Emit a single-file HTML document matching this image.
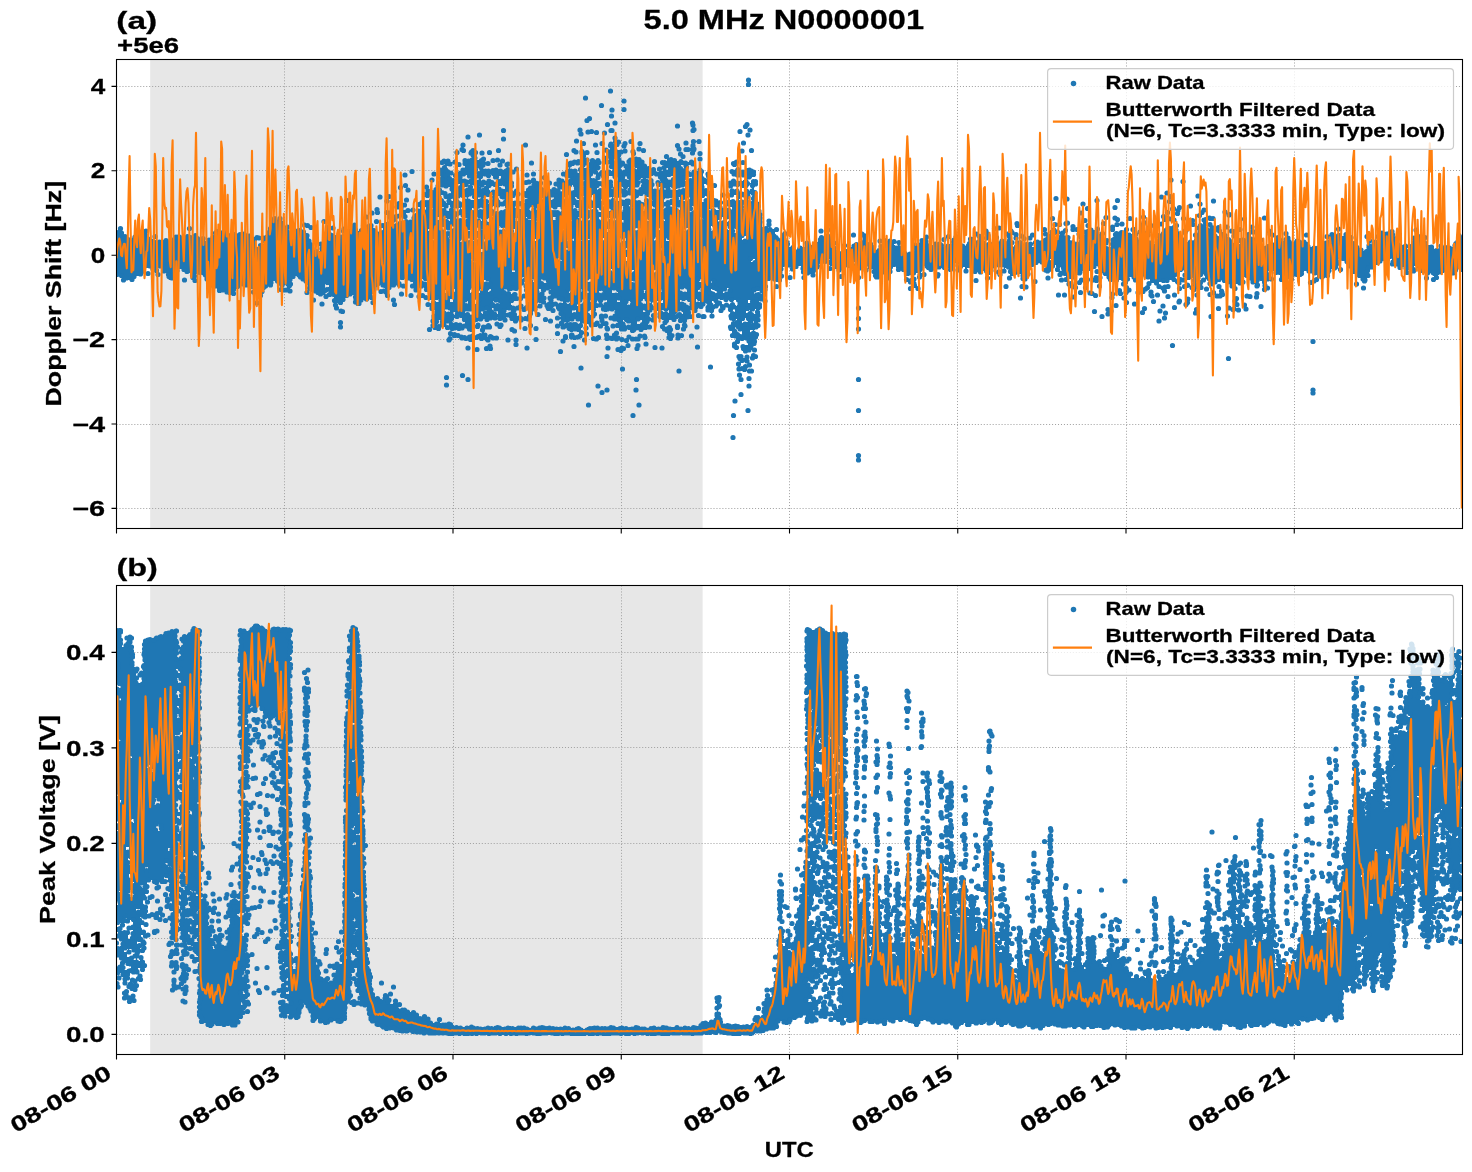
<!DOCTYPE html>
<html><head><meta charset="utf-8"><title>5.0 MHz N0000001</title>
<style>html,body{margin:0;padding:0;background:#fff}svg{display:block;will-change:transform}</style>
</head><body>
<svg width="1472" height="1172" viewBox="0 0 1472 1172" font-family='"Liberation Sans", sans-serif' font-weight="bold" fill="#000">
<defs><clipPath id="ca"><rect x="116.5" y="59.5" width="1346.0" height="469.0"/></clipPath><clipPath id="cb"><rect x="116.5" y="585.5" width="1346.0" height="469.0"/></clipPath></defs>
<rect width="1472" height="1172" fill="#fff"/>
<rect x="150.2" y="59.5" width="552.4" height="469.0" fill="#e7e7e7"/>
<path d="M284.5 59.5V528.5M453.5 59.5V528.5M621.5 59.5V528.5M789.5 59.5V528.5M957.5 59.5V528.5M1126.5 59.5V528.5M1294.5 59.5V528.5M116.5 86.5H1462.5M116.5 170.5H1462.5M116.5 255.5H1462.5M116.5 339.5H1462.5M116.5 424.5H1462.5M116.5 508.5H1462.5" stroke="#a2a2a2" stroke-width="1" stroke-dasharray="1.05 1.92" fill="none"/>
<g clip-path="url(#ca)" fill="none"><path d="M615 137h1M614 138h3M614 139h3M614 140h3M693 140h1M698 140h1M614 141h5M692 141h8M614 142h6M692 142h2M698 142h1M610 143h1M614 143h5M692 143h2M609 144h9M692 144h2M609 145h8M691 145h3M610 146h5M691 146h3M610 147h5M691 147h4M610 148h5M685 148h11M472 149h1M605 149h1M610 149h6M684 149h11M471 150h4M581 150h1M604 150h17M625 150h1M685 150h9M470 151h6M580 151h3M605 151h22M691 151h3M470 152h7M580 152h3M607 152h14M625 152h1M691 152h3M470 153h6M580 153h3M609 153h11M692 153h1M471 154h5M581 154h4M609 154h11M473 155h3M581 155h4M609 155h11M666 155h1M474 156h2M581 156h4M604 156h1M608 156h11M665 156h3M474 157h2M483 157h1M581 157h4M603 157h3M609 157h10M635 157h1M666 157h2M474 158h3M482 158h3M581 158h6M604 158h2M609 158h10M633 158h7M667 158h4M443 159h1M447 159h1M465 159h12M481 159h4M580 159h8M592 159h1M597 159h1M605 159h1M609 159h5M617 159h3M630 159h11M667 159h8M442 160h7M454 160h1M464 160h21M574 160h1M578 160h9M591 160h8M605 160h9M617 160h3M628 160h13M667 160h9M680 160h1M691 160h1M441 161h8M453 161h3M464 161h21M570 161h17M591 161h8M605 161h9M617 161h6M627 161h16M662 161h25M690 161h3M440 162h15M464 162h24M508 162h1M568 162h19M591 162h9M606 162h8M617 162h7M628 162h16M661 162h32M441 163h1M445 163h7M464 163h25M507 163h3M567 163h20M590 163h9M609 163h15M629 163h15M662 163h32M445 164h2M450 164h1M464 164h20M487 164h1M506 164h3M568 164h5M576 164h10M590 164h9M610 164h14M629 164h15M664 164h31M445 165h1M465 165h19M507 165h1M568 165h3M581 165h3M590 165h9M610 165h16M629 165h16M664 165h17M684 165h4M693 165h1M444 166h2M465 166h18M507 166h1M569 166h1M581 166h3M590 166h9M610 166h11M624 166h7M636 166h10M664 166h17M685 166h3M443 167h3M465 167h18M507 167h1M569 167h1M581 167h3M590 167h10M611 167h3M619 167h1M625 167h6M637 167h12M659 167h1M663 167h18M686 167h1M443 168h3M465 168h12M480 168h3M495 168h1M507 168h1M569 168h1M580 168h7M590 168h9M619 168h1M625 168h6M637 168h13M653 168h1M658 168h3M664 168h1M668 168h14M686 168h1M699 168h1M737 168h2M749 168h1M440 169h7M462 169h15M480 169h6M493 169h8M505 169h4M568 169h3M574 169h1M579 169h18M619 169h1M625 169h9M637 169h18M659 169h2M664 169h1M668 169h15M686 169h1M698 169h3M736 169h4M747 169h5M439 170h9M461 170h16M480 170h9M492 170h17M567 170h9M579 170h18M614 170h6M624 170h31M659 170h2M664 170h1M668 170h20M694 170h1M698 170h4M731 170h1M736 170h18M440 171h9M461 171h16M480 171h30M513 171h2M566 171h10M579 171h18M601 171h54M659 171h30M693 171h10M730 171h25M440 172h11M460 172h55M566 172h10M579 172h18M600 172h89M693 172h9M731 172h24M440 173h12M459 173h55M563 173h29M595 173h107M708 173h1M732 173h23M440 174h11M455 174h20M478 174h12M493 174h18M562 174h30M596 174h56M656 174h46M707 174h3M733 174h22M441 175h9M454 175h10M468 175h7M478 175h12M494 175h16M563 175h28M596 175h28M627 175h23M659 175h27M689 175h13M707 175h3M737 175h17M441 176h9M455 176h6M469 176h6M478 176h4M488 176h1M494 176h4M501 176h9M566 176h1M571 176h20M596 176h3M603 176h5M613 176h11M628 176h22M659 176h9M673 176h13M692 176h6M701 176h1M707 176h3M738 176h1M743 176h1M748 176h3M441 177h9M455 177h6M471 177h5M479 177h2M494 177h4M501 177h9M571 177h9M583 177h8M596 177h3M605 177h3M614 177h1M618 177h6M629 177h21M660 177h7M673 177h13M692 177h6M701 177h2M707 177h2M748 177h3M441 178h10M455 178h6M471 178h4M479 178h2M495 178h3M501 178h9M559 178h1M571 178h9M584 178h8M596 178h2M605 178h3M618 178h6M629 178h10M643 178h3M661 178h6M673 178h12M692 178h6M701 178h3M707 178h2M749 178h1M440 179h25M471 179h4M479 179h2M497 179h1M501 179h9M533 179h1M558 179h5M570 179h10M585 179h12M605 179h3M618 179h6M629 179h9M643 179h3M650 179h2M661 179h6M672 179h13M690 179h19M440 180h26M470 180h5M478 180h3M489 180h1M497 180h14M528 180h1M532 180h3M558 180h6M568 180h12M585 180h12M605 180h4M618 180h20M643 180h3M650 180h3M661 180h24M689 180h20M733 180h1M743 180h3M753 180h3M440 181h52M497 181h15M526 181h9M558 181h22M585 181h12M604 181h7M616 181h22M642 181h11M657 181h1M661 181h48M730 181h8M741 181h6M752 181h5M438 182h55M496 182h17M525 182h12M540 182h1M556 182h56M615 182h24M642 182h11M656 182h53M729 182h19M751 182h6M437 183h76M526 183h3M533 183h9M555 183h57M616 183h22M642 183h11M657 183h53M729 183h28M437 184h19M460 184h7M470 184h31M504 184h9M533 184h8M556 184h26M585 184h27M616 184h22M642 184h12M657 184h47M708 184h1M729 184h19M751 184h6M426 185h1M437 185h19M460 185h6M470 185h2M475 185h4M482 185h1M486 185h13M505 185h8M533 185h8M558 185h12M574 185h7M585 185h14M603 185h9M616 185h3M622 185h15M642 185h11M658 185h1M662 185h42M729 185h18M751 185h5M425 186h3M437 186h2M442 186h1M446 186h10M460 186h4M470 186h2M477 186h2M486 186h4M497 186h2M505 186h7M530 186h11M559 186h11M575 186h6M585 186h13M606 186h6M616 186h3M624 186h10M642 186h11M662 186h17M685 186h19M730 186h1M742 186h4M752 186h3M426 187h2M437 187h2M450 187h14M469 187h3M477 187h2M486 187h3M497 187h2M505 187h6M529 187h12M561 187h9M575 187h6M584 187h13M607 187h4M615 187h4M624 187h2M629 187h3M642 187h11M662 187h1M667 187h3M675 187h1M685 187h19M752 187h2M426 188h2M436 188h3M450 188h14M467 188h5M477 188h3M485 188h4M497 188h3M505 188h6M529 188h13M553 188h1M562 188h7M575 188h6M584 188h13M607 188h4M614 188h6M624 188h2M629 188h3M641 188h12M661 188h2M667 188h3M675 188h1M685 188h19M752 188h2M426 189h2M435 189h5M450 189h24M477 189h3M484 189h5M497 189h14M516 189h1M528 189h17M552 189h6M562 189h7M575 189h22M600 189h1M607 189h4M614 189h12M629 189h3M640 189h15M660 189h3M667 189h3M675 189h1M683 189h24M732 189h1M736 189h1M752 189h2M426 190h3M435 190h6M451 190h38M496 190h15M515 190h3M527 190h20M550 190h9M562 190h7M575 190h27M605 190h21M629 190h34M666 190h42M731 190h7M746 190h1M751 190h4M426 191h3M432 191h11M451 191h39M493 191h19M515 191h3M527 191h32M562 191h8M573 191h53M629 191h80M730 191h8M745 191h11M426 192h19M451 192h67M524 192h95M622 192h88M731 192h26M424 193h22M451 193h68M523 193h96M623 193h87M731 193h25M423 194h23M450 194h68M524 194h95M623 194h3M632 194h10M645 194h65M731 194h19M753 194h3M424 195h5M432 195h9M444 195h26M473 195h11M488 195h1M493 195h21M525 195h41M570 195h21M595 195h23M623 195h3M632 195h6M646 195h1M650 195h60M730 195h3M737 195h3M744 195h5M753 195h3M427 196h1M432 196h9M444 196h20M467 196h1M473 196h5M481 196h3M493 196h4M500 196h13M526 196h16M545 196h4M552 196h10M571 196h10M584 196h6M595 196h10M609 196h8M624 196h1M632 196h5M652 196h19M674 196h29M707 196h3M731 196h1M737 196h3M746 196h3M753 196h3M432 197h9M445 197h13M467 197h1M474 197h4M481 197h2M494 197h3M501 197h8M528 197h12M545 197h4M554 197h8M571 197h4M579 197h1M584 197h4M595 197h10M612 197h1M632 197h3M652 197h13M674 197h4M681 197h5M690 197h9M707 197h3M737 197h3M747 197h1M753 197h2M432 198h9M448 198h1M453 198h4M467 198h1M474 198h4M481 198h2M494 198h3M503 198h6M528 198h12M545 198h4M554 198h8M571 198h4M579 198h1M584 198h4M595 198h6M604 198h1M612 198h1M632 198h3M653 198h11M674 198h4M682 198h1M690 198h9M710 198h2M738 198h1M747 198h1M752 198h3M431 199h11M448 199h1M453 199h4M466 199h3M474 199h9M494 199h4M505 199h4M528 199h12M544 199h6M554 199h8M566 199h1M571 199h4M579 199h1M583 199h5M594 199h7M604 199h2M612 199h1M625 199h4M632 199h3M646 199h1M653 199h11M674 199h4M682 199h1M690 199h9M705 199h2M710 199h6M738 199h1M747 199h1M752 199h3M430 200h13M448 200h1M453 200h4M465 200h18M486 200h1M492 200h7M505 200h5M526 200h36M565 200h26M594 200h7M604 200h10M622 200h13M645 200h5M653 200h11M672 200h6M682 200h1M689 200h11M704 200h3M710 200h7M732 200h1M738 200h1M747 200h1M752 200h3M421 201h22M447 201h11M465 201h23M491 201h9M505 201h10M525 201h92M620 201h16M639 201h2M645 201h19M667 201h1M671 201h13M688 201h12M704 201h13M720 201h1M728 201h6M737 201h5M746 201h3M752 201h3M420 202h24M447 202h13M465 202h23M491 202h9M504 202h12M520 202h1M525 202h117M645 202h40M688 202h34M727 202h16M746 202h3M752 202h4M419 203h42M465 203h23M491 203h231M727 203h16M746 203h12M418 204h185M606 204h115M728 204h15M746 204h13M419 205h29M451 205h43M497 205h1M502 205h12M517 205h1M521 205h52M576 205h27M606 205h23M632 205h38M674 205h47M730 205h13M746 205h14M420 206h21M445 206h2M451 206h28M482 206h11M506 206h8M521 206h16M540 206h33M577 206h26M606 206h15M624 206h5M635 206h8M646 206h3M655 206h7M666 206h4M676 206h16M697 206h24M733 206h26M420 207h4M427 207h14M451 207h2M456 207h5M464 207h13M483 207h9M507 207h7M521 207h8M534 207h2M540 207h10M555 207h1M561 207h3M570 207h3M579 207h29M611 207h2M616 207h4M624 207h5M636 207h7M647 207h2M655 207h7M666 207h4M676 207h1M680 207h12M697 207h13M713 207h1M719 207h3M733 207h9M746 207h13M420 208h4M427 208h3M433 208h8M451 208h2M460 208h1M464 208h8M475 208h2M484 208h8M507 208h10M521 208h8M534 208h2M540 208h10M562 208h1M570 208h3M580 208h7M593 208h4M600 208h7M611 208h2M616 208h3M624 208h6M636 208h7M647 208h2M655 208h6M666 208h7M676 208h1M680 208h12M697 208h11M713 208h1M719 208h5M728 208h1M733 208h9M746 208h13M407 209h1M419 209h5M427 209h3M433 209h11M450 209h3M460 209h1M464 209h8M475 209h2M484 209h8M507 209h22M534 209h2M540 209h10M570 209h5M580 209h7M593 209h4M601 209h6M611 209h2M616 209h2M624 209h9M636 209h7M647 209h14M665 209h12M680 209h11M696 209h12M713 209h1M719 209h11M733 209h9M746 209h13M402 210h7M418 210h12M433 210h12M450 210h3M460 210h12M475 210h6M484 210h9M505 210h24M533 210h17M569 210h7M580 210h7M593 210h4M601 210h6M611 210h7M624 210h19M646 210h15M664 210h25M695 210h13M712 210h18M733 210h27M387 211h1M402 211h6M417 211h37M459 211h34M500 211h30M533 211h17M553 211h5M563 211h1M568 211h30M601 211h17M623 211h38M664 211h25M694 211h66M386 212h4M402 212h5M417 212h202M622 212h67M693 212h67M387 213h4M401 213h5M416 213h345M389 214h1M400 214h6M414 214h347M389 215h1M395 215h11M413 215h43M461 215h13M478 215h88M571 215h190M389 216h1M394 216h6M404 216h3M413 216h30M446 216h9M462 216h12M478 216h12M493 216h72M571 216h33M608 216h153M1209 216h1M274 217h1M280 217h1M388 217h3M394 217h5M405 217h1M412 217h25M440 217h3M448 217h7M462 217h3M468 217h6M479 217h7M493 217h33M529 217h24M556 217h9M571 217h7M582 217h17M603 217h1M610 217h2M615 217h65M683 217h17M704 217h17M724 217h38M1208 217h6M273 218h3M279 218h3M389 218h7M412 218h25M440 218h3M450 218h5M462 218h3M468 218h6M482 218h4M493 218h22M518 218h8M531 218h5M539 218h14M556 218h9M568 218h10M583 218h5M592 218h7M603 218h1M610 218h2M616 218h2M621 218h25M649 218h13M665 218h15M683 218h17M704 218h16M725 218h2M730 218h32M1205 218h10M273 219h3M279 219h3M389 219h6M412 219h25M440 219h3M450 219h6M460 219h5M468 219h8M482 219h4M493 219h22M518 219h8M531 219h5M540 219h13M556 219h22M583 219h5M593 219h6M603 219h1M610 219h2M616 219h2M625 219h21M649 219h13M665 219h15M684 219h16M704 219h14M725 219h2M730 219h32M768 219h1M1204 219h3M1210 219h4M272 220h10M389 220h5M406 220h1M410 220h37M450 220h6M459 220h20M482 220h4M492 220h23M518 220h9M531 220h5M540 220h29M572 220h8M583 220h5M593 220h6M602 220h3M610 220h3M616 220h2M625 220h21M649 220h13M665 220h15M684 220h34M725 220h2M730 220h32M767 220h3M1203 220h3M271 221h11M389 221h5M400 221h1M405 221h82M490 221h46M540 221h29M572 221h18M593 221h13M609 221h4M616 221h4M625 221h55M684 221h34M723 221h4M730 221h32M768 221h2M1204 221h2M271 222h12M388 222h6M399 222h170M572 222h49M625 222h137M768 222h2M1204 222h2M271 223h11M385 223h9M399 223h363M768 223h2M1204 223h6M271 224h11M354 224h1M363 224h1M371 224h1M382 224h380M768 224h3M1088 224h1M1176 224h1M1200 224h1M1204 224h7M270 225h12M287 225h1M327 225h1M353 225h3M362 225h3M368 225h5M381 225h381M769 225h1M1073 225h1M1087 225h3M1174 225h4M1199 225h7M1209 225h2M270 226h13M286 226h3M326 226h3M332 226h1M352 226h4M362 226h2M367 226h5M382 226h69M455 226h44M502 226h209M714 226h12M729 226h33M769 226h1M1072 226h3M1088 226h2M1168 226h1M1173 226h4M1198 226h8M1211 226h2M1218 226h1M1252 226h1M120 227h1M270 227h18M326 227h8M351 227h5M362 227h2M367 227h5M383 227h59M445 227h5M455 227h19M479 227h7M490 227h8M506 227h56M565 227h3M571 227h64M641 227h70M717 227h9M730 227h36M769 227h1M1072 227h3M1088 227h2M1097 227h1M1167 227h10M1197 227h9M1211 227h3M1217 227h3M1251 227h3M119 228h3M269 228h19M326 228h3M332 228h1M351 228h5M362 228h2M367 228h5M383 228h45M431 228h11M446 228h3M455 228h11M469 228h5M480 228h1M484 228h1M494 228h4M507 228h54M566 228h1M572 228h62M642 228h1M647 228h11M662 228h22M688 228h23M717 228h9M730 228h4M738 228h34M776 228h1M1044 228h1M1053 228h1M1072 228h5M1081 228h1M1088 228h4M1096 228h3M1126 228h1M1132 228h3M1167 228h10M1198 228h9M1211 228h3M1217 228h3M1252 228h2M118 229h4M146 229h1M269 229h19M298 229h3M327 229h1M350 229h7M361 229h14M383 229h45M431 229h11M453 229h13M470 229h4M480 229h1M494 229h4M507 229h6M516 229h44M566 229h1M573 229h34M610 229h24M642 229h1M647 229h11M662 229h21M688 229h23M717 229h9M730 229h4M739 229h39M1010 229h1M1043 229h3M1052 229h3M1065 229h1M1071 229h12M1088 229h5M1096 229h2M1125 229h3M1131 229h5M1165 229h12M1199 229h21M1252 229h2M118 230h4M142 230h6M216 230h2M223 230h1M269 230h19M293 230h11M327 230h1M350 230h7M360 230h16M383 230h45M431 230h11M452 230h14M470 230h5M480 230h1M488 230h1M494 230h6M503 230h1M507 230h6M516 230h44M566 230h1M573 230h34M610 230h24M642 230h1M647 230h11M662 230h21M688 230h23M714 230h20M739 230h38M1009 230h3M1044 230h2M1052 230h6M1064 230h3M1072 230h1M1076 230h22M1125 230h2M1132 230h4M1164 230h13M1199 230h22M1252 230h3M1392 230h1M117 231h5M141 231h6M215 231h4M222 231h4M269 231h20M292 231h13M327 231h1M350 231h26M382 231h61M451 231h16M470 231h13M487 231h26M516 231h44M564 231h6M573 231h34M610 231h25M638 231h45M686 231h48M739 231h36M1009 231h3M1044 231h2M1051 231h8M1062 231h4M1077 231h3M1084 231h14M1121 231h1M1125 231h1M1132 231h4M1164 231h13M1199 231h17M1219 231h2M1251 231h5M1389 231h5M116 232h7M140 232h7M214 232h13M244 232h1M268 232h21M292 232h14M327 232h3M350 232h28M381 232h132M516 232h218M738 232h37M785 232h1M861 232h1M976 232h1M1009 232h4M1044 232h2M1051 232h7M1061 232h3M1077 232h3M1085 232h13M1102 232h1M1116 232h1M1120 232h6M1132 232h4M1163 232h15M1198 232h18M1250 232h5M1285 232h1M1382 232h12M116 233h7M136 233h11M214 233h13M233 233h1M239 233h7M267 233h40M326 233h5M349 233h426M784 233h3M860 233h3M975 233h3M1007 233h5M1044 233h3M1051 233h4M1061 233h3M1077 233h3M1086 233h12M1101 233h3M1115 233h11M1132 233h4M1161 233h18M1198 233h18M1221 233h2M1248 233h4M1284 233h3M1332 233h1M1346 233h1M1381 233h13M115 234h9M135 234h12M195 234h1M214 234h33M267 234h41M326 234h6M345 234h430M783 234h3M861 234h4M976 234h4M1006 234h5M1045 234h8M1061 234h3M1078 234h2M1086 234h17M1114 234h12M1129 234h8M1157 234h22M1195 234h21M1221 234h4M1247 234h4M1285 234h2M1331 234h3M1337 234h3M1345 234h3M1381 234h13M1458 234h1M115 235h10M134 235h14M176 235h4M187 235h1M194 235h3M214 235h37M267 235h42M325 235h8M344 235h431M782 235h3M827 235h2M863 235h3M926 235h1M955 235h1M978 235h3M1007 235h4M1047 235h6M1061 235h3M1086 235h15M1114 235h22M1156 235h24M1194 235h22M1222 235h4M1247 235h4M1286 235h1M1327 235h1M1331 235h10M1345 235h3M1377 235h17M1420 235h1M1457 235h3M115 236h12M133 236h15M175 236h6M186 236h5M194 236h3M213 236h39M257 236h1M264 236h45M325 236h123M451 236h292M746 236h31M782 236h3M821 236h1M826 236h4M863 236h3M925 236h3M954 236h3M979 236h2M1008 236h3M1047 236h6M1060 236h4M1067 236h2M1080 236h2M1085 236h16M1114 236h22M1157 236h23M1195 236h21M1222 236h4M1247 236h4M1259 236h1M1278 236h1M1286 236h2M1326 236h25M1376 236h18M1414 236h1M1419 236h6M1458 236h4M115 237h13M133 237h16M174 237h24M203 237h1M212 237h40M256 237h4M263 237h46M324 237h124M451 237h14M470 237h109M582 237h72M657 237h85M746 237h32M782 237h3M820 237h3M826 237h4M863 237h3M925 237h2M954 237h4M970 237h1M979 237h2M1009 237h1M1047 237h6M1060 237h10M1080 237h21M1114 237h22M1142 237h1M1158 237h22M1195 237h24M1222 237h6M1247 237h5M1258 237h3M1277 237h3M1286 237h3M1327 237h25M1377 237h18M1413 237h13M1460 237h3M115 238h14M133 238h17M173 238h26M202 238h3M209 238h52M264 238h45M324 238h107M434 238h14M451 238h9M463 238h2M471 238h5M479 238h8M490 238h44M539 238h28M574 238h3M583 238h4M590 238h10M607 238h2M614 238h5M622 238h1M626 238h28M658 238h8M669 238h73M746 238h32M782 238h3M819 238h11M863 238h3M925 238h2M954 238h4M969 238h4M979 238h3M1009 238h1M1046 238h10M1059 238h11M1080 238h21M1113 238h23M1141 238h3M1158 238h26M1195 238h35M1235 238h2M1242 238h1M1247 238h5M1255 238h7M1276 238h5M1285 238h4M1329 238h23M1377 238h19M1414 238h11M1460 238h3M115 239h14M132 239h21M165 239h1M172 239h33M208 239h48M259 239h1M264 239h46M323 239h108M434 239h26M463 239h2M471 239h2M479 239h4M486 239h1M490 239h44M539 239h28M574 239h3M583 239h4M590 239h10M607 239h2M614 239h4M626 239h28M658 239h8M669 239h73M746 239h40M819 239h13M863 239h3M879 239h1M884 239h1M890 239h1M922 239h5M953 239h6M969 239h5M979 239h3M1002 239h1M1009 239h1M1045 239h25M1080 239h22M1106 239h1M1112 239h25M1141 239h6M1158 239h27M1194 239h37M1235 239h9M1247 239h10M1260 239h3M1275 239h6M1284 239h5M1329 239h23M1377 239h19M1414 239h11M1460 239h4M115 240h38M159 240h46M208 240h47M264 240h47M323 240h108M434 240h26M463 240h2M471 240h2M479 240h4M486 240h1M490 240h44M539 240h28M574 240h3M583 240h4M590 240h10M607 240h2M614 240h4M626 240h28M658 240h8M669 240h118M819 240h14M863 240h3M878 240h8M889 240h5M921 240h6M953 240h6M969 240h4M978 240h4M1001 240h3M1008 240h3M1037 240h1M1044 240h26M1080 240h28M1113 240h24M1140 240h8M1157 240h28M1194 240h37M1236 240h20M1261 240h1M1275 240h6M1284 240h6M1297 240h1M1304 240h1M1329 240h23M1375 240h21M1414 240h11M1457 240h7M116 241h38M158 241h96M264 241h47M323 241h137M463 241h10M478 241h5M486 241h93M583 241h27M613 241h5M624 241h164M818 241h15M861 241h5M879 241h1M884 241h11M898 241h1M921 241h7M952 241h8M969 241h4M977 241h6M1000 241h4M1008 241h5M1019 241h1M1035 241h35M1073 241h1M1080 241h27M1113 241h35M1152 241h1M1157 241h29M1189 241h2M1194 241h38M1240 241h16M1275 241h16M1296 241h4M1303 241h3M1327 241h26M1374 241h22M1413 241h12M1456 241h8M116 242h138M264 242h47M320 242h299M623 242h165M806 242h1M816 242h18M860 242h7M870 242h1M884 242h10M897 242h3M921 242h7M939 242h1M952 242h8M969 242h4M976 242h8M995 242h1M999 242h15M1017 242h4M1034 242h41M1079 242h28M1113 242h41M1157 242h75M1240 242h16M1275 242h16M1294 242h13M1325 242h29M1372 242h27M1413 242h13M1456 242h8M116 243h138M264 243h48M319 243h469M805 243h3M815 243h20M856 243h1M860 243h12M884 243h10M898 243h1M914 243h1M920 243h8M935 243h6M952 243h9M968 243h17M988 243h25M1016 243h6M1026 243h1M1030 243h1M1035 243h71M1112 243h42M1157 243h79M1240 243h16M1273 243h35M1324 243h31M1372 243h28M1413 243h13M1455 243h9M115 244h140M260 244h52M320 244h469M805 244h3M814 244h21M854 244h18M884 244h10M898 244h1M913 244h3M920 244h8M934 244h8M948 244h15M968 244h44M1016 244h16M1035 244h70M1111 244h148M1270 244h38M1324 244h31M1368 244h1M1372 244h29M1405 244h1M1412 244h15M1441 244h1M1454 244h10M115 245h140M259 245h53M321 245h468M805 245h30M853 245h20M881 245h14M898 245h1M914 245h2M919 245h24M947 245h17M967 245h45M1016 245h16M1035 245h70M1111 245h149M1267 245h42M1324 245h32M1367 245h40M1410 245h22M1440 245h3M1453 245h11M115 246h141M259 246h53M321 246h468M792 246h1M800 246h2M805 246h30M852 246h22M880 246h20M915 246h28M946 246h66M1015 246h17M1035 246h70M1111 246h149M1266 246h44M1313 246h1M1317 246h1M1323 246h35M1367 246h39M1409 246h24M1441 246h5M1449 246h1M1453 246h11M115 247h198M321 247h473M799 247h37M851 247h24M879 247h22M915 247h345M1264 247h55M1323 247h36M1367 247h39M1409 247h24M1441 247h23M115 248h199M321 248h245M569 248h55M629 248h31M663 248h131M798 248h38M851 248h24M879 248h22M915 248h404M1323 248h38M1367 248h39M1409 248h25M1441 248h23M115 249h199M321 249h160M484 249h82M569 249h7M580 249h41M629 249h31M663 249h131M798 249h38M850 249h25M878 249h26M915 249h404M1322 249h40M1366 249h40M1409 249h55M115 250h202M320 250h161M484 250h82M569 250h7M580 250h41M629 250h31M663 250h131M797 250h40M846 250h59M915 250h448M1366 250h98M115 251h366M484 251h92M580 251h41M624 251h214M844 251h61M914 251h550M115 252h723M841 252h65M910 252h554M115 253h1349M115 254h1349M115 255h1349M115 256h1349M115 257h509M628 257h836M115 258h443M561 258h63M628 258h49M680 258h709M1392 258h72M115 259h356M474 259h84M562 259h62M628 259h49M680 259h71M755 259h72M830 259h218M1051 259h287M1341 259h48M1392 259h72M115 260h356M478 260h80M562 260h63M628 260h49M680 260h71M755 260h71M830 260h217M1051 260h287M1345 260h43M1392 260h72M115 261h356M478 261h81M562 261h189M755 261h71M830 261h23M856 261h5M864 261h183M1051 261h287M1345 261h37M1385 261h3M1392 261h72M115 262h357M478 262h342M824 262h1M830 262h23M857 262h4M865 262h182M1050 262h288M1346 262h35M1386 262h1M1391 262h73M115 263h704M830 263h23M858 263h3M866 263h89M958 263h80M1042 263h296M1347 263h27M1377 263h2M1391 263h73M115 264h704M831 264h23M858 264h3M867 264h88M959 264h76M1046 264h292M1348 264h25M1391 264h72M116 265h668M788 265h31M834 265h21M859 265h1M868 265h87M959 265h75M1046 265h8M1057 265h280M1349 265h24M1392 265h1M1396 265h67M116 266h668M789 266h9M801 266h18M835 266h14M853 266h1M859 266h1M868 266h24M896 266h27M926 266h28M959 266h35M999 266h1M1004 266h27M1046 266h8M1057 266h39M1099 266h238M1350 266h23M1399 266h15M1417 266h46M116 267h42M162 267h621M791 267h6M801 267h17M836 267h9M859 267h1M868 267h24M896 267h27M926 267h28M959 267h2M965 267h3M971 267h22M1004 267h25M1046 267h7M1057 267h2M1062 267h33M1099 267h238M1351 267h23M1399 267h3M1405 267h9M1418 267h45M115 268h30M152 268h6M163 268h446M613 268h170M791 268h3M801 268h15M837 268h7M858 268h3M868 268h24M897 268h25M927 268h13M943 268h2M949 268h4M965 268h2M971 268h22M1004 268h1M1008 268h20M1045 268h6M1057 268h2M1062 268h29M1099 268h237M1352 268h17M1372 268h1M1400 268h1M1405 268h9M1418 268h45M115 269h29M152 269h6M163 269h16M182 269h330M515 269h94M614 269h168M791 269h3M801 269h14M838 269h4M859 269h1M873 269h19M897 269h25M929 269h7M949 269h3M965 269h2M971 269h22M1003 269h2M1009 269h19M1044 269h7M1056 269h3M1062 269h28M1102 269h229M1334 269h1M1352 269h17M1405 269h10M1418 269h39M1460 269h3M116 270h28M153 270h5M163 270h16M183 270h329M515 270h94M614 270h16M634 270h19M656 270h125M792 270h1M802 270h13M838 270h3M873 270h19M898 270h1M903 270h18M931 270h2M950 270h1M964 270h3M972 270h21M1002 270h3M1009 270h18M1045 270h5M1057 270h2M1062 270h25M1102 270h79M1185 270h83M1273 270h58M1352 270h17M1405 270h3M1411 270h4M1419 270h38M1461 270h1M117 271h26M156 271h2M162 271h16M186 271h326M515 271h96M614 271h16M634 271h19M656 271h125M802 271h12M839 271h1M873 271h19M904 271h17M965 271h1M972 271h10M985 271h7M1003 271h1M1009 271h18M1046 271h3M1059 271h23M1103 271h74M1185 271h83M1274 271h30M1307 271h23M1352 271h16M1405 271h3M1412 271h3M1421 271h1M1426 271h17M1446 271h10M117 272h26M157 272h1M163 272h14M187 272h1M191 272h439M634 272h19M656 272h125M803 272h11M874 272h17M906 272h15M973 272h2M979 272h3M987 272h3M1010 272h17M1047 272h1M1059 272h22M1103 272h74M1185 272h83M1274 272h29M1308 272h22M1353 272h15M1405 272h3M1413 272h1M1426 272h16M1447 272h9M117 273h25M157 273h2M167 273h10M191 273h9M203 273h578M806 273h8M874 273h6M886 273h3M906 273h9M919 273h5M980 273h1M988 273h1M1010 273h6M1021 273h7M1059 273h21M1103 273h37M1143 273h34M1185 273h83M1275 273h1M1280 273h23M1313 273h16M1357 273h11M1406 273h1M1426 273h3M1432 273h9M1448 273h7M116 274h26M157 274h3M167 274h9M191 274h5M204 274h578M807 274h1M811 274h3M874 274h6M887 274h1M907 274h2M913 274h1M919 274h6M1010 274h5M1021 274h8M1058 274h3M1065 274h13M1104 274h36M1143 274h34M1184 274h18M1205 274h64M1280 274h23M1314 274h15M1358 274h10M1426 274h3M1434 274h5M1448 274h6M117 275h24M158 275h1M167 275h9M191 275h5M204 275h579M812 275h1M874 275h6M887 275h1M919 275h5M1010 275h1M1021 275h7M1059 275h1M1066 275h11M1107 275h33M1144 275h32M1185 275h16M1205 275h63M1280 275h22M1318 275h11M1358 275h11M1426 275h2M1434 275h4M1449 275h1M121 276h15M167 276h8M191 276h5M205 276h89M298 276h484M875 276h5M887 276h1M918 276h3M1009 276h2M1022 276h5M1066 276h10M1107 276h34M1145 276h30M1187 276h13M1205 276h63M1280 276h13M1318 276h6M1327 276h1M1359 276h9M1425 276h3M1434 276h4M122 277h13M168 277h6M192 277h4M205 277h88M299 277h105M407 277h114M524 277h257M875 277h4M886 277h3M919 277h1M1008 277h3M1022 277h5M1066 277h10M1107 277h22M1132 277h8M1146 277h29M1187 277h13M1205 277h39M1249 277h19M1280 277h13M1318 277h5M1361 277h6M1425 277h3M1434 277h4M122 278h12M170 278h3M193 278h3M205 278h87M300 278h99M402 278h1M407 278h114M524 278h257M876 278h2M887 278h1M906 278h1M914 278h1M1009 278h1M1022 278h5M1061 278h1M1065 278h3M1071 278h4M1108 278h21M1133 278h7M1147 278h28M1180 278h4M1188 278h1M1193 278h6M1203 278h41M1250 278h22M1280 278h13M1321 278h1M1361 278h6M1426 278h1M1433 278h4M122 279h11M193 279h3M206 279h86M301 279h97M408 279h14M425 279h96M524 279h8M535 279h5M547 279h41M591 279h45M639 279h19M661 279h38M702 279h67M772 279h9M905 279h11M1023 279h3M1060 279h8M1109 279h9M1122 279h6M1134 279h6M1150 279h26M1179 279h6M1193 279h6M1202 279h3M1208 279h36M1250 279h23M1280 279h6M1291 279h1M1361 279h6M1432 279h3M123 280h2M131 280h1M193 280h3M207 280h84M302 280h96M411 280h11M428 280h55M489 280h43M535 280h5M547 280h39M591 280h39M639 280h19M661 280h38M702 280h66M774 280h6M906 280h9M1061 280h1M1065 280h3M1110 280h2M1115 280h3M1123 280h5M1135 280h6M1150 280h19M1174 280h10M1193 280h6M1202 280h2M1209 280h11M1223 280h21M1251 280h7M1263 280h3M1271 280h1M1281 280h5M1362 280h5M1433 280h1M194 281h1M208 281h65M276 281h15M305 281h93M412 281h10M428 281h55M489 281h34M526 281h6M535 281h5M547 281h39M591 281h39M639 281h19M661 281h38M702 281h9M714 281h53M909 281h6M1067 281h1M1116 281h1M1123 281h5M1137 281h3M1150 281h18M1176 281h5M1193 281h3M1209 281h8M1224 281h21M1252 281h5M1263 281h3M1284 281h2M1362 281h4M209 282h64M277 282h14M306 282h94M413 282h10M428 282h55M489 282h34M526 282h16M547 282h39M590 282h40M637 282h74M714 282h52M910 282h5M1067 282h4M1123 282h4M1137 282h3M1149 282h10M1177 282h4M1193 282h3M1209 282h8M1229 282h15M1252 282h5M1263 282h3M1284 282h3M1363 282h2M209 283h63M279 283h13M307 283h94M413 283h110M526 283h107M636 283h75M714 283h52M913 283h3M1067 283h5M1123 283h3M1137 283h3M1148 283h3M1155 283h4M1179 283h1M1193 283h3M1208 283h9M1230 283h11M1253 283h4M1263 283h3M1285 283h2M210 284h62M280 284h12M308 284h17M329 284h49M381 284h14M398 284h3M413 284h109M526 284h240M913 284h3M1068 284h4M1122 284h4M1137 284h3M1148 284h2M1156 284h3M1186 284h2M1193 284h3M1209 284h3M1231 284h4M1239 284h1M1255 284h3M1263 284h3M1285 284h2M210 285h30M243 285h24M270 285h1M282 285h1M287 285h4M308 285h17M329 285h48M382 285h13M398 285h6M412 285h108M525 285h241M913 285h3M1071 285h2M1123 285h3M1138 285h2M1148 285h1M1157 285h2M1184 285h5M1193 285h3M1231 285h4M1255 285h4M1263 285h3M1285 285h2M211 286h28M246 286h1M251 286h16M282 286h1M287 286h3M308 286h17M329 286h47M383 286h11M399 286h6M411 286h7M421 286h99M525 286h242M913 286h3M1071 286h5M1124 286h3M1139 286h2M1147 286h2M1157 286h3M1183 286h14M1232 286h3M1255 286h3M1264 286h4M1285 286h3M214 287h24M252 287h14M282 287h1M287 287h3M308 287h17M328 287h48M386 287h5M403 287h1M412 287h6M424 287h95M525 287h157M686 287h81M1072 287h5M1125 287h3M1139 287h3M1145 287h4M1158 287h1M1184 287h1M1190 287h6M1233 287h3M1256 287h1M1264 287h5M1286 287h1M217 288h18M253 288h11M280 288h10M309 288h67M386 288h4M414 288h3M425 288h45M473 288h32M508 288h10M525 288h155M687 288h12M702 288h24M729 288h38M1075 288h1M1126 288h3M1140 288h8M1191 288h5M1234 288h3M1264 288h4M217 289h18M253 289h11M279 289h12M309 289h67M386 289h2M414 289h3M425 289h27M455 289h15M474 289h4M481 289h7M491 289h13M509 289h4M516 289h1M525 289h14M542 289h3M551 289h18M572 289h9M584 289h1M589 289h11M603 289h56M662 289h18M687 289h11M702 289h9M716 289h9M729 289h29M761 289h6M1126 289h4M1141 289h5M1193 289h3M1235 289h1M1263 289h3M218 290h16M253 290h11M280 290h12M309 290h66M380 290h8M414 290h3M426 290h19M448 290h3M455 290h15M474 290h3M481 290h7M491 290h13M526 290h13M542 290h2M551 290h18M572 290h9M584 290h1M590 290h9M604 290h8M618 290h25M646 290h13M662 290h18M687 290h11M702 290h9M717 290h6M729 290h25M761 290h5M1126 290h3M1141 290h3M1194 290h1M1264 290h1M219 291h15M253 291h5M261 291h3M290 291h1M314 291h12M329 291h46M379 291h9M415 291h1M428 291h17M448 291h3M455 291h15M474 291h3M481 291h7M491 291h13M528 291h11M542 291h2M551 291h18M572 291h9M584 291h1M590 291h9M604 291h8M618 291h25M646 291h13M662 291h20M687 291h11M702 291h9M719 291h4M729 291h25M762 291h4M1125 291h3M1141 291h3M226 292h8M252 292h4M261 292h2M316 292h9M329 292h45M380 292h8M429 292h16M448 292h3M455 292h15M473 292h4M481 292h24M508 292h1M528 292h11M542 292h2M550 292h19M572 292h14M590 292h9M604 292h8M618 292h25M646 292h68M719 292h4M726 292h28M762 292h4M1124 292h3M1142 292h1M227 293h8M253 293h1M261 293h1M317 293h8M329 293h44M386 293h2M429 293h81M514 293h2M528 293h16M551 293h49M603 293h112M719 293h35M758 293h1M762 293h3M1125 293h1M233 294h1M260 294h2M319 294h6M328 294h23M355 294h17M386 294h2M422 294h1M429 294h88M524 294h1M528 294h15M551 294h214M259 295h3M320 295h2M325 295h5M333 295h17M355 295h17M386 295h3M419 295h5M428 295h89M523 295h20M551 295h214M260 296h1M325 296h3M334 296h14M355 296h17M387 296h1M418 296h99M523 296h20M550 296h214M326 297h1M334 297h12M354 297h19M419 297h1M424 297h93M520 297h2M527 297h17M550 297h214M334 298h11M354 298h18M425 298h1M430 298h45M478 298h44M529 298h16M549 298h4M557 298h207M333 299h12M354 299h15M433 299h2M439 299h11M453 299h20M479 299h38M520 299h1M530 299h14M550 299h3M558 299h1M562 299h20M586 299h4M593 299h24M620 299h22M645 299h9M657 299h23M683 299h13M699 299h18M724 299h42M333 300h11M354 300h8M365 300h2M433 300h2M439 300h11M453 300h19M479 300h34M530 300h14M550 300h3M563 300h18M586 300h4M593 300h3M599 300h3M607 300h10M620 300h21M646 300h2M651 300h3M659 300h1M663 300h17M689 300h7M700 300h17M725 300h1M731 300h1M738 300h10M751 300h8M764 300h3M334 301h8M354 301h7M433 301h2M439 301h11M453 301h12M468 301h4M479 301h14M500 301h12M530 301h7M540 301h4M550 301h3M563 301h3M570 301h8M586 301h4M593 301h3M600 301h1M607 301h10M620 301h8M632 301h9M646 301h2M651 301h2M659 301h1M663 301h17M690 301h6M700 301h12M715 301h2M738 301h10M751 301h8M765 301h1M335 302h7M355 302h6M432 302h33M468 302h4M478 302h15M500 302h11M530 302h6M542 302h3M550 302h6M563 302h3M570 302h8M584 302h12M600 302h1M607 302h20M632 302h9M646 302h2M651 302h1M659 302h1M663 302h20M690 302h6M700 302h5M708 302h4M716 302h4M738 302h10M751 302h8M335 303h2M340 303h1M356 303h5M428 303h37M468 303h5M477 303h16M500 303h11M528 303h8M543 303h2M548 303h9M560 303h6M570 303h7M583 303h13M600 303h1M605 303h22M632 303h9M646 303h6M658 303h27M690 303h15M708 303h4M716 303h5M726 303h1M732 303h1M738 303h22M335 304h2M357 304h3M427 304h84M527 304h9M546 304h31M581 304h16M600 304h1M604 304h23M631 304h21M657 304h29M691 304h13M708 304h5M716 304h5M725 304h3M731 304h3M738 304h23M334 305h3M428 305h84M520 305h2M527 305h9M539 305h1M546 305h7M557 305h20M580 305h47M631 305h21M657 305h30M691 305h11M707 305h11M721 305h13M737 305h24M335 306h2M430 306h84M519 306h4M526 306h15M547 306h5M557 306h40M600 306h52M657 306h31M691 306h11M707 306h10M721 306h4M729 306h32M335 307h3M431 307h13M447 307h93M547 307h5M557 307h38M602 307h95M700 307h1M706 307h9M721 307h4M729 307h32M336 308h1M431 308h13M449 308h35M487 308h5M495 308h24M522 308h5M530 308h7M547 308h5M558 308h37M602 308h94M707 308h7M721 308h4M729 308h31M432 309h12M450 309h34M487 309h5M495 309h23M522 309h3M530 309h6M548 309h1M558 309h37M602 309h7M612 309h31M646 309h11M660 309h1M666 309h30M707 309h6M720 309h4M729 309h3M735 309h18M756 309h4M435 310h9M450 310h15M470 310h14M487 310h5M496 310h9M511 310h3M523 310h1M530 310h5M559 310h13M576 310h12M593 310h2M603 310h5M616 310h27M646 310h5M660 310h1M669 310h10M683 310h7M693 310h3M707 310h6M719 310h3M730 310h2M735 310h11M750 310h1M756 310h3M436 311h8M450 311h15M473 311h8M484 311h9M498 311h6M511 311h3M529 311h3M560 311h12M576 311h12M593 311h2M616 311h27M646 311h3M660 311h1M669 311h7M683 311h7M694 311h1M708 311h4M720 311h1M731 311h1M735 311h11M750 311h1M756 311h3M436 312h9M448 312h5M456 312h9M473 312h8M484 312h9M498 312h6M511 312h3M529 312h3M560 312h12M576 312h12M593 312h2M616 312h33M659 312h3M669 312h6M683 312h7M711 312h1M731 312h15M750 312h1M756 312h3M436 313h17M456 313h12M473 313h8M484 313h11M498 313h6M510 313h5M529 313h3M560 313h28M593 313h3M616 313h33M659 313h16M679 313h1M683 313h7M711 313h1M731 313h21M756 313h4M434 314h19M456 314h13M473 314h43M529 314h2M561 314h28M593 314h3M601 314h1M605 314h1M615 314h34M658 314h17M678 314h12M711 314h1M731 314h29M433 315h83M528 315h3M561 315h34M600 315h7M614 315h35M658 315h33M710 315h3M731 315h29M433 316h25M461 316h55M519 316h2M528 316h2M561 316h33M600 316h6M610 316h1M614 316h35M658 316h34M711 316h1M730 316h29M432 317h25M463 317h33M499 317h7M509 317h13M525 317h5M557 317h36M600 317h3M609 317h40M659 317h32M730 317h29M432 318h21M463 318h33M499 318h7M510 318h6M519 318h11M556 318h28M587 318h5M600 318h3M610 318h39M663 318h12M679 318h9M731 318h13M747 318h12M432 319h20M463 319h19M485 319h6M494 319h1M500 319h6M511 319h5M519 319h3M525 319h5M557 319h1M562 319h10M576 319h8M587 319h5M600 319h3M611 319h39M664 319h11M679 319h7M733 319h1M737 319h6M748 319h11M432 320h6M441 320h11M464 320h12M480 320h1M486 320h1M503 320h3M514 320h2M520 320h1M528 320h1M562 320h2M567 320h1M577 320h7M587 320h5M600 320h3M618 320h5M626 320h12M642 320h7M664 320h4M673 320h1M679 320h7M733 320h1M737 320h5M748 320h10M432 321h6M441 321h11M465 321h9M504 321h1M514 321h3M562 321h1M567 321h1M580 321h12M596 321h1M601 321h2M618 321h5M627 321h10M642 321h7M664 321h3M680 321h1M684 321h1M733 321h1M737 321h5M748 321h3M754 321h4M432 322h5M441 322h5M450 322h2M465 322h8M515 322h1M561 322h2M567 322h1M580 322h4M587 322h5M595 322h3M601 322h5M618 322h5M628 322h9M642 322h6M663 322h3M684 322h1M733 322h9M748 322h3M754 322h4M432 323h5M441 323h5M450 323h2M456 323h1M465 323h8M477 323h1M560 323h3M566 323h10M580 323h2M590 323h8M601 323h6M618 323h6M632 323h5M642 323h6M663 323h2M684 323h1M732 323h19M754 323h4M432 324h5M440 324h6M450 324h11M464 324h9M476 324h3M488 324h1M560 324h22M590 324h17M617 324h7M632 324h16M663 324h1M683 324h3M732 324h26M431 325h15M450 325h29M483 325h7M557 325h25M590 325h6M599 325h8M616 325h9M632 325h18M662 325h2M684 325h3M730 325h29M431 326h9M446 326h27M476 326h3M482 326h9M556 326h3M562 326h19M591 326h1M600 326h1M605 326h2M617 326h8M628 326h23M661 326h3M669 326h1M684 326h2M729 326h29M431 327h9M446 327h17M467 327h6M477 327h1M482 327h8M557 327h1M562 327h19M605 327h3M620 327h30M662 327h9M684 327h1M729 327h6M738 327h20M434 328h6M447 328h15M468 328h5M482 328h5M563 328h1M568 328h13M606 328h2M620 328h27M663 328h8M683 328h2M729 328h6M738 328h19M438 329h1M452 329h3M459 329h1M468 329h5M482 329h2M569 329h12M606 329h3M620 329h5M631 329h13M663 329h9M682 329h3M730 329h5M739 329h16M469 330h3M481 330h3M571 330h1M578 330h3M607 330h1M621 330h2M631 330h3M639 330h2M664 330h7M683 330h1M732 330h3M742 330h8M753 330h1M482 331h2M580 331h2M616 331h1M632 331h1M666 331h5M732 331h4M742 331h8M753 331h1M450 332h1M482 332h2M580 332h3M615 332h3M668 332h3M732 332h4M742 332h8M753 332h1M449 333h6M482 333h3M580 333h2M614 333h3M668 333h3M732 333h6M742 333h15M450 334h8M472 334h1M480 334h6M571 334h2M580 334h1M606 334h1M613 334h4M669 334h3M732 334h7M742 334h16M453 335h9M471 335h3M478 335h7M490 335h1M570 335h4M577 335h4M605 335h3M613 335h4M639 335h1M644 335h1M669 335h4M731 335h26M454 336h11M469 336h16M489 336h4M570 336h11M606 336h13M628 336h1M638 336h8M669 336h3M732 336h25M461 337h11M475 337h10M489 337h8M571 337h9M606 337h14M627 337h13M643 337h3M668 337h4M735 337h21M461 338h11M476 338h1M480 338h18M574 338h1M606 338h16M627 338h12M644 338h1M669 338h3M736 338h19M462 339h1M466 339h6M481 339h1M485 339h5M496 339h1M607 339h1M612 339h1M616 339h1M620 339h3M626 339h2M632 339h6M670 339h1M736 339h7M746 339h9M470 340h1M486 340h3M621 340h1M625 340h3M736 340h4M748 340h7M487 341h1M626 341h1M736 341h3M748 341h8M736 342h2M748 342h8M748 343h8M748 344h7M743 345h10M742 346h11M742 347h11M742 348h13M743 349h13M744 350h5M753 350h2M745 351h1M739 355h3M747 355h1M738 356h5M746 356h3M738 357h5M746 357h2M738 358h10M739 359h9M741 360h7M742 361h1M746 361h2M738 363h1M748 363h2M737 364h3M748 364h3M738 365h2M745 365h5M738 366h2M744 366h3M738 367h8M738 368h8M737 369h9M738 370h1M744 370h1" stroke="#1f77b4" stroke-width="1" transform="translate(0 .5)" shape-rendering="crispEdges"/><path d="m116.5 234h0m0 3.5h0m0 3.5h0m0 4h0m0 2.5h0m0 17h0m0 4.5h0m.5-36.5h0m0 18.5h0m0 5.5h0m0 3.5h0m0 14.5h0m3.5-46h0m1 4.5h0m0 42.5h0m2 4.5h0m1.5-43.5h0m1.5 41.5h0m1-39h0m1 1h0m3.5 39.5h0m2-40h0m0 37h0m1-39.5h0m2-2h0m3.5 39h0m1-2h0m1-40.5h0m1 36.5h0m2.5-37h0m.5 5h0m1.5 37.5h0m.5-34.5h0m1.5 27h0m1-25h0m2 28h0m1-27h0m1-5.5h0m1.5 34h0m1.5 4h0m1.5-32.5h0m.5 24h0m3.5 1h0m.5 4h0m2-30.5h0m2.5 34h0m.5-32.5h0m0 34.5h0m1.5 1h0m1.5 .5h0m1-38h0m1 35h0m2-38h0m1 33.5h0m1-33.5h0m1.5 0h0m4.5 32.5h0m.5 10.5h0m2.5-8.5h0m.5-35h0m2-8h0m1 9h0m1 33.5h0m1 4.5h0m.5 2h0m1.5-1.5h0m.5 4.5h0m.5-45h0m2 3h0m2.5 34h0m3-34h0m1 34.5h0m1.5 2h0m1.5 4h0m2-39h0m1.5 42.5h0m1.5 2.5h0m1-47.5h0m2.5-4.5h0m0 53h0m1.5-54.5h0m0 0h0m2.5 59h0m3-.5h0m1-58h0m1.5 .5h0m2 59.5h0m1.5-56.5h0m1 57h0m3.5-58.5h0m.5 55.5h0m0 4h0m4-57.5h0m0 50.5h0m2-2.5h0m.5-49.5h0m3.5 49.5h0m.5-50h0m2 1.5h0m.5 49.5h0m2.5-49h0m1 0h0m2 50.5h0m.5-44h0m1 2.5h0m0 47h0m1-52.5h0m1.5 52h0m1-54h0m0 65.5h0m2-65h0m0 51h0m1.5-43.5h0m0 50h0m1.5-4h0m1.5-4h0m.5-49.5h0m1.5 3.5h0m0 44.5h0m1.5-49h0m2.5-5h0m1-3.5h0m0 56.5h0m.5-2.5h0m1-57h0m.5-4h0m2-3h0m3 3.5h0m0 59h0m2.5-62.5h0m1 8h0m0 57h0m0 6h0m.5-66.5h0m.5 62h0m1.5 5h0m1-61.5h0m1.5 1h0m.5 60.5h0m1-63h0m0 5h0m.5 52h0m1.5 1.5h0m.5-6h0m0 11.5h0m.5-7h0m2-50h0m.5 42.5h0m1-45h0m1-.5h0m3.5-.5h0m.5 44.5h0m1-44.5h0m.5 46.5h0m2.5 2h0m.5-47h0m1-7h0m1.5 56h0m1-45.5h0m0 57h0m.5-67h0m1.5 15.5h0m0 42h0m.5 5h0m1-43.5h0m.5-17h0m1 21h0m0 41h0m1.5 10.5h0m2-9h0m1-39.5h0m1.5 41h0m2.5 1.5h0m.5-50h0m1 4.5h0m0 55.5h0m2-82.5h0m.5 69.5h0m.5-50h0m.5-3h0m.5 58.5h0m.5-61.5h0m.5 54.5h0m.5-62.5h0m0 1.5h0m0 5h0m0 49h0m1.5-49h0m.5 61h0m2.5-59h0m1-7.5h0m1 66.5h0m.5 6h0m1-63h0m0 63.5h0m0 4h0m1 3h0m2-70.5h0m2 65h0m0 20h0m0 4.5h0m.5-90h0m0 74h0m1.5 .5h0m.5-12h0m.5-68.5h0m.5-2h0m1.5 6.5h0m1 60h0m.5-95h0m3 93.5h0m.5-61h0m1-3h0m1-2.5h0m1.5 65h0m.5-67.5h0m1 5h0m0 67h0m0 5h0m.5-2.5h0m2 4h0m1 0h0m2-3.5h0m.5-69.5h0m2-5h0m2.5 5.5h0m.5-14h0m0 82h0m2-72.5h0m2.5-1h0m.5 4h0m0 68h0m.5-84.5h0m1 78h0m0 11.5h0m1-72h0m0 58.5h0m1.5-4h0m1-63.5h0m.5-12h0m.5 3h0m.5 21.5h0m0 49.5h0m2-86.5h0m1 94.5h0m1.5-66h0m.5 7h0m0 52.5h0m1 6h0m1-5.5h0m1-61h0m0 67.5h0m1-91h0m0 11.5h0m.5 75.5h0m0 7.5h0m1-71.5h0m.5-27.5h0m0 90.5h0m0 .5h0m.5-74.5h0m0 4h0m4 3h0m0 65h0m0 15h0m.5-108.5h0m.5 113h0m1.5-88h0m.5 9h0m.5-18.5h0m0 76h0m2-79.5h0m0 12.5h0m0 61.5h0m0 6h0m.5 1.5h0m1-97.5h0m0 35.5h0m.5-15h0m0 7h0m.5 79h0m1-16.5h0m.5-65.5h0m.5 74h0m1-81h0m.5-30h0m0 41.5h0m.5-31h0m.5 36h0m.5-21.5h0m1.5-10h0m0 20.5h0m.5 67.5h0m2-56h0m.5 73.5h0m1-124h0m0 108h0m.5 6.5h0m.5-76h0m1 8h0m1-2h0m1 74h0m1-75h0m0 72.5h0m1.5-76.5h0m.5-6.5h0m0 92h0m2.5-13.5h0m0 3h0m.5-83.5h0m.5 93h0m.5-85h0m1.5-16h0m.5 89.5h0m.5-5.5h0m.5-76h0m0 95h0m.5-110.5h0m0 102.5h0m1-94h0m.5-4.5h0m0 1h0m0 10.5h0m0 102h0m.5-97h0m0 2h0m1 17h0m0 55h0m0 48h0m1-36.5h0m0 4.5h0m1-97h0m0 31h0m.5-51.5h0m0 128.5h0m.5-116h0m0 2h0m0 42h0m0 6h0m.5 78.5h0m0 4.5h0m.5-114h0m0 91h0m.5-128.5h0m0 142h0m0 2h0m1 9.5h0m1-138h0m.5 108h0m0 24h0m.5-9.5h0m1-126h0m.5 140.5h0m0 2h0m.5-145h0m0 13.5h0m.5-7h0m.5 19h0m0 19.5h0m1-58.5h0m0 4h0m0 126.5h0m.5-100h0m0 15.5h0m0 3.5h0m.5-57h0m0 16.5h0m0 13.5h0m0 132.5h0m.5-140h0m0 136.5h0m.5-89.5h0m0 76.5h0m.5-105.5h0m0 1.5h0m.5-43.5h0m0 49.5h0m0 102.5h0m0 11.5h0m.5-157h0m.5 26h0m.5-24h0m.5 16.5h0m0 10.5h0m0 9.5h0m0 28h0m.5-21h0m0 2.5h0m0 6h0m0 156h0m0 7.5h0m.5-221.5h0m0 63.5h0m0 12.5h0m.5-68h0m0 135.5h0m0 20.5h0m.5-166.5h0m0 72.5h0m0 87.5h0m.5-124.5h0m0 20h0m0 11.5h0m0 86h0m.5-113h0m0 139h0m.5-161.5h0m0 113.5h0m.5-128h0m0 31.5h0m0 112.5h0m0 13h0m0 17.5h0m.5-5h0m.5-160.5h0m0 23.5h0m0 39.5h0m0 53.5h0m.5-79.5h0m0 23h0m0 85.5h0m0 6h0m.5-135.5h0m0 126.5h0m0 13h0m.5-123h0m.5-25h0m.5 32h0m0 11.5h0m.5 6.5h0m.5-45h0m0 30h0m0 4.5h0m0 108h0m0 6.5h0m0 1h0m.5-173.5h0m.5 13.5h0m0 118.5h0m.5 30.5h0m1-172h0m0 49h0m0 4.5h0m0 110.5h0m.5-103h0m0 100h0m.5-117.5h0m0 139.5h0m.5-96h0m.5-75h0m0 164h0m.5-125h0m.5-26h0m0 147.5h0m.5-152h0m0 14.5h0m0 33h0m.5-9h0m.5-6.5h0m0 110.5h0m0 21.5h0m.5-187.5h0m0 178.5h0m0 10h0m.5 37.5h0m.5-230.5h0m0 25h0m0 15h0m0 10.5h0m0 19.5h0m0 22.5h0m.5-87h0m0 23.5h0m1 7h0m0 60h0m0 77h0m0 1.5h0m0 6.5h0m0 11.5h0m.5-177h0m0 3h0m0 6.5h0m0 130h0m0 9h0m.5-105h0m.5-19.5h0m0 16.5h0m0 30.5h0m0 74h0m0 33h0m.5-123h0m.5-33.5h0m0 13h0m.5-5h0m0 46h0m0 78.5h0m.5-177.5h0m0 83.5h0m0 127.5h0m0 31.5h0m.5-218.5h0m0 40h0m0 108h0m0 18h0m.5-99.5h0m0 60h0m.5-111.5h0m0 18h0m0 48.5h0m0 86.5h0m0 8h0m.5-161h0m.5 11h0m0 46h0m0 76h0m0 30.5h0m.5-186.5h0m0 28h0m0 82h0m0 37h0m0 17h0m.5-165h0m0 177h0m0 .5h0m.5-169.5h0m0 77.5h0m.5 67.5h0m0 20.5h0m0 10.5h0m.5-185.5h0m0 4.5h0m0 57.5h0m0 81.5h0m.5-103h0m0 28.5h0m0 101h0m.5-169h0m0 63h0m0 28.5h0m0 54.5h0m.5-143h0m0 42h0m0 34.5h0m0 6.5h0m0 21.5h0m0 5.5h0m0 48h0m.5-154.5h0m0 19h0m.5-24.5h0m0 17h0m0 55.5h0m.5-40.5h0m0 23.5h0m0 83h0m0 28.5h0m.5 18h0m.5 12h0m.5-23h0m.5-38h0m0 36.5h0m0 11.5h0m.5-154.5h0m0 24h0m0 15h0m0 82.5h0m.5-130h0m0 2.5h0m0 13h0m0 6h0m.5-60h0m0 80.5h0m0 10.5h0m0 15h0m0 58h0m.5-83h0m0 46h0m0 53h0m.5-138.5h0m0 7.5h0m0 27.5h0m0 15.5h0m0 92h0m0 16.5h0m.5-168h0m0 151h0m.5-158h0m0 40h0m0 81.5h0m0 56.5h0m.5-185.5h0m0 32h0m0 47h0m0 11h0m.5 49h0m0 17h0m0 21h0m.5-169.5h0m0 4.5h0m0 31h0m0 21h0m0 120.5h0m.5-178.5h0m0 23h0m0 24h0m0 121h0m.5-137h0m.5 21h0m0 15.5h0m0 1h0m.5-53.5h0m0 48h0m0 31h0m0 82h0m.5-164h0m0 142h0m.5-96h0m0 20h0m0 47h0m.5-96h0m0 13.5h0m0 125.5h0m0 0h0m0 21.5h0m.5-106h0m0 45.5h0m0 20h0m0 11.5h0m0 19.5h0m1-175.5h0m0 28.5h0m0 2.5h0m0 84.5h0m0 61h0m.5-169h0m0 4.5h0m0 150h0m.5-144.5h0m0 4.5h0m0 45.5h0m.5-78.5h0m0 63h0m0 111.5h0m.5-43h0m0 62h0m.5-119.5h0m0 91.5h0m0 18.5h0m0 12h0m.5-143.5h0m0 34.5h0m.5-28.5h0m0 11h0m0 71h0m0 19h0m.5-129.5h0m0 50h0m.5-20h0m0 92h0m.5-144h0m0 10h0m0 31h0m0 136.5h0m.5-164.5h0m0 18.5h0m1 5h0m0 21.5h0m0 95.5h0m.5-129.5h0m0 133.5h0m.5-141h0m.5-7h0m0 34h0m0 96h0m0 9h0m.5-132h0m0 7h0m0 16h0m0 13.5h0m0 124.5h0m.5-111.5h0m0 97.5h0m.5-164h0m0 30.5h0m0 115h0m.5-103.5h0m0 1.5h0m0 1.5h0m.5-54.5h0m.5 31h0m0 7.5h0m1-24h0m0 67h0m0 86.5h0m0 8h0m.5-155.5h0m0 12.5h0m0 117.5h0m.5 24h0m.5-112.5h0m.5-40.5h0m0 8.5h0m0 2.5h0m0 8h0m0 5.5h0m0 36.5h0m.5-72h0m0 43h0m0 21.5h0m1-95h0m0 8.5h0m0 58h0m0 34.5h0m.5 61h0m0 18h0m.5-23.5h0m.5-103h0m0 131h0m0 5h0m.5-118h0m0 9.5h0m.5-40.5h0m.5 55h0m.5-61.5h0m.5 42h0m.5-42.5h0m0 5.5h0m0 170.5h0m.5-162h0m0 115.5h0m0 21.5h0m.5-140h0m0 113.5h0m.5 19.5h0m1-19.5h0m.5-85.5h0m0 111h0m.5-131h0m0 3h0m0 6.5h0m0 38.5h0m0 69.5h0m.5 18h0m0 11h0m.5-123h0m.5-34.5h0m0 23.5h0m0 24h0m0 68.5h0m0 20h0m1-9.5h0m0 11.5h0m.5-15.5h0m0 20h0m0 16.5h0m.5-128h0m0 65h0m0 26.5h0m.5 23.5h0m0 3h0m.5-32.5h0m0 51.5h0m0 4.5h0m.5-175.5h0m0 22h0m0 107.5h0m.5-88.5h0m.5-5.5h0m0 27.5h0m0 55h0m0 21h0m.5-114h0m1 124h0m1-114.5h0m0 73.5h0m.5 21.5h0m0 8h0m0 11.5h0m.5-37h0m0 25h0m0 14h0m.5-37h0m1.5-78h0m0 1h0m1 90h0m0 13.5h0m1-116h0m0 135h0m.5-183.5h0m0 134.5h0m0 39h0m.5-136h0m0 38h0m0 65.5h0m.5-90.5h0m0 94.5h0m0 17.5h0m.5-132.5h0m0 26h0m0 83h0m0 64h0m1-141.5h0m0 5h0m0 84.5h0m0 23h0m.5-137h0m0 8h0m0 10.5h0m0 89.5h0m.5-108h0m0 115.5h0m0 6.5h0m.5-87.5h0m0 5.5h0m0 94h0m1-128h0m0 93h0m0 30h0m0 2.5h0m0 12h0m1-162.5h0m0 50.5h0m1 26.5h0m1-66h0m0 6h0m.5 5h0m0 25h0m0 95h0m.5-85.5h0m.5 89.5h0m1-126h0m0 23h0m0 73h0m0 22h0m0 27.5h0m0 11h0m.5-103h0m.5 55.5h0m.5-68h0m.5-12h0m0 102.5h0m1-35.5h0m.5-61h0m0 23.5h0m.5 64.5h0m.5-123h0m0 117.5h0m1-111h0m0 6h0m0 12.5h0m0 75.5h0m.5 10.5h0m1.5-4h0m0 12h0m.5-4h0m.5-120.5h0m0 13h0m0 10.5h0m0 77h0m1 41.5h0m1.5-14h0m.5-122.5h0m0 2h0m0 103h0m.5-79.5h0m0 99h0m.5-108.5h0m0 82h0m0 23.5h0m0 4h0m1-125.5h0m0 29.5h0m.5-21h0m0 106.5h0m.5 23h0m.5-126h0m0 97h0m0 8.5h0m.5-3h0m0 8h0m1-110.5h0m0 96h0m.5-85.5h0m0 7h0m0 98h0m1-121h0m.5 11.5h0m0 95h0m.5-89h0m0 5.5h0m.5 91.5h0m.5-120h0m.5 7h0m1 21.5h0m0 49.5h0m0 56h0m0 8h0m0 7.5h0m.5-143h0m0 28h0m.5 12h0m0 77h0m.5-127.5h0m0 118h0m.5-112h0m0 123h0m1-115.5h0m0 5.5h0m0 29h0m0 77h0m0 46.5h0m.5-88.5h0m0 50.5h0m.5 9.5h0m.5-142h0m0 6h0m0 47h0m0 23.5h0m0 41.5h0m1-104h0m0 12.5h0m0 5h0m0 5h0m0 98h0m0 3h0m0 8.5h0m0 14h0m.5-167h0m0 146h0m0 7h0m.5-94.5h0m1 72.5h0m.5-111h0m0 142.5h0m0 1h0m1-183h0m0 28.5h0m0 17.5h0m0 13.5h0m0 12.5h0m0 5h0m0 5.5h0m0 88h0m.5-149h0m0 29.5h0m.5-33.5h0m0 80h0m0 48h0m0 20h0m1-156h0m0 23h0m0 32.5h0m0 69.5h0m.5-118h0m0 20.5h0m0 34h0m0 17.5h0m0 85h0m.5-163h0m0 20h0m0 16.5h0m0 9.5h0m0 117.5h0m.5-81h0m.5-66.5h0m0 143.5h0m.5-161.5h0m0 8h0m0 5h0m0 18h0m0 12h0m0 99h0m.5-68h0m0 5.5h0m0 87h0m0 5.5h0m0 2h0m.5-121h0m0 7.5h0m0 9.5h0m0 86h0m0 16h0m.5-171.5h0m0 129.5h0m1-64.5h0m0 79.5h0m.5-157.5h0m0 42h0m0 8h0m0 124h0m0 22h0m.5-184.5h0m0 152.5h0m0 23h0m.5-166.5h0m0 39.5h0m.5-36.5h0m0 11h0m0 139.5h0m0 4.5h0m.5-177h0m0 96.5h0m.5-107.5h0m0 47.5h0m0 53h0m0 60.5h0m1-139h0m0 42.5h0m.5-27h0m0 41.5h0m0 33.5h0m0 65.5h0m0 18h0m.5-175.5h0m0 75.5h0m0 5h0m0 87.5h0m.5-133h0m0 24.5h0m0 69h0m1-160h0m0 170h0m0 36h0m.5-166.5h0m0 156h0m.5-191.5h0m0 75.5h0m0 39.5h0m0 119h0m.5-35.5h0m.5-181h0m0 1.5h0m0 30.5h0m0 122.5h0m1-148.5h0m0 7.5h0m0 51h0m0 22h0m.5-94.5h0m0 12.5h0m0 86h0m0 79h0m.5-121.5h0m0 93h0m0 4.5h0m.5-119h0m0 111h0m0 51h0m.5-36.5h0m.5-205.5h0m0 65h0m0 20h0m0 4.5h0m.5 140.5h0m.5 6h0m.5-213.5h0m0 32h0m0 7.5h0m0 10h0m0 47h0m0 61h0m0 6h0m0 37.5h0m.5-12.5h0m0 6h0m.5-183h0m0 80h0m.5-16.5h0m0 41h0m0 168.5h0m1-286.5h0m0 77h0m0 10.5h0m0 16.5h0m0 66.5h0m.5-47h0m.5-68h0m0 28h0m0 82h0m.5-117.5h0m0 126.5h0m0 5h0m0 6h0m0 19.5h0m.5-192h0m0 32h0m0 59.5h0m0 102h0m1-164.5h0m.5 51h0m0 96.5h0m0 8h0m.5-135.5h0m0 38h0m0 91h0m0 29h0m1-37.5h0m0 13h0m1-169h0m0 27h0m0 27.5h0m0 125h0m.5-130h0m0 17h0m0 127.5h0m.5-206.5h0m0 50h0m0 123h0m0 33.5h0m.5-186.5h0m0 33h0m0 137.5h0m1-162.5h0m0 7h0m0 10h0m0 14.5h0m0 194h0m.5-164.5h0m0 116h0m.5-175h0m0 75h0m0 57.5h0m.5 4h0m.5-115.5h0m0 105h0m.5-114.5h0m0 16.5h0m0 110h0m0 4.5h0m0 21h0m1-220.5h0m0 102.5h0m0 108h0m0 1.5h0m.5-174h0m0 29h0m0 24h0m0 124h0m0 72h0m1-208h0m0 31h0m.5-43h0m0 3.5h0m0 44h0m0 74.5h0m0 14.5h0m.5-126.5h0m0 20h0m.5-69.5h0m0 25h0m0 37.5h0m0 47h0m0 47h0m0 8.5h0m.5-97h0m.5 22h0m0 86.5h0m0 6.5h0m.5-166h0m0 29.5h0m0 12.5h0m0 17h0m0 95.5h0m0 19h0m.5-161.5h0m0 15h0m0 158h0m.5-162.5h0m0 35h0m0 30h0m0 90.5h0m0 10.5h0m0 18h0m0 33.5h0m.5-265.5h0m0 62.5h0m0 122h0m0 20h0m.5-177.5h0m0 196.5h0m.5-146.5h0m0 39.5h0m.5-69h0m0 23h0m0 20.5h0m.5-59.5h0m0 182h0m.5-176h0m0 110.5h0m.5-181.5h0m0 54.5h0m0 36.5h0m0 3h0m0 1h0m0 5h0m0 30.5h0m0 11h0m0 34h0m.5-136h0m0 13.5h0m0 14h0m0 63h0m0 15.5h0m0 71h0m0 10.5h0m0 0h0m.5-202h0m0 50.5h0m0 40h0m.5-96.5h0m0 20.5h0m0 178.5h0m0 29.5h0m.5-64.5h0m0 64h0m.5-137.5h0m0 10h0m0 115.5h0m.5-163h0m0 4h0m0 49h0m.5 27h0m0 45h0m.5-116.5h0m0 97h0m0 50.5h0m0 16h0m.5-212h0m0 15h0m0 12.5h0m0 15.5h0m0 10.5h0m0 12.5h0m0 49h0m0 78h0m.5-174.5h0m.5 46.5h0m0 34.5h0m0 72.5h0m.5-124h0m0 12h0m0 150h0m0 6h0m.5-194.5h0m0 51h0m0 7.5h0m0 5.5h0m0 3.5h0m0 100h0m.5-119h0m0 1.5h0m0 43.5h0m0 4h0m0 83.5h0m.5-139.5h0m0 31.5h0m0 107.5h0m0 13h0m0 11.5h0m.5-207.5h0m0 13.5h0m0 134h0m0 30h0m.5-159.5h0m0 6.5h0m0 131.5h0m.5-127h0m0 18.5h0m0 17h0m.5 16.5h0m.5-58h0m0 38h0m0 146.5h0m.5-197.5h0m0 198.5h0m.5-21.5h0m.5-84.5h0m0 95h0m0 8.5h0m.5-185h0m0 14.5h0m0 13.5h0m0 11h0m0 12h0m0 3.5h0m0 151.5h0m.5-184.5h0m0 52.5h0m0 87h0m.5-99h0m0 22.5h0m0 12.5h0m0 66h0m0 22.5h0m.5-247.5h0m0 8.5h0m0 36.5h0m0 49h0m0 48h0m.5-71h0m0 19h0m0 61.5h0m0 76.5h0m.5-185.5h0m0 7.5h0m0 60h0m.5-37h0m0 7.5h0m0 5h0m0 7.5h0m0 13.5h0m.5-41.5h0m0 55h0m0 80.5h0m.5 18h0m0 21h0m.5-139.5h0m0 51h0m1 93.5h0m.5-144.5h0m0 7.5h0m0 98.5h0m0 14h0m0 6h0m.5-165.5h0m0 85.5h0m0 22h0m0 14.5h0m0 53.5h0m.5-160h0m0 15h0m0 135.5h0m.5-137.5h0m0 3h0m0 65.5h0m.5-98.5h0m0 5h0m.5-23.5h0m0 137h0m1-68.5h0m.5-5h0m0 79.5h0m0 16h0m0 4h0m0 26h0m0 8.5h0m.5-187.5h0m0 173h0m0 91h0m.5-262h0m0 32h0m0 144.5h0m.5-159.5h0m0 27h0m.5-6.5h0m0 20.5h0m0 14.5h0m0 6.5h0m0 41h0m0 5.5h0m1-76.5h0m.5-43.5h0m0 12.5h0m0 35.5h0m0 121h0m0 11h0m0 51h0m.5-224.5h0m0 30h0m0 184h0m.5-194.5h0m0 98h0m0 65.5h0m.5-156.5h0m.5-9.5h0m0 136.5h0m0 20h0m0 6.5h0m.5-168h0m0 48.5h0m0 6h0m.5-83h0m0 10.5h0m0 43h0m0 202.5h0m.5-244h0m.5-17.5h0m0 192.5h0m.5-55.5h0m0 18.5h0m0 5.5h0m.5-115h0m0 4h0m0 14.5h0m0 121.5h0m.5-38h0m.5-129.5h0m.5 42.5h0m0 120h0m.5-143.5h0m0 47h0m0 4h0m.5-81.5h0m0 35.5h0m1-20h0m0 140h0m0 30h0m.5-28h0m0 29.5h0m.5-111.5h0m0 101.5h0m.5-146.5h0m0 51.5h0m0 111.5h0m.5-143.5h0m.5-6h0m0 16h0m0 88.5h0m0 18h0m0 4.5h0m.5-115h0m0 85.5h0m0 18h0m0 3.5h0m1-145h0m0 7.5h0m0 143h0m.5-20h0m.5-81.5h0m0 87.5h0m0 22h0m.5-132.5h0m0 115.5h0m.5-99h0m0 95h0m.5-125.5h0m.5-7h0m0 29h0m.5-18h0m0 84.5h0m.5 31h0m.5-63.5h0m0 83.5h0m.5-150.5h0m0 28h0m0 13.5h0m0 104.5h0m.5-143h0m.5-11h0m.5 29.5h0m0 14h0m0 103h0m0 39.5h0m1-105h0m.5-68.5h0m0 100h0m.5 34.5h0m.5-10h0m.5-116h0m0 9.5h0m.5-7.5h0m0 53h0m.5 40h0m0 5.5h0m0 5.5h0m0 16h0m.5-135.5h0m0 63.5h0m0 19.5h0m0 47h0m.5-91.5h0m0 106.5h0m0 2.5h0m.5-139.5h0m0 36h0m0 99.5h0m.5-86.5h0m.5-4h0m.5-32.5h0m0 16h0m0 142.5h0m.5-185.5h0m0 17h0m0 128h0m0 19h0m.5-141h0m0 11.5h0m.5 117.5h0m0 3h0m.5-150h0m0 81.5h0m0 41.5h0m.5-128h0m0 166.5h0m.5-157.5h0m0 21h0m0 24.5h0m0 105.5h0m.5-137h0m0 25h0m.5-30h0m0 128.5h0m0 5h0m.5-157.5h0m0 164h0m0 8.5h0m.5 1.5h0m.5-134.5h0m.5-7h0m0 13.5h0m0 4h0m.5-34.5h0m.5 2.5h0m0 63h0m0 100h0m.5-10h0m0 6h0m.5-151.5h0m.5 147.5h0m0 9h0m.5-179h0m0 36h0m.5-3.5h0m.5 9h0m0 8h0m0 126.5h0m1.5-156h0m0 6.5h0m.5 133.5h0m.5-159h0m0 43.5h0m.5 107.5h0m.5-125h0m1 12h0m0 12h0m0 106h0m1-190.5h0m0 19.5h0m0 180.5h0m0 1.5h0m.5 7.5h0m0 3h0m.5-152h0m0 19h0m0 104h0m.5-160h0m0 222h0m.5-179.5h0m0 24.5h0m0 98.5h0m1-160.5h0m0 14.5h0m0 33.5h0m0 91h0m0 27.5h0m.5-159h0m0 136h0m.5-67.5h0m0 29.5h0m0 76h0m.5-48.5h0m0 17h0m.5-133.5h0m0 14.5h0m0 13h0m.5-41.5h0m.5 34h0m0 36.5h0m0 71.5h0m0 11h0m0 19.5h0m.5-111h0m0 87h0m.5-127.5h0m0 26h0m0 117h0m0 4.5h0m.5-39.5h0m0 8.5h0m0 32h0m.5-163h0m.5-20h0m0 6.5h0m0 16h0m0 5h0m0 62.5h0m.5-66h0m0 140h0m.5 10h0m.5-121.5h0m0 91.5h0m.5-137.5h0m.5 24h0m0 40h0m0 99h0m.5-81h0m.5-50h0m0 20.5h0m0 97.5h0m.5-125h0m0 27h0m0 106.5h0m.5-127.5h0m0 28h0m0 108h0m1-154.5h0m0 174h0m.5-32h0m.5-181h0m0 30h0m.5-28h0m0 5.5h0m0 15h0m0 1h0m0 17.5h0m.5-22.5h0m0 8.5h0m0 63h0m.5-83.5h0m0 19.5h0m0 23h0m1 32h0m0 106.5h0m1-99h0m0 95.5h0m1-130h0m0 150h0m.5 20h0m.5-68h0m0 8.5h0m0 16.5h0m.5-107.5h0m0 4h0m0 115h0m.5-174h0m.5 152.5h0m0 4.5h0m.5-145h0m0 5.5h0m0 11h0m.5 5h0m.5 131.5h0m.5-135h0m.5 7h0m0 8.5h0m0 34.5h0m.5-26h0m.5 94.5h0m0 12.5h0m0 1.5h0m0 12.5h0m1-136.5h0m0 136.5h0m.5-99.5h0m1.5-26.5h0m0 10h0m2-26.5h0m0 6.5h0m0 121h0m0 6h0m0 2.5h0m.5-134h0m0 7h0m.5 10h0m0 3h0m0 33.5h0m0 76.5h0m.5-99h0m0 5.5h0m1 80.5h0m0 74h0m.5-167.5h0m0 105.5h0m0 5h0m.5 .5h0m.5-25.5h0m0 31h0m1-22h0m0 13h0m.5-96.5h0m.5-10h0m0 80.5h0m0 6.5h0m.5-102h0m0 39.5h0m0 7h0m1-27h0m.5-4h0m0 99.5h0m0 5.5h0m.5-17.5h0m1-57.5h0m0 64h0m0 9h0m1.5-13.5h0m.5-73h0m0 85.5h0m.5-96h0m.5-4.5h0m0 20.5h0m.5 87.5h0m.5-13h0m1 9h0m.5-111.5h0m0 113h0m.5-98h0m1 12h0m0 67h0m1-71.5h0m0 13h0m.5 69h0m.5-5.5h0m0 11h0m1.5-88.5h0m.5-12.5h0m0 6h0m.5-8h0m1-19h0m0 40h0m0 3.5h0m0 64h0m0 16h0m.5-120.5h0m0 123.5h0m0 17.5h0m.5-122.5h0m0 111.5h0m0 12.5h0m.5-133.5h0m0 104.5h0m0 18.5h0m.5-146.5h0m0 19.5h0m.5 0h0m0 40h0m0 73.5h0m0 9h0m0 22h0m.5-134h0m0 236h0m.5-274h0m0 17.5h0m0 30h0m0 107.5h0m0 5h0m0 92h0m.5-241.5h0m0 133h0m.5-142.5h0m0 19.5h0m0 23.5h0m0 123.5h0m0 13h0m0 2h0m.5 55h0m.5-65h0m.5-109.5h0m0 107h0m.5-171.5h0m0 9.5h0m0 176h0m.5-156.5h0m0 131.5h0m.5-147.5h0m0 8h0m0 1.5h0m0 8h0m0 142h0m0 7h0m.5-172h0m0 32.5h0m0 124.5h0m.5-151.5h0m0 125h0m0 64h0m.5-193h0m0 25.5h0m0 160h0m0 12.5h0m.5-140.5h0m0 3.5h0m0 143h0m.5-243.5h0m0 172.5h0m0 25h0m0 29.5h0m.5-184.5h0m0 162.5h0m.5-153.5h0m0 173.5h0m0 23h0m0 15h0m.5-191h0m0 3.5h0m.5-56h0m0 43h0m0 8h0m0 33.5h0m0 103h0m0 22h0m0 8h0m.5-50h0m.5-156h0m0 9.5h0m0 174.5h0m.5-203.5h0m0 32h0m0 10.5h0m0 26h0m0 137h0m.5-153.5h0m.5 174.5h0m.5-128.5h0m0 83h0m.5-197.5h0m0 224.5h0m0 15.5h0m.5-185h0m0 4h0m.5 5.5h0m0 147h0m.5-213.5h0m0 77.5h0m0 4.5h0m0 150.5h0m0 4h0m.5-190.5h0m0 13h0m0 125h0m.5-173.5h0m0 61.5h0m0 214h0m.5-330.5h0m0 4.5h0m0 234h0m0 5.5h0m.5-147h0m0 164h0m0 9h0m0 28.5h0m0 7.5h0m.5-216h0m0 6.5h0m0 188.5h0m0 6h0m.5-241h0m0 183.5h0m.5-55h0m.5 62h0m0 14h0m0 11.5h0m.5-195.5h0m0 20.5h0m0 143.5h0m0 56.5h0m.5-180h0m0 12.5h0m.5-18h0m0 116h0m0 7.5h0m0 49h0m.5-165h0m0 132h0m.5-153h0m0 2.5h0m0 7h0m0 17h0m0 134.5h0m0 22.5h0m.5-65.5h0m0 53.5h0m.5-146.5h0m0 144.5h0m0 8.5h0m.5-157.5h0m0 70h0m.5-81h0m0 2.5h0m0 153h0m0 19.5h0m.5-153h0m0 123.5h0m.5-32h0m0 39.5h0m1-130.5h0m0 84.5h0m0 23.5h0m.5 3.5h0m0 4.5h0m0 5.5h0m.5-119.5h0m0 88.5h0m.5-83.5h0m.5 93.5h0m0 2.5h0m.5-92.5h0m0 3.5h0m0 4h0m1 77h0m1-8.5h0m1.5 4.5h0m.5-12h0m.5 9h0m.5-2.5h0m0 11.5h0m.5-14.5h0m.5-58h0m2.5 50h0m.5-57.5h0m0 3.5h0m1 5h0m3 48.5h0m1-42h0m.5 43h0m1.5-41.5h0m.5-8h0m0 57h0m1-47h0m0 40h0m2 .5h0m.5-8h0m1-3h0m.5 7h0m1-36h0m.5 24.5h0m1-29.5h0m0 4.5h0m1-6h0m2 9h0m.5 1.5h0m1 20.5h0m1 .5h0m.5 12.5h0m2.5-8.5h0m.5-21.5h0m2 19h0m1 0h0m2-15h0m1.5-2h0m.5-1.5h0m3 20.5h0m.5 3.5h0m.5 5.5h0m3-34.5h0m.5 2.5h0m0 27.5h0m5.5 2h0m.5-4.5h0m1-25.5h0m1.5-1h0m1 23h0m.5-1h0m2-4.5h0m1-22h0m.5-8.5h0m0 8h0m.5-1.5h0m1 1h0m2.5 23h0m1-3.5h0m1.5-22h0m.5-6.5h0m1 7h0m1 32h0m1-28.5h0m.5 21h0m0 1.5h0m0 1h0m2.5-20.5h0m0 5h0m2 4h0m.5 1h0m0 13.5h0m2.5 3.5h0m2 6.5h0m.5-23h0m1 14.5h0m.5-1h0m1.5-21.5h0m.5 7h0m1.5-1h0m2 14h0m2-1.5h0m1-14.5h0m1 11h0m.5 5h0m.5-30.5h0m.5 11h0m2.5-1.5h0m1 17h0m1 16h0m0 30.5h0m0 10.5h0m0 10.5h0m0 50.5h0m0 31h0m0 45h0m0 4.5h0m.5-195.5h0m.5 3.5h0m1-8h0m1.5-26h0m0 9h0m.5 0h0m1.5-7.5h0m1 3.5h0m1 22h0m0 9h0m.5-26h0m1 20h0m3-20h0m0 23h0m2.5-19.5h0m1 24h0m1.5 4h0m1 1.5h0m1 0h0m1.5-26.5h0m0 24.5h0m1-34h0m1 5.5h0m2.5 25.5h0m1-31.5h0m.5 5h0m3 28.5h0m0 4h0m2-37h0m0 30.5h0m.5-4.5h0m3.5-25.5h0m0 23h0m2-16.5h0m2.5 21.5h0m.5-27h0m0 5h0m4 3.5h0m0 1h0m.5 17.5h0m1.5-16h0m1.5 26h0m1-6h0m1.5-.5h0m1-19h0m.5 28h0m0 6.5h0m.5-8h0m2.5-7.5h0m.5 6h0m0 4.5h0m.5-31h0m0 33h0m.5-40.5h0m1 3h0m2 40.5h0m1.5-11.5h0m.5-7.5h0m0 5.5h0m1.5-31h0m0 24h0m.5-27.5h0m2 34h0m2-33h0m.5-4.5h0m.5 29h0m.5-20.5h0m1 22h0m2.5 2h0m4-1.5h0m.5-24h0m2 32h0m.5-1.5h0m1-7.5h0m.5-23h0m1 .5h0m1 1h0m2.5-6h0m.5 28h0m2.5-20h0m1-1.5h0m.5-9.5h0m2 33h0m2-2.5h0m.5-1.5h0m.5-23.5h0m.5-2h0m2-3h0m1 2h0m1 2.5h0m0 20.5h0m0 8h0m2.5-3.5h0m2-20.5h0m.5 .5h0m3 24.5h0m2.5-25.5h0m1-2h0m0 22h0m1-26.5h0m.5 1h0m1.5-.5h0m0 30.5h0m2.5 1.5h0m1 9h0m.5-46.5h0m.5 9.5h0m1.5-1.5h0m.5-6h0m1.5 2.5h0m0 33.5h0m3-29h0m2.5-12h0m.5 7h0m0 33h0m.5-37.5h0m.5 44.5h0m.5-42.5h0m0 36.5h0m.5-27.5h0m.5 28h0m2-28h0m0 26h0m2-4.5h0m1.5-37.5h0m1 15h0m1-6h0m2 34.5h0m.5-44h0m0 37h0m1-21.5h0m0 31h0m2-33.5h0m0 1h0m2 23h0m0 6h0m2-27.5h0m0 43h0m1.5-52.5h0m1 33h0m1-30.5h0m0 4h0m0 37.5h0m1-6.5h0m.5-40.5h0m0 16.5h0m1-15h0m0 10h0m.5 31h0m2.5-1h0m1-38h0m0 3.5h0m.5 8.5h0m.5-23h0m.5 2h0m0 17.5h0m1.5 .5h0m1-1h0m0 29h0m.5 26.5h0m.5-54h0m.5-8h0m.5 50.5h0m1-11h0m0 3h0m1-40h0m1 40.5h0m1 8h0m.5-42.5h0m0 25h0m1.5 4.5h0m1.5-8.5h0m.5-27.5h0m.5 6h0m1.5 20.5h0m.5-29.5h0m2.5 46.5h0m.5-39h0m.5 2.5h0m0 17.5h0m1.5-20.5h0m4.5 .5h0m0 19.5h0m2.5-32.5h0m1 4.5h0m0 6h0m0 30h0m.5-8.5h0m1.5-2.5h0m0 12h0m.5-32.5h0m0 27.5h0m0 12h0m1-8.5h0m1-33.5h0m1 1h0m0 25.5h0m1-30.5h0m.5-13.5h0m0 47.5h0m1.5-36h0m.5 2.5h0m0 7h0m.5-15h0m1-26h0m1.5 33.5h0m0 37.5h0m1-4h0m0 29.5h0m1-70.5h0m.5 15h0m0 35h0m1.5-38h0m0 36.5h0m0 7h0m.5-46.5h0m.5-.5h0m1 35h0m.5-30.5h0m.5 57.5h0m.5-21.5h0m.5-43h0m.5-7h0m0 56h0m1-80.5h0m.5 24h0m.5 14.5h0m1 46.5h0m.5-41.5h0m.5 34h0m1 7h0m1.5 3h0m.5-60h0m0 3h0m0 13h0m0 34.5h0m.5 20h0m1-20h0m1 10.5h0m1.5-58h0m.5 14.5h0m1.5-10h0m.5 39h0m0 9.5h0m.5-10.5h0m.5 20.5h0m.5-79.5h0m0 16.5h0m0 7.5h0m.5 4h0m0 39h0m1.5-76h0m2 16.5h0m0 11.5h0m0 48h0m.5-10.5h0m0 18h0m1-51.5h0m0 45.5h0m1-73h0m0 71h0m.5-54h0m.5 5.5h0m1 37.5h0m.5 24.5h0m1-63h0m1 63.5h0m1.5-27h0m0 13.5h0m.5-13.5h0m.5 45h0m1-16h0m.5-18h0m.5 3h0m.5-80h0m0 32.5h0m0 38.5h0m.5-42.5h0m2 57h0m.5-46.5h0m0 26h0m0 12h0m1-10.5h0m1 49.5h0m.5-83h0m1-10h0m0 47h0m1.5 2.5h0m.5 .5h0m.5-56h0m0 25.5h0m.5 5.5h0m.5-8h0m1 69h0m0 4.5h0m1-37h0m1.5 2.5h0m.5 31.5h0m1-13.5h0m.5-70.5h0m0 2.5h0m0 14.5h0m0 50h0m.5-54h0m1.5-1h0m.5-31.5h0m0 10.5h0m.5 16.5h0m.5 71h0m.5-72h0m0 46.5h0m.5-55.5h0m.5-24h0m0 19h0m2 58h0m0 13h0m1-57h0m0 60h0m1-61h0m.5-8.5h0m1.5 55h0m0 5h0m.5 14h0m.5-65h0m1 49.5h0m.5 10h0m.5-63h0m0 58h0m0 4h0m0 11h0m1-23.5h0m1.5-44h0m0 55h0m1-71.5h0m3 11h0m1 47.5h0m.5-47.5h0m0 74.5h0m1-69.5h0m0 45.5h0m.5-41h0m2 53.5h0m.5-8.5h0m.5-.5h0m.5-6.5h0m0 3h0m.5-48h0m.5 9.5h0m0 46h0m1-59.5h0m0 3.5h0m.5 7h0m.5 74h0m.5-88h0m0 67h0m.5-74.5h0m.5 5.5h0m0 17.5h0m0 34h0m.5 34.5h0m1-19.5h0m.5-48.5h0m0 35.5h0m.5-43h0m1 9h0m0 45.5h0m.5-52.5h0m0 42h0m1-47.5h0m0 1.5h0m0 52.5h0m.5-56h0m1.5 64.5h0m0 3h0m1-52.5h0m0 53.5h0m1.5 5.5h0m.5-76h0m2.5 57.5h0m1-47.5h0m0 59.5h0m1-54h0m.5-5.5h0m0 51h0m0 34.5h0m1-10h0m1.5-114h0m0 27h0m1.5 64h0m0 18h0m.5-89.5h0m0 17h0m0 47h0m1-61h0m0 71.5h0m0 27h0m.5-31h0m.5-56.5h0m0 82.5h0m1-82.5h0m0 49.5h0m.5-87h0m0 87.5h0m.5-68h0m0 5.5h0m.5 10h0m0 58.5h0m0 10h0m1.5-95h0m1-5h0m.5-16.5h0m0 39h0m0 9.5h0m1.5-19.5h0m0 136.5h0m1-137h0m.5 11.5h0m0 59.5h0m.5-52.5h0m0 68h0m0 12.5h0m.5-33h0m.5-1.5h0m.5-43h0m.5-4.5h0m1-12h0m0 20h0m0 48h0m.5-71h0m.5 25h0m.5 47.5h0m0 19h0m.5-94.5h0m0 81h0m0 12.5h0m1-31.5h0m0 10h0m1.5-40h0m1-58h0m.5 37h0m0 21.5h0m0 40h0m.5-38.5h0m.5 45h0m.5-54h0m0 42.5h0m.5-44.5h0m.5 0h0m0 39h0m0 35h0m1-19h0m.5-.5h0m0 17.5h0m.5-3.5h0m.5-21.5h0m.5-.5h0m1.5-71h0m0 36h0m1.5 45.5h0m.5-67h0m.5 4h0m1 65h0m.5-47h0m0 38h0m0 3.5h0m.5 2h0m.5-51h0m0 51.5h0m0 26.5h0m1-3.5h0m.5-71.5h0m0 57h0m1-99h0m0 81.5h0m.5-49.5h0m1-12.5h0m.5-11.5h0m0 28.5h0m0 51h0m.5-58h0m0 49h0m0 8h0m.5 5h0m1-75h0m1.5 67.5h0m.5-70h0m0 10h0m1.5-.5h0m0 4h0m.5 50h0m.5 15.5h0m.5-59.5h0m2 49h0m.5-60.5h0m.5 6.5h0m0 59h0m0 11h0m.5-76h0m.5 98h0m.5-32.5h0m.5-56.5h0m1-9h0m.5-17.5h0m0 91.5h0m1.5-62.5h0m0 6h0m0 46h0m2 14h0m1-57.5h0m.5-11h0m0 81h0m.5-29h0m0 7h0m.5-55.5h0m.5 65h0m1-1h0m.5-4h0m.5 1.5h0m.5-58h0m0 60h0m2-14h0m.5-68.5h0m0 23.5h0m.5 45h0m1.5-53.5h0m.5 89h0m1-76.5h0m0 119h0m.5-143.5h0m0 93h0m.5-93.5h0m.5 67.5h0m.5-40.5h0m1-10.5h0m.5 55h0m1 23.5h0m.5-24h0m.5-54h0m0 4.5h0m0 73h0m1-20.5h0m0 12.5h0m.5-56.5h0m1 54h0m.5-59h0m0 65h0m1.5 5.5h0m1.5-80.5h0m0 53.5h0m.5-42.5h0m2.5-.5h0m0 42h0m.5-41.5h0m1-21.5h0m0 86h0m1.5 4h0m1-33.5h0m0 20.5h0m1-57h0m.5-4.5h0m1.5 62h0m1-57.5h0m0 39h0m.5-46h0m.5-5h0m1 53.5h0m0 1.5h0m1.5-50h0m1.5 7.5h0m.5 57.5h0m.5-16.5h0m0 5.5h0m0 7.5h0m.5-8.5h0m.5-40h0m1.5-7.5h0m1.5 2.5h0m0 66.5h0m.5-28h0m3-60.5h0m0 64h0m0 7.5h0m.5-41h0m0 37h0m2-16.5h0m.5 5.5h0m0 4.5h0m0 9h0m.5-41.5h0m1-15.5h0m1 3h0m.5 11.5h0m1 33.5h0m.5-10.5h0m.5-33.5h0m1 10h0m2.5 27.5h0m1-33h0m1-2h0m1.5 2h0m.5 33h0m1.5 7h0m.5-.5h0m2.5 0h0m1.5-45.5h0m0 6h0m0 42.5h0m.5 5h0m1.5-49h0m1 3.5h0m.5 1h0m2 36.5h0m.5-4h0m3-31h0m1.5-1.5h0m.5-1.5h0m0 33.5h0m2.5-32.5h0m.5 32.5h0m1.5-1h0m2.5-31.5h0m2 2h0m.5-9h0m1.5 11.5h0m1 24.5h0m1.5 0h0m0 11.5h0m2.5 59h0m0 48.5h0m0 3h0m1-145h0m0 33h0m.5-8h0m2 6.5h0m1.5-31.5h0m.5 3h0m1 25h0m2.5 1h0m1-27.5h0m.5 26h0m1.5-29.5h0m1-3h0m.5 .5h0m.5-7h0m.5 39h0m.5-3.5h0m1-1.5h0m1-29h0m.5-4.5h0m1.5-2.5h0m2.5 33.5h0m1-1h0m1-3h0m.5-2.5h0m1.5-32.5h0m0 6.5h0m1 0h0m1 34h0m2.5-11h0m3-24h0m1 27h0m2 2h0m1.5 2.5h0m.5-28.5h0m1.5 30h0m1-22.5h0m0 26.5h0m.5-28h0m2.5 40.5h0m.5-36.5h0m.5 25h0m2 3h0m1-.5h0m.5-25h0m2 29h0m.5 9h0m1-7h0m.5-1h0m1.5-28.5h0m.5-15h0m0 37h0m.5-3h0m.5 5h0m.5-8h0m.5-22h0m0 2h0m.5-7h0m1 6h0m1.5 17h0m0 3.5h0m2-23.5h0m1.5-1.5h0m2 20.5h0m.5-26h0m2 24.5h0m2-28h0m.5 1.5h0m4-.5h0m0 27.5h0m1-2.5h0m2.5-26.5h0m0 24h0m2-25h0m.5 3h0m0 29.5h0m.5-2h0m1-23.5h0m0 1.5h0m2.5 24h0m.5-21h0m2.5 22h0m.5-19h0m0 21.5h0m5.5-21.5h0m0 4.5h0m.5 17.5h0m1 4.5h0m3-26h0m1.5 22.5h0m2 .5h0m0 1.5h0m.5-33h0m0 4.5h0m2-12.5h0m0 8.5h0m3 27.5h0m1 4h0m.5-33.5h0m1 34h0m3-28h0m.5-5h0m1 33.5h0m.5 7h0m1-5h0m4-26h0m1.5 25.5h0m.5 7h0m1-6h0m2-23h0m0 27h0m3-27h0m.5 21.5h0m1-26h0m1.5 24.5h0m3-23h0m1 22.5h0m3-22h0m0 26h0m3.5-1h0m2-27.5h0m.5 24.5h0m.5-26.5h0m2-2h0m1-6h0m2.5 2h0m0 27.5h0m0 4.5h0m.5-24.5h0m0 3.5h0m0 2.5h0m0 12h0m.5-24h0m0 16h0m0 3h0" stroke="#1f77b4" stroke-width="5.2" stroke-linecap="round"/><path d="M116.5 258.2L117.4 247.5L118.4 243.1L119.3 238.6L120.2 242.3L121.2 255.5L122.1 256.1L123.0 247.2L124.0 243.7L124.9 244.0L125.8 257.0L126.8 268.3L127.7 242.2L128.7 189.9L129.6 156.0L130.5 222.5L131.5 272.2L132.4 267.7L133.3 270.3L134.3 241.0L135.2 220.5L136.1 240.1L137.1 247.2L138.0 219.6L138.9 214.6L139.9 240.4L140.8 253.3L141.7 229.9L142.7 220.5L143.6 253.8L144.5 278.1L145.5 267.8L146.4 251.6L147.3 250.7L148.3 231.3L149.2 208.0L150.2 219.3L151.1 247.4L152.0 279.5L153.0 316.2L153.9 235.6L154.8 153.9L155.8 166.6L156.7 234.7L157.6 292.4L158.6 300.9L159.5 306.4L160.4 306.2L161.4 290.9L162.3 224.0L163.2 158.1L164.2 201.3L165.1 209.0L166.0 207.8L167.0 226.3L167.9 227.3L168.8 221.1L169.8 261.0L170.7 267.1L171.6 164.5L172.6 140.3L173.5 237.0L174.5 328.8L175.4 297.1L176.3 261.4L177.3 307.7L178.2 308.3L179.1 222.8L180.1 179.2L181.0 203.6L181.9 219.0L182.9 243.8L183.8 261.1L184.7 232.6L185.7 202.8L186.6 191.2L187.5 188.2L188.5 203.0L189.4 232.9L190.3 260.3L191.3 277.7L192.2 260.3L193.1 205.5L194.1 189.4L195.0 185.6L196.0 132.8L196.9 188.8L197.8 292.6L198.8 345.9L199.7 326.1L200.6 248.1L201.6 188.1L202.5 199.8L203.4 244.9L204.4 205.7L205.3 158.1L206.2 223.1L207.2 297.4L208.1 261.8L209.0 274.8L210.0 315.1L210.9 270.3L211.8 205.4L212.8 293.9L213.7 332.8L214.6 271.8L215.6 211.3L216.5 268.2L217.4 265.0L218.4 224.5L219.3 257.5L220.3 221.8L221.2 141.5L222.1 148.8L223.1 241.4L224.0 232.0L224.9 185.1L225.9 227.3L226.8 236.4L227.7 194.9L228.7 245.1L229.6 300.6L230.5 245.2L231.5 219.9L232.4 278.1L233.3 248.8L234.3 171.9L235.2 192.4L236.1 244.5L237.1 258.0L238.0 348.0L238.9 301.0L239.9 328.5L240.8 290.1L241.8 222.7L242.7 251.3L243.6 296.1L244.6 276.5L245.5 198.6L246.4 175.6L247.4 224.9L248.3 284.8L249.2 312.7L250.2 308.4L251.1 199.9L252.0 150.9L253.0 250.7L253.9 326.9L254.8 269.6L255.8 241.4L256.7 306.1L257.6 286.6L258.6 246.8L259.5 326.6L260.4 371.2L261.4 263.8L262.3 213.6L263.3 291.5L264.2 253.3L265.1 241.7L266.1 283.7L267.0 185.1L267.9 128.4L268.9 145.0L269.8 234.4L270.7 228.9L271.7 189.8L272.6 130.7L273.5 222.3L274.5 197.8L275.4 169.5L276.3 203.9L277.3 268.9L278.2 291.9L279.1 233.4L280.1 192.4L281.0 257.7L281.9 305.1L282.9 247.3L283.8 213.7L284.8 272.5L285.7 283.7L286.6 213.6L287.6 169.7L288.5 166.4L289.4 191.4L290.4 239.5L291.3 245.3L292.2 213.3L293.2 223.9L294.1 256.6L295.0 232.2L296.0 192.0L296.9 189.8L297.8 214.0L298.8 251.7L299.7 271.8L300.6 236.4L301.6 198.9L302.5 207.7L303.4 225.3L304.4 230.7L305.3 263.8L306.2 292.2L307.2 278.3L308.1 254.5L309.1 249.9L310.0 267.0L310.9 314.9L311.9 331.7L312.8 285.0L313.7 197.3L314.7 215.0L315.6 255.9L316.5 230.3L317.5 221.0L318.4 253.8L319.3 257.8L320.3 252.2L321.2 273.7L322.1 261.8L323.1 221.3L324.0 233.9L324.9 267.6L325.9 237.2L326.8 192.5L327.7 200.1L328.7 239.6L329.6 240.0L330.6 202.8L331.5 197.9L332.4 220.2L333.4 216.1L334.3 230.1L335.2 292.0L336.2 293.5L337.1 233.7L338.0 229.7L339.0 254.6L339.9 227.4L340.8 196.7L341.8 199.3L342.7 236.6L343.6 284.7L344.6 251.9L345.5 176.6L346.4 199.5L347.4 296.5L348.3 281.8L349.2 193.1L350.2 192.5L351.1 233.5L352.1 217.0L353.0 195.5L353.9 198.7L354.9 173.7L355.8 170.8L356.7 220.4L357.7 304.7L358.6 247.8L359.5 232.6L360.5 273.3L361.4 234.8L362.3 200.4L363.3 247.1L364.2 249.2L365.1 197.6L366.1 233.9L367.0 300.8L367.9 261.5L368.9 179.1L369.8 168.7L370.7 208.3L371.7 276.1L372.6 283.7L373.5 298.0L374.5 313.3L375.4 288.9L376.4 226.4L377.3 237.3L378.2 289.7L379.2 269.8L380.1 220.6L381.0 235.6L382.0 264.2L382.9 266.8L383.8 281.7L384.8 257.5L385.7 163.3L386.6 138.4L387.6 197.4L388.5 299.8L389.4 261.1L390.4 201.3L391.3 225.8L392.2 149.7L393.2 227.8L394.1 168.4L395.0 169.4L396.0 211.2L396.9 225.0L397.9 260.3L398.8 287.6L399.7 231.1L400.7 172.5L401.6 186.8L402.5 231.6L403.5 227.2L404.4 221.1L405.3 270.7L406.3 296.0L407.2 264.0L408.1 250.5L409.1 263.3L410.0 237.7L410.9 233.0L411.9 273.0L412.8 256.8L413.7 203.4L414.7 199.3L415.6 200.6L416.5 190.9L417.5 234.1L418.4 301.4L419.4 310.0L420.3 291.7L421.2 278.3L422.2 220.8L423.1 137.0L424.0 212.1L425.0 216.0L425.9 228.3L426.8 269.6L427.8 279.5L428.7 300.5L429.6 290.3L430.6 192.0L431.5 180.9L432.4 307.8L433.4 327.1L434.3 231.1L435.2 226.3L436.2 283.8L437.1 180.7L438.0 128.8L439.0 160.6L439.9 229.4L440.8 197.2L441.8 237.3L442.7 328.1L443.7 307.3L444.6 216.6L445.5 247.3L446.5 299.3L447.4 277.7L448.3 276.1L449.3 295.2L450.2 254.6L451.1 225.3L452.1 276.0L453.0 298.8L453.9 251.0L454.9 195.7L455.8 161.7L456.7 149.7L457.7 214.4L458.6 310.6L459.5 282.2L460.5 280.4L461.4 310.9L462.3 262.6L463.3 183.8L464.2 201.5L465.2 240.8L466.1 227.5L467.0 230.7L468.0 252.5L468.9 251.7L469.8 252.0L470.8 234.9L471.7 210.8L472.6 312.4L473.6 388.1L474.5 275.8L475.4 143.9L476.4 222.9L477.3 316.9L478.2 278.1L479.2 221.1L480.1 247.8L481.0 280.6L482.0 290.1L482.9 280.7L483.8 225.5L484.8 196.3L485.7 232.0L486.6 249.7L487.6 226.1L488.5 236.9L489.5 239.2L490.4 194.9L491.3 193.0L492.3 242.7L493.2 248.6L494.1 216.1L495.1 205.0L496.0 189.8L496.9 180.2L497.9 222.0L498.8 266.7L499.7 239.9L500.7 234.8L501.6 287.6L502.5 284.8L503.5 228.5L504.4 235.0L505.3 265.7L506.3 223.6L507.2 192.8L508.1 237.0L509.1 257.1L510.0 183.3L511.0 153.9L511.9 206.3L512.8 269.5L513.8 251.7L514.7 233.6L515.6 241.3L516.6 213.2L517.5 168.2L518.4 178.4L519.4 281.4L520.3 328.6L521.2 242.7L522.2 145.3L523.1 162.1L524.0 236.7L525.0 263.0L525.9 291.7L526.8 310.2L527.8 268.1L528.7 267.6L529.6 333.0L530.6 334.3L531.5 257.7L532.5 206.0L533.4 215.6L534.3 250.7L535.3 310.7L536.2 315.8L537.1 237.1L538.1 204.7L539.0 238.0L539.9 197.8L540.9 152.5L541.8 198.4L542.7 272.5L543.7 219.1L544.6 166.7L545.5 156.0L546.5 195.6L547.4 187.3L548.3 173.2L549.3 194.7L550.2 209.9L551.1 211.3L552.1 228.4L553.0 250.7L554.0 253.5L554.9 258.8L555.8 267.3L556.8 259.2L557.7 269.6L558.6 284.9L559.6 245.6L560.5 216.2L561.4 241.2L562.4 221.2L563.3 183.2L564.2 233.2L565.2 269.6L566.1 181.2L567.0 159.7L568.0 238.0L568.9 250.1L569.8 186.5L570.8 219.2L571.7 304.3L572.6 303.3L573.6 269.2L574.5 276.9L575.4 294.4L576.4 268.8L577.3 220.2L578.3 250.9L579.2 311.1L580.1 229.9L581.1 141.0L582.0 151.8L582.9 210.1L583.9 288.2L584.8 321.2L585.7 344.4L586.7 275.2L587.6 158.5L588.5 179.3L589.5 207.9L590.4 188.8L591.3 268.8L592.3 335.5L593.2 281.3L594.1 194.8L595.1 242.1L596.0 291.9L596.9 274.8L597.9 278.3L598.8 273.0L599.8 229.6L600.7 249.2L601.6 274.6L602.6 174.1L603.5 132.9L604.4 197.0L605.4 284.8L606.3 196.8L607.2 149.7L608.2 206.0L609.1 286.6L610.0 267.7L611.0 212.8L611.9 210.9L612.8 258.0L613.8 282.2L614.7 195.8L615.6 132.8L616.6 164.5L617.5 234.6L618.4 267.3L619.4 217.3L620.3 182.7L621.2 235.2L622.2 289.3L623.1 258.2L624.1 232.7L625.0 257.0L625.9 273.2L626.9 277.8L627.8 266.6L628.7 231.4L629.7 249.1L630.6 288.7L631.5 205.6L632.5 132.8L633.4 148.4L634.3 229.3L635.3 254.6L636.2 275.9L637.1 305.3L638.1 264.7L639.0 221.2L639.9 256.8L640.9 259.3L641.8 204.2L642.7 206.3L643.7 250.7L644.6 236.1L645.6 196.4L646.5 213.8L647.4 281.8L648.4 309.3L649.3 226.7L650.2 158.1L651.2 222.6L652.1 287.9L653.0 265.6L654.0 284.0L654.9 330.8L655.8 324.9L656.8 229.1L657.7 183.3L658.6 259.7L659.6 321.8L660.5 270.1L661.4 183.9L662.4 203.8L663.3 261.9L664.2 256.8L665.2 265.9L666.1 307.4L667.1 298.6L668.0 264.3L668.9 275.1L669.9 261.4L670.8 215.5L671.7 234.5L672.7 252.8L673.6 181.7L674.5 168.4L675.5 274.7L676.4 311.3L677.3 228.6L678.3 209.7L679.2 273.5L680.1 275.4L681.1 219.2L682.0 195.5L682.9 216.8L683.9 262.6L684.8 268.3L685.7 212.3L686.7 168.6L687.6 167.0L688.5 208.9L689.5 274.6L690.4 276.7L691.4 251.3L692.3 298.9L693.2 322.1L694.2 235.3L695.1 158.3L696.0 176.7L697.0 236.7L697.9 262.3L698.8 200.9L699.8 162.4L700.7 172.8L701.6 254.6L702.6 301.2L703.5 278.5L704.4 247.0L705.4 253.4L706.3 282.5L707.2 285.0L708.2 187.9L709.1 134.9L710.0 177.1L711.0 208.3L711.9 175.9L712.9 190.1L713.8 238.0L714.7 234.9L715.7 215.7L716.6 233.2L717.5 250.5L718.5 244.6L719.4 238.1L720.3 222.7L721.3 191.6L722.2 168.1L723.1 167.3L724.1 200.9L725.0 263.3L725.9 233.8L726.9 158.1L727.8 197.3L728.7 193.3L729.7 216.3L730.6 269.1L731.5 272.6L732.5 246.4L733.4 237.9L734.4 245.9L735.3 270.5L736.2 269.8L737.2 199.1L738.1 148.3L739.0 143.4L740.0 156.4L740.9 188.4L741.8 232.2L742.8 235.3L743.7 223.5L744.6 207.3L745.6 156.0L746.5 211.2L747.4 238.8L748.4 220.0L749.3 197.0L750.2 204.0L751.2 234.0L752.1 238.1L753.0 219.7L754.0 212.8L754.9 208.8L755.9 191.9L756.8 193.2L757.7 240.7L758.7 270.8L759.6 220.4L760.5 174.2L761.5 167.2L762.4 170.9L763.3 210.8L764.3 313.8L765.2 337.9L766.1 313.5L767.1 243.3L768.0 233.8L768.9 245.8L769.9 232.8L770.8 235.5L771.7 288.4L772.7 326.0L773.6 325.2L774.5 285.8L775.5 240.6L776.4 244.1L777.3 246.0L778.3 242.1L779.2 280.1L780.2 298.1L781.1 240.4L782.0 195.8L783.0 215.8L783.9 228.9L784.8 230.5L785.8 275.6L786.7 286.3L787.6 224.2L788.6 201.8L789.5 235.7L790.4 236.7L791.4 210.9L792.3 220.4L793.2 250.8L794.2 278.4L795.1 243.8L796.0 181.3L797.0 206.7L797.9 233.3L798.8 247.8L799.8 220.1L800.7 216.6L801.7 240.9L802.6 222.0L803.5 222.1L804.5 311.4L805.4 329.1L806.3 270.9L807.3 187.4L808.2 222.0L809.1 239.8L810.1 245.0L811.0 266.9L811.9 258.4L812.9 242.4L813.8 258.5L814.7 243.9L815.7 210.1L816.6 255.7L817.5 324.3L818.5 325.6L819.4 290.9L820.3 269.3L821.3 258.8L822.2 254.3L823.1 301.3L824.1 317.9L825.0 235.3L826.0 164.9L826.9 209.5L827.8 278.1L828.8 207.0L829.7 168.2L830.6 225.5L831.6 246.9L832.5 206.1L833.4 295.1L834.4 264.4L835.3 175.0L836.2 173.9L837.2 256.0L838.1 315.1L839.0 250.8L840.0 204.7L840.9 220.8L841.8 247.8L842.8 285.0L843.7 257.1L844.6 208.8L845.6 309.4L846.5 342.2L847.5 319.1L848.4 182.1L849.3 204.3L850.3 282.2L851.2 272.7L852.1 249.5L853.1 264.5L854.0 283.1L854.9 280.7L855.9 243.5L856.8 269.3L857.7 333.3L858.7 283.6L859.6 207.1L860.5 200.5L861.5 247.8L862.4 277.9L863.3 256.9L864.3 246.4L865.2 277.0L866.1 295.8L867.1 230.0L868.0 170.8L869.0 224.0L869.9 280.3L870.8 260.2L871.8 226.4L872.7 212.6L873.6 226.3L874.6 252.3L875.5 246.8L876.4 218.3L877.4 211.3L878.3 208.5L879.2 207.0L880.2 277.6L881.1 328.2L882.0 279.7L883.0 159.2L883.9 179.3L884.8 302.3L885.8 298.6L886.7 235.9L887.6 291.3L888.6 329.3L889.5 308.6L890.4 246.5L891.4 230.5L892.3 230.1L893.3 222.0L894.2 187.5L895.1 156.6L896.1 167.7L897.0 222.0L897.9 221.9L898.9 177.9L899.8 158.1L900.7 205.6L901.7 255.3L902.6 240.9L903.5 225.2L904.5 268.9L905.4 282.6L906.3 161.5L907.3 136.2L908.2 156.1L909.1 190.8L910.1 158.6L911.0 200.6L911.9 314.3L912.9 288.3L913.8 200.8L914.8 217.6L915.7 245.0L916.6 211.8L917.6 209.9L918.5 268.0L919.4 298.5L920.4 291.7L921.3 296.4L922.2 307.1L923.2 288.2L924.1 239.8L925.0 220.6L926.0 226.7L926.9 218.1L927.8 194.3L928.8 200.5L929.7 246.7L930.6 261.7L931.6 224.1L932.5 211.9L933.4 239.7L934.4 273.2L935.3 292.4L936.3 273.0L937.2 202.2L938.1 181.6L939.1 227.4L940.0 265.1L940.9 216.2L941.9 158.1L942.8 205.7L943.7 200.8L944.7 236.5L945.6 307.3L946.5 301.5L947.5 252.4L948.4 231.6L949.3 220.8L950.3 221.2L951.2 270.5L952.1 315.1L953.1 316.1L954.0 268.8L954.9 209.5L955.9 231.9L956.8 288.6L957.8 253.5L958.7 196.3L959.6 257.3L960.6 312.0L961.5 230.5L962.4 168.3L963.4 212.1L964.3 242.1L965.2 206.1L966.2 234.9L967.1 205.1L968.0 134.9L969.0 147.8L969.9 212.2L970.8 294.6L971.8 296.9L972.7 262.2L973.6 229.1L974.6 227.2L975.5 246.4L976.4 257.2L977.4 258.4L978.3 242.6L979.2 193.3L980.2 166.6L981.1 196.1L982.1 273.1L983.0 259.7L983.9 188.1L984.9 187.0L985.8 259.0L986.7 298.9L987.7 282.7L988.6 253.9L989.5 232.8L990.5 244.7L991.4 288.5L992.3 267.5L993.3 193.4L994.2 203.7L995.1 279.0L996.1 263.2L997.0 214.9L997.9 244.1L998.9 274.3L999.8 271.3L1000.7 307.7L1001.7 242.8L1002.6 153.9L1003.6 173.2L1004.5 237.3L1005.4 257.4L1006.4 194.6L1007.3 177.7L1008.2 213.3L1009.2 232.1L1010.1 213.4L1011.0 222.4L1012.0 252.0L1012.9 263.7L1013.8 274.4L1014.8 277.8L1015.7 248.2L1016.6 237.7L1017.6 270.8L1018.5 276.1L1019.4 247.4L1020.4 221.1L1021.3 175.0L1022.2 227.9L1023.2 276.9L1024.1 290.1L1025.0 216.5L1026.0 164.2L1026.9 193.0L1027.9 278.1L1028.8 275.1L1029.7 254.8L1030.7 269.2L1031.6 268.2L1032.5 287.6L1033.5 317.9L1034.4 294.5L1035.3 221.7L1036.3 204.8L1037.2 214.3L1038.1 230.4L1039.1 207.1L1040.0 132.8L1040.9 178.8L1041.9 224.7L1042.8 270.6L1043.7 265.5L1044.7 251.7L1045.6 266.8L1046.5 262.5L1047.5 259.2L1048.4 249.4L1049.4 182.8L1050.3 159.8L1051.2 207.3L1052.2 277.8L1053.1 241.7L1054.0 223.6L1055.0 249.9L1055.9 245.1L1056.8 234.8L1057.8 239.1L1058.7 219.5L1059.6 211.3L1060.6 225.6L1061.5 198.6L1062.4 171.3L1063.4 194.8L1064.3 204.4L1065.2 145.5L1066.2 211.5L1067.1 270.9L1068.0 273.3L1069.0 288.4L1069.9 308.8L1070.9 313.3L1071.8 293.1L1072.7 244.8L1073.7 235.7L1074.6 287.1L1075.5 306.5L1076.5 275.2L1077.4 247.4L1078.3 227.1L1079.3 207.3L1080.2 234.0L1081.1 263.3L1082.1 220.2L1083.0 206.2L1083.9 276.4L1084.9 307.1L1085.8 265.9L1086.7 255.1L1087.7 291.7L1088.6 233.9L1089.5 166.6L1090.5 228.0L1091.4 293.7L1092.3 269.6L1093.3 240.7L1094.2 241.9L1095.2 242.6L1096.1 219.5L1097.0 197.0L1098.0 202.4L1098.9 247.2L1099.8 295.9L1100.8 287.2L1101.7 233.5L1102.6 220.2L1103.6 258.4L1104.5 271.4L1105.4 229.9L1106.4 202.0L1107.3 201.3L1108.2 200.2L1109.2 213.6L1110.1 280.6L1111.0 332.2L1112.0 333.8L1112.9 296.1L1113.8 249.6L1114.8 264.1L1115.7 294.3L1116.7 295.2L1117.6 277.1L1118.5 258.6L1119.5 248.2L1120.4 251.8L1121.3 256.6L1122.3 241.8L1123.2 231.4L1124.1 268.7L1125.1 317.1L1126.0 309.6L1126.9 235.4L1127.9 191.9L1128.8 187.4L1129.7 175.8L1130.7 166.2L1131.6 174.4L1132.5 201.2L1133.5 248.1L1134.4 277.3L1135.3 240.6L1136.3 218.4L1137.2 308.6L1138.2 360.7L1139.1 265.1L1140.0 188.2L1141.0 291.8L1141.9 300.7L1142.8 209.9L1143.8 211.4L1144.7 279.1L1145.6 258.3L1146.6 218.0L1147.5 249.2L1148.4 257.8L1149.4 203.8L1150.3 193.2L1151.2 235.0L1152.2 261.5L1153.1 240.3L1154.0 210.8L1155.0 216.3L1155.9 278.4L1156.8 247.2L1157.8 160.2L1158.7 211.4L1159.7 249.2L1160.6 263.7L1161.5 261.5L1162.5 241.1L1163.4 213.1L1164.3 196.6L1165.3 196.0L1166.2 212.3L1167.1 254.4L1168.1 250.9L1169.0 163.7L1169.9 142.5L1170.9 159.1L1171.8 222.8L1172.7 201.9L1173.7 193.8L1174.6 259.9L1175.5 271.8L1176.5 221.9L1177.4 244.1L1178.3 293.3L1179.3 262.7L1180.2 231.6L1181.1 269.9L1182.1 264.9L1183.0 180.9L1184.0 162.4L1184.9 238.7L1185.8 307.6L1186.8 226.2L1187.7 205.9L1188.6 230.3L1189.6 219.1L1190.5 218.4L1191.4 269.6L1192.4 300.6L1193.3 295.2L1194.2 285.9L1195.2 249.5L1196.1 214.8L1197.0 273.4L1198.0 337.8L1198.9 322.8L1199.8 209.6L1200.8 176.3L1201.7 188.7L1202.6 184.0L1203.6 179.5L1204.5 185.5L1205.5 182.6L1206.4 191.4L1207.3 234.1L1208.3 271.4L1209.2 279.4L1210.1 287.0L1211.1 288.7L1212.0 310.0L1212.9 375.5L1213.9 274.6L1214.8 219.2L1215.7 247.4L1216.7 251.0L1217.6 266.4L1218.5 278.4L1219.5 248.7L1220.4 224.8L1221.3 245.3L1222.3 268.0L1223.2 242.7L1224.1 200.9L1225.1 198.6L1226.0 270.7L1227.0 323.9L1227.9 275.9L1228.8 181.4L1229.8 179.1L1230.7 199.4L1231.6 190.5L1232.6 233.6L1233.5 317.6L1234.4 299.4L1235.4 214.0L1236.3 210.1L1237.2 246.0L1238.2 258.1L1239.1 210.0L1240.0 147.6L1241.0 204.7L1241.9 296.1L1242.8 307.6L1243.8 227.1L1244.7 173.9L1245.6 200.2L1246.6 261.2L1247.5 283.3L1248.4 289.1L1249.4 257.5L1250.3 188.0L1251.3 168.6L1252.2 189.1L1253.1 221.6L1254.1 262.6L1255.0 282.3L1255.9 229.3L1256.9 198.2L1257.8 243.2L1258.7 264.9L1259.7 217.8L1260.6 218.4L1261.5 266.0L1262.5 262.8L1263.4 238.6L1264.3 265.2L1265.3 291.4L1266.2 261.6L1267.1 213.0L1268.1 200.2L1269.0 234.0L1269.9 279.4L1270.9 253.6L1271.8 225.8L1272.8 314.3L1273.7 344.3L1274.6 306.9L1275.6 172.0L1276.5 167.8L1277.4 205.7L1278.4 226.4L1279.3 247.9L1280.2 240.9L1281.2 190.2L1282.1 187.2L1283.0 275.2L1284.0 324.7L1284.9 295.6L1285.8 225.5L1286.8 265.3L1287.7 322.9L1288.6 313.6L1289.6 259.3L1290.5 265.1L1291.4 302.3L1292.4 287.0L1293.3 190.0L1294.2 158.1L1295.2 189.0L1296.1 224.7L1297.1 231.3L1298.0 281.1L1298.9 285.2L1299.9 199.0L1300.8 168.7L1301.7 215.1L1302.7 246.5L1303.6 204.0L1304.5 187.8L1305.5 207.1L1306.4 197.6L1307.3 172.9L1308.3 198.6L1309.2 280.8L1310.1 305.0L1311.1 300.1L1312.0 303.7L1312.9 291.6L1313.9 249.9L1314.8 228.4L1315.7 197.4L1316.7 165.6L1317.6 200.2L1318.6 277.6L1319.5 242.5L1320.4 189.7L1321.4 245.6L1322.3 298.2L1323.2 256.5L1324.2 186.6L1325.1 169.1L1326.0 162.4L1327.0 218.0L1327.9 293.5L1328.8 268.8L1329.8 237.2L1330.7 243.7L1331.6 247.7L1332.6 257.1L1333.5 278.1L1334.4 263.5L1335.4 217.7L1336.3 205.2L1337.2 216.4L1338.2 229.8L1339.1 257.0L1340.1 272.2L1341.0 241.9L1341.9 198.7L1342.9 199.4L1343.8 228.2L1344.7 214.8L1345.7 184.4L1346.6 225.5L1347.5 288.6L1348.5 236.0L1349.4 176.8L1350.3 263.4L1351.3 319.3L1352.2 260.8L1353.1 159.0L1354.1 149.7L1355.0 230.8L1355.9 286.5L1356.9 252.5L1357.8 218.6L1358.7 183.5L1359.7 206.1L1360.6 256.3L1361.5 209.6L1362.5 166.2L1363.4 195.6L1364.4 215.7L1365.3 180.6L1366.2 189.7L1367.2 239.3L1368.1 244.6L1369.0 231.8L1370.0 240.0L1370.9 238.0L1371.8 225.6L1372.8 229.3L1373.7 261.6L1374.6 284.9L1375.6 243.6L1376.5 178.2L1377.4 194.6L1378.4 264.9L1379.3 260.9L1380.2 218.0L1381.2 215.4L1382.1 209.0L1383.0 198.1L1384.0 243.8L1384.9 291.1L1385.9 268.3L1386.8 236.4L1387.7 275.0L1388.7 279.6L1389.6 193.7L1390.5 156.6L1391.5 190.0L1392.4 240.3L1393.3 246.9L1394.3 259.5L1395.2 267.2L1396.1 237.6L1397.1 228.6L1398.0 257.3L1398.9 241.2L1399.9 201.8L1400.8 226.5L1401.7 275.4L1402.7 276.8L1403.6 279.9L1404.5 280.9L1405.5 220.1L1406.4 172.0L1407.4 181.3L1408.3 211.0L1409.2 258.1L1410.2 297.9L1411.1 283.0L1412.0 228.1L1413.0 214.6L1413.9 206.9L1414.8 209.3L1415.8 262.4L1416.7 270.8L1417.6 219.7L1418.6 249.6L1419.5 299.2L1420.4 256.8L1421.4 211.0L1422.3 268.6L1423.2 274.1L1424.2 218.2L1425.1 254.1L1426.0 299.9L1427.0 267.6L1427.9 215.3L1428.8 179.6L1429.8 143.4L1430.7 171.5L1431.7 149.7L1432.6 212.9L1433.5 243.4L1434.5 242.2L1435.4 223.2L1436.3 215.2L1437.3 248.0L1438.2 236.9L1439.1 173.9L1440.1 174.1L1441.0 256.4L1441.9 274.2L1442.9 192.8L1443.8 167.9L1444.7 222.4L1445.7 296.2L1446.6 326.9L1447.5 259.0L1448.5 223.4L1449.4 281.1L1450.3 294.7L1451.3 273.8L1452.2 259.7L1453.2 254.6L1454.1 243.8L1455.0 264.3L1456.0 278.8L1456.9 238.1L1457.8 223.5L1458.8 268.6L1459.7 243.8L1458.6 176.7L1459.4 193.4L1461.8 508.4" stroke="#ff7f0e" stroke-width="2.1" stroke-linejoin="round"/></g>
<rect x="116.5" y="59.5" width="1346.0" height="469.0" fill="none" stroke="#000" stroke-width="1.1"/>
<path d="M116.50 528.5v5M284.75 528.5v5M453.00 528.5v5M621.25 528.5v5M789.50 528.5v5M957.75 528.5v5M1126.00 528.5v5M1294.25 528.5v5M116.5 86.40h-5M116.5 170.80h-5M116.5 255.20h-5M116.5 339.60h-5M116.5 424.00h-5M116.5 508.40h-5" stroke="#000" stroke-width="1.1" fill="none"/>
<text x="105.20" y="94.00" font-size="21.20" text-anchor="end" stroke="#000" stroke-width=".28" stroke-linejoin="round" textLength="14.5" lengthAdjust="spacingAndGlyphs">4</text>
<text x="105.20" y="178.40" font-size="21.20" text-anchor="end" stroke="#000" stroke-width=".28" stroke-linejoin="round" textLength="14.5" lengthAdjust="spacingAndGlyphs">2</text>
<text x="105.20" y="262.80" font-size="21.20" text-anchor="end" stroke="#000" stroke-width=".28" stroke-linejoin="round" textLength="14.5" lengthAdjust="spacingAndGlyphs">0</text>
<text x="105.20" y="347.20" font-size="21.20" text-anchor="end" stroke="#000" stroke-width=".28" stroke-linejoin="round" textLength="33.0" lengthAdjust="spacingAndGlyphs">−2</text>
<text x="105.20" y="431.60" font-size="21.20" text-anchor="end" stroke="#000" stroke-width=".28" stroke-linejoin="round" textLength="33.0" lengthAdjust="spacingAndGlyphs">−4</text>
<text x="105.20" y="516.00" font-size="21.20" text-anchor="end" stroke="#000" stroke-width=".28" stroke-linejoin="round" textLength="33.0" lengthAdjust="spacingAndGlyphs">−6</text>
<rect x="150.2" y="585.5" width="552.4" height="469.0" fill="#e7e7e7"/>
<path d="M284.5 585.5V1054.5M453.5 585.5V1054.5M621.5 585.5V1054.5M789.5 585.5V1054.5M957.5 585.5V1054.5M1126.5 585.5V1054.5M1294.5 585.5V1054.5M116.5 652.5H1462.5M116.5 747.5H1462.5M116.5 843.5H1462.5M116.5 938.5H1462.5M116.5 1034.5H1462.5" stroke="#a2a2a2" stroke-width="1" stroke-dasharray="1.05 1.92" fill="none"/>
<g clip-path="url(#cb)" fill="none"><path d="M115 638v1M115 645v1M115 657v1M115 665v1M115 672v1M115 678v5M115 693v1M115 699v1M115 703v1M115 715v1M115 724v1M115 731v1M115 750v1M115 755v1M115 760v1M115 776v1M115 787v1M115 818v1M115 825v1M115 834v1M115 851v1M115 873v1M115 884v1M115 888v1M115 894v3M115 911v1M115 917v2M115 949v1M116 630v3M116 637v3M116 643v7M116 653v31M116 689v6M116 698v19M116 723v10M116 748v17M116 771v7M116 786v4M116 798v4M116 807v13M116 824v4M116 833v3M116 839v1M116 849v4M116 856v1M116 863v6M116 872v3M116 881v18M116 907v6M116 916v7M116 929v1M116 936v1M116 948v6M116 968v1M116 972v1M117 629v5M117 637v47M117 688v48M117 747v34M117 785v6M117 797v24M117 824v5M117 832v68M117 905v19M117 928v3M117 935v3M117 948v8M117 967v7M118 629v55M118 688v10M118 701v36M118 745v178M118 928v10M118 947v10M118 967v6M119 629v56M119 688v10M119 701v36M119 744v56M119 803v86M119 892v31M119 927v11M119 947v11M119 966v7M120 629v56M120 688v10M120 701v37M120 741v59M120 803v86M120 892v31M120 927v13M120 946v13M120 966v7M121 630v4M121 639v1M121 643v157M121 803v86M121 892v35M121 931v10M121 944v15M121 962v1M121 966v9M122 647v280M122 931v45M123 647v275M123 925v1M123 931v32M123 967v9M123 979v4M123 992v1M123 998v1M124 647v270M124 920v1M124 931v18M124 952v11M124 970v14M124 991v3M124 997v3M125 638v1M125 645v272M125 920v1M125 931v18M125 952v11M125 970v13M125 990v9M126 637v3M126 643v203M126 850v67M126 920v1M126 931v18M126 952v12M126 970v9M126 990v9M127 637v209M127 850v42M127 895v27M127 931v18M127 952v2M127 957v8M127 970v9M127 986v1M127 991v8M128 637v209M128 850v8M128 862v30M128 895v26M128 928v5M128 939v15M128 957v8M128 969v9M128 985v3M128 996v6M129 637v118M129 758v92M129 853v5M129 865v9M129 879v12M129 896v24M129 927v3M129 939v10M129 952v1M129 957v8M129 969v3M129 983v5M129 996v7M130 636v119M130 758v61M130 822v28M130 853v5M130 865v9M130 879v2M130 884v6M130 897v23M130 927v2M130 939v10M130 957v9M130 969v3M130 981v7M130 996v6M131 637v5M131 645v110M131 758v61M131 823v27M131 853v5M131 865v9M131 879v2M131 884v6M131 897v23M131 927v2M131 933v1M131 938v11M131 956v16M131 979v10M131 996v6M132 638v1M132 646v1M132 651v168M132 823v27M132 853v8M132 864v10M132 879v2M132 884v6M132 897v23M132 926v3M132 932v19M132 956v16M132 978v4M132 985v5M132 995v7M133 654v4M133 662v157M133 823v27M133 853v28M133 884v8M133 896v56M133 956v1M133 960v13M133 979v3M133 985v5M133 996v6M134 667v285M134 955v2M134 960v13M134 979v3M134 985v5M134 1000v1M135 668v289M135 960v13M135 979v12M136 668v5M136 676v231M136 911v62M136 979v2M136 984v6M137 669v4M137 676v2M137 682v225M137 911v30M137 944v13M137 961v13M137 978v2M137 985v1M138 683v224M138 911v30M138 944v10M138 961v7M138 971v9M139 673v3M139 683v225M139 911v30M139 944v8M139 961v7M139 975v5M140 673v3M140 683v202M140 888v29M140 920v21M140 944v2M140 949v3M140 957v11M140 976v5M141 672v4M141 683v202M141 888v29M141 921v3M141 931v4M141 938v8M141 949v3M141 956v14M141 979v1M142 665v2M142 671v214M142 888v29M142 921v3M142 931v4M142 940v6M142 949v3M142 957v14M143 642v3M143 648v7M143 660v1M143 664v221M143 888v12M143 905v13M143 922v2M143 931v4M143 941v10M143 961v9M144 640v260M144 906v13M144 923v2M144 932v5M144 942v7M144 964v3M145 639v227M145 869v24M145 898v2M145 906v12M145 923v3M145 934v4M145 947v1M145 965v1M146 639v227M146 869v24M146 907v1M146 911v6M146 924v1M146 934v3M147 638v127M147 768v98M147 869v12M147 886v1M147 891v1M147 914v3M147 934v3M148 638v127M148 768v113M148 914v3M148 935v1M149 638v127M149 768v112M149 914v2M150 639v241M150 914v2M151 639v130M151 772v108M151 914v2M152 639v130M152 772v108M152 913v3M153 639v130M153 772v110M153 913v3M154 638v163M154 805v78M154 913v3M155 638v160M155 805v78M155 913v5M156 637v161M156 805v20M156 828v56M156 912v7M157 636v162M157 804v20M157 831v52M157 912v7M158 636v164M158 804v20M158 831v51M158 912v2M158 918v1M159 635v166M159 804v20M159 831v51M159 909v5M159 918v2M160 635v247M160 908v6M160 918v3M161 635v248M161 909v1M161 913v2M161 919v1M162 635v247M162 913v3M163 634v248M163 914v1M164 633v244M164 880v2M165 632v230M165 865v12M165 880v3M165 906v1M166 632v230M166 865v12M166 880v2M166 888v1M166 899v3M166 905v3M167 632v230M167 865v12M167 880v2M167 887v3M167 898v9M168 631v217M168 851v14M168 868v14M168 888v2M168 899v8M168 917v2M169 631v217M169 851v14M169 868v14M169 888v3M169 899v2M169 904v3M169 916v3M169 956v1M170 631v217M170 851v14M170 869v16M170 888v7M170 899v2M170 904v5M170 916v4M170 932v1M170 937v1M170 954v4M170 962v4M171 630v235M171 869v32M171 904v6M171 914v7M171 924v1M171 928v11M171 951v6M171 961v6M171 989v1M172 630v236M172 869v41M172 913v26M172 950v5M172 962v5M172 971v1M172 980v1M172 985v6M173 630v309M173 950v5M173 962v5M173 970v3M173 979v11M174 630v224M174 857v82M174 950v4M174 962v10M174 979v3M174 985v5M175 630v62M175 695v39M175 737v85M175 826v28M175 857v65M175 926v14M175 945v1M175 950v4M175 961v9M175 980v1M175 986v4M176 629v40M176 672v19M176 696v38M176 737v34M176 774v26M176 804v1M176 810v12M176 826v28M176 857v55M176 915v1M176 919v3M176 926v9M176 938v3M176 944v10M176 962v8M176 986v3M177 630v2M177 640v14M177 658v11M177 673v5M177 681v10M177 698v8M177 709v5M177 718v16M177 737v13M177 754v16M177 775v4M177 786v13M177 812v4M177 819v3M177 827v3M177 834v7M177 846v7M177 857v5M177 865v1M177 870v4M177 882v1M177 887v3M177 894v10M177 907v5M177 919v3M177 927v5M177 939v1M177 943v3M177 950v5M177 966v3M177 986v2M178 646v3M178 652v1M178 658v11M178 673v5M178 683v8M178 698v8M178 709v5M178 718v15M178 737v13M178 754v5M178 762v7M178 775v4M178 786v2M178 791v8M178 812v4M178 819v4M178 834v6M178 848v1M178 857v2M178 870v1M178 882v1M178 887v3M178 895v3M178 902v2M178 909v3M178 920v2M178 927v4M178 944v1M178 953v1M178 985v3M179 647v2M179 652v1M179 658v12M179 673v5M179 683v8M179 698v8M179 709v5M179 718v14M179 737v13M179 754v5M179 762v7M179 775v4M179 786v2M179 792v7M179 812v4M179 819v5M179 834v6M179 848v1M179 857v2M179 870v1M179 882v1M179 887v3M179 895v3M179 902v2M179 909v2M179 920v2M179 927v4M179 985v2M180 647v2M180 652v1M180 658v21M180 683v8M180 695v37M180 736v14M180 754v5M180 762v7M180 774v7M180 786v2M180 792v7M180 806v18M180 832v8M180 843v1M180 848v1M180 853v6M180 866v5M180 876v1M180 882v1M180 887v4M180 895v3M180 902v2M180 920v11M180 958v1M180 978v1M180 983v2M181 639v2M181 647v85M181 735v47M181 785v4M181 792v9M181 805v19M181 828v31M181 862v10M181 875v3M181 881v5M181 889v20M181 914v1M181 919v19M181 945v1M181 957v3M181 964v3M181 976v9M182 638v4M182 646v156M182 805v73M182 881v5M182 890v19M182 912v27M182 944v3M182 951v8M182 963v7M182 973v12M183 636v221M183 860v12M183 875v10M183 890v51M183 944v3M183 950v6M183 964v18M184 635v222M184 860v11M184 876v9M184 890v66M184 965v5M184 973v8M185 635v222M185 860v11M185 876v9M185 889v17M185 909v7M185 919v23M185 945v11M185 965v5M185 973v6M186 635v179M186 817v54M186 876v9M186 888v16M186 909v7M186 919v23M186 947v9M186 965v5M186 973v5M187 634v180M187 817v78M187 898v2M187 909v7M187 919v23M187 948v1M187 953v2M187 966v4M187 974v1M188 634v180M188 817v78M188 898v2M188 909v7M188 919v13M188 935v8M188 948v1M188 968v3M189 633v123M189 759v51M189 815v80M189 898v2M189 909v7M189 919v13M189 936v8M189 948v1M189 969v1M190 633v123M190 759v51M190 815v75M190 893v7M190 904v1M190 909v7M190 920v3M190 928v4M190 938v6M190 947v3M191 630v126M191 759v51M191 815v75M191 893v18M191 914v2M191 920v3M191 928v5M191 938v6M191 947v3M191 956v1M192 629v261M192 893v18M192 914v2M192 920v3M192 928v5M192 938v6M192 947v3M192 955v3M193 628v135M193 766v11M193 780v71M193 856v55M193 914v3M193 920v13M193 936v2M193 942v8M193 956v2M193 961v1M194 627v136M194 766v11M194 780v71M194 856v35M194 894v44M194 942v8M194 957v6M194 971v1M195 628v135M195 766v11M195 780v71M195 856v35M195 896v15M195 914v11M195 928v9M195 942v10M195 957v6M195 970v3M196 629v124M196 757v96M196 856v35M196 896v14M196 914v11M196 928v9M196 942v11M196 957v5M196 969v4M197 629v123M197 757v44M197 805v88M197 896v13M197 914v11M197 928v9M197 942v12M197 957v5M197 969v4M197 978v1M198 629v7M198 640v101M198 744v8M198 757v43M198 807v10M198 820v89M198 914v18M198 935v27M198 967v6M198 977v3M198 985v1M198 990v3M198 999v16M199 629v6M199 641v34M199 678v8M199 690v3M199 697v1M199 701v9M199 719v11M199 734v6M199 745v6M199 757v28M199 797v2M199 808v1M199 812v4M199 823v35M199 861v10M199 877v32M199 912v20M199 935v82M200 630v4M200 642v1M200 656v2M200 663v4M200 671v1M200 679v5M200 691v1M200 702v6M200 728v1M200 736v3M200 747v3M200 758v1M200 765v3M200 772v1M200 778v2M200 783v1M200 813v1M200 835v1M200 840v9M200 855v1M200 862v9M200 878v2M200 883v1M200 888v3M200 894v38M200 935v87M201 842v1M201 846v3M201 863v8M201 889v1M201 895v1M201 899v124M202 846v3M202 866v4M202 895v1M202 899v124M203 847v1M203 867v1M203 895v1M203 899v124M204 894v3M204 900v123M205 895v1M205 902v121M206 902v123M207 903v1M207 907v4M207 917v1M207 923v103M208 907v4M208 926v100M209 908v3M209 926v100M210 908v3M210 926v9M210 938v89M211 908v3M211 925v8M211 939v87M212 908v5M212 926v1M212 930v3M212 939v6M212 949v77M213 908v6M213 931v1M213 939v6M213 949v76M214 907v6M214 936v5M214 949v75M215 908v1M215 935v6M215 945v79M216 936v5M216 945v79M217 936v89M218 936v89M219 935v90M220 934v7M220 946v79M221 934v6M221 946v79M222 935v1M222 946v79M223 947v79M224 947v78M225 917v1M225 931v1M225 947v78M226 916v3M226 930v3M226 946v79M227 912v1M227 916v2M227 930v3M227 937v1M227 944v81M228 904v1M228 911v7M228 929v10M228 942v82M229 903v3M229 909v9M229 928v96M230 901v17M230 925v99M231 895v1M231 900v126M232 894v3M232 900v127M233 892v5M233 900v126M234 891v135M235 892v4M235 900v126M236 845v2M236 864v1M236 895v1M236 900v125M237 845v3M237 863v3M237 895v1M237 901v12M237 917v106M238 845v3M238 863v3M238 895v2M238 901v12M238 917v105M239 630v2M239 635v1M239 640v1M239 645v10M239 658v4M239 668v7M239 678v2M239 686v1M239 691v1M239 697v1M239 701v4M239 711v1M239 718v1M239 722v3M239 731v5M239 757v1M239 762v7M239 781v1M239 790v2M239 801v1M239 838v1M239 845v3M239 857v1M239 861v10M239 876v1M239 883v4M239 894v4M239 901v11M239 917v102M240 629v52M240 684v9M240 696v17M240 717v9M240 730v7M240 743v3M240 756v14M240 780v13M240 800v3M240 810v1M240 815v1M240 821v1M240 826v2M240 832v1M240 837v3M240 845v4M240 856v16M240 875v3M240 882v6M240 893v5M240 901v11M240 917v101M241 629v85M241 717v19M241 741v7M241 755v14M241 780v15M241 801v4M241 809v25M241 837v4M241 844v6M241 855v23M241 881v8M241 892v20M241 917v14M241 935v39M241 977v25M241 1005v12M242 629v107M242 740v12M242 755v14M242 778v10M242 791v6M242 801v5M242 809v42M242 854v58M242 917v12M242 936v37M242 977v14M242 994v8M242 1005v9M243 629v107M243 739v24M243 766v2M243 777v11M243 794v4M243 801v5M243 809v6M243 818v93M243 916v8M243 936v34M243 977v14M243 994v8M243 1005v4M243 1012v1M244 630v133M244 766v2M244 773v1M244 777v11M244 796v1M244 801v14M244 818v45M244 866v26M244 895v16M244 916v8M244 936v33M244 977v14M244 994v14M245 631v86M245 720v4M245 727v36M245 766v2M245 772v17M245 801v14M245 818v45M245 868v1M245 872v20M245 895v3M245 901v1M245 906v5M245 914v10M245 934v16M245 953v15M245 976v22M245 1001v5M246 631v85M246 721v3M246 727v41M246 771v18M246 801v47M246 851v12M246 872v15M246 890v1M246 895v3M246 908v16M246 933v8M246 945v1M246 953v15M246 972v25M246 1001v5M247 631v83M247 727v36M247 766v1M247 772v10M247 785v4M247 802v5M247 811v9M247 823v9M247 837v8M247 855v3M247 861v1M247 872v13M247 896v1M247 908v17M247 934v1M247 939v1M247 954v13M247 971v11M247 985v11M247 1001v5M248 631v82M248 724v6M248 733v3M248 739v6M248 748v8M248 759v3M248 775v6M248 787v1M248 804v3M248 813v1M248 818v1M248 824v8M248 843v1M248 873v5M248 882v1M248 909v1M248 913v6M248 923v1M248 955v6M248 965v1M248 972v1M248 979v2M248 986v1M248 994v1M248 1002v4M249 631v75M249 711v1M249 724v3M249 734v1M249 740v5M249 750v3M249 778v1M249 804v3M249 829v3M249 876v1M249 913v3M249 955v2M249 1004v1M250 629v76M250 725v1M250 740v5M250 750v3M250 778v1M250 804v4M250 830v1M250 914v1M250 955v1M251 628v77M251 740v4M251 751v1M251 778v1M251 804v5M251 954v2M252 627v78M252 709v1M252 719v1M252 739v2M252 777v3M252 803v5M252 953v3M253 626v79M253 708v3M253 718v3M253 738v3M253 777v2M253 802v3M253 954v1M254 625v86M254 719v3M254 738v2M254 777v2M254 803v1M255 624v88M255 719v4M255 776v3M256 624v87M256 719v5M256 777v1M257 624v82M257 719v4M258 624v82M258 718v3M259 625v81M259 719v2M260 626v83M260 720v1M261 626v84M261 720v2M262 627v83M262 720v6M263 628v82M263 721v6M264 629v83M264 716v1M264 725v3M265 629v89M265 726v1M266 629v89M267 630v88M267 760v1M268 630v88M268 722v4M268 759v3M269 630v97M269 756v6M270 630v96M270 755v3M270 761v2M271 629v90M271 755v3M271 761v3M271 782v1M272 628v90M272 753v5M272 762v4M272 781v3M273 628v89M273 752v7M273 764v3M273 782v4M273 992v1M274 627v89M274 736v1M274 752v2M274 757v1M274 765v2M274 782v5M274 847v1M274 991v3M275 627v89M275 735v3M275 751v3M275 782v7M275 846v3M275 991v2M276 627v89M276 719v1M276 732v5M276 743v1M276 752v1M276 767v2M276 781v2M276 787v3M276 799v1M276 847v2M276 861v1M276 947v1M276 991v1M277 627v94M277 729v5M277 742v3M277 762v2M277 767v3M277 780v3M277 787v3M277 798v3M277 847v2M277 860v4M277 946v3M277 990v2M278 628v95M278 729v5M278 743v2M278 761v8M278 780v3M278 787v3M278 798v2M278 847v3M278 861v4M278 945v4M278 989v3M279 628v82M279 713v11M279 730v4M279 738v1M279 744v1M279 761v8M279 780v3M279 788v2M279 798v1M279 809v6M279 825v1M279 838v1M279 847v3M279 855v1M279 862v3M279 878v1M279 895v1M279 902v4M279 944v5M279 954v4M279 961v1M279 989v3M279 1002v1M280 628v82M280 713v11M280 732v8M280 744v2M280 752v2M280 761v8M280 773v1M280 780v3M280 796v3M280 808v12M280 824v3M280 837v3M280 847v3M280 854v4M280 862v6M280 872v1M280 877v6M280 891v6M280 901v10M280 942v7M280 952v11M280 967v1M280 989v3M280 1001v3M280 1007v4M280 1015v1M281 628v82M281 713v12M281 732v9M281 744v3M281 751v6M281 760v9M281 772v3M281 780v3M281 790v2M281 795v4M281 803v1M281 808v19M281 836v7M281 847v12M281 863v21M281 888v8M281 900v12M281 915v1M281 920v4M281 931v4M281 938v10M281 951v11M281 966v12M281 989v7M281 1001v16M282 628v81M282 712v15M282 732v16M282 751v24M282 778v5M282 790v15M282 808v19M282 834v25M282 865v11M282 881v13M282 899v27M282 929v19M282 952v10M282 966v14M282 985v12M282 1001v16M283 628v80M283 712v16M283 731v52M283 787v17M283 809v18M283 833v27M283 865v11M283 881v13M283 900v1M283 904v44M283 952v10M283 965v16M283 984v13M283 1001v16M284 628v80M284 712v71M284 786v18M284 809v20M284 832v28M284 865v11M284 881v12M284 905v16M284 924v6M284 933v16M284 952v45M284 1002v15M285 628v80M285 711v20M285 736v68M285 809v21M285 833v6M285 843v18M285 864v14M285 881v2M285 888v5M285 905v16M285 924v6M285 934v14M285 951v16M285 970v8M285 982v3M285 988v9M285 1004v12M286 629v101M286 736v25M286 764v41M286 809v21M286 833v3M286 843v12M286 858v23M286 888v5M286 905v16M286 924v6M286 934v14M286 951v16M286 970v8M286 982v3M286 988v3M286 994v4M286 1004v10M287 629v101M287 736v8M287 747v14M287 764v14M287 781v48M287 833v3M287 843v12M287 858v23M287 888v5M287 899v1M287 904v27M287 934v3M287 940v8M287 951v16M287 970v8M287 982v3M287 988v3M287 994v4M287 1004v10M288 629v101M288 733v10M288 747v4M288 757v4M288 765v13M288 783v10M288 796v30M288 832v4M288 843v11M288 858v23M288 888v5M288 898v3M288 904v27M288 935v2M288 940v51M288 994v6M288 1004v10M289 628v53M289 684v59M289 747v4M289 759v3M289 768v9M289 788v5M289 797v11M289 812v3M289 819v7M289 832v5M289 842v7M289 859v17M289 879v1M289 887v5M289 897v15M289 916v16M289 935v2M289 940v8M289 951v66M290 629v7M290 639v14M290 658v1M290 662v16M290 688v3M290 694v10M290 709v2M290 714v3M290 720v23M290 747v4M290 760v1M290 769v7M290 789v3M290 798v8M290 813v1M290 820v6M290 832v4M290 843v4M290 860v6M290 869v1M290 873v3M290 888v1M290 898v3M290 904v6M290 917v1M290 924v7M290 935v2M290 940v3M290 953v65M291 630v1M291 642v1M291 647v4M291 664v5M291 675v2M291 689v1M291 697v1M291 702v1M291 721v4M291 732v1M291 738v4M291 748v2M291 772v1M291 822v3M291 833v1M291 845v1M291 861v4M291 874v1M291 899v1M291 908v1M291 925v1M291 935v3M291 941v1M291 954v1M291 958v59M292 936v1M292 960v3M292 969v48M293 960v3M293 969v48M294 960v3M294 969v49M295 958v5M295 969v49M296 957v7M296 967v52M297 943v1M297 957v61M298 924v1M298 934v1M298 942v4M298 957v61M299 913v4M299 923v3M299 929v1M299 933v3M299 942v75M300 904v1M300 912v8M300 923v15M300 941v73M301 886v4M301 902v7M301 912v96M302 868v2M302 875v1M302 882v10M302 895v107M302 1005v1M303 688v3M303 714v1M303 758v1M303 805v1M303 814v1M303 839v3M303 852v1M303 857v1M303 861v3M303 867v4M303 874v128M304 687v7M304 697v2M304 702v1M304 707v1M304 712v4M304 754v6M304 797v1M304 802v5M304 813v5M304 821v6M304 834v1M304 838v5M304 848v154M305 688v28M305 753v7M305 782v1M305 791v15M305 814v14M305 833v10M305 847v156M306 688v11M306 702v14M306 753v7M306 781v17M306 801v3M306 815v15M306 834v170M307 688v11M307 705v12M307 753v10M307 782v12M307 801v3M307 815v16M307 838v168M308 688v10M308 706v10M308 753v11M308 783v7M308 802v1M308 816v9M308 828v3M308 838v8M308 851v156M309 689v4M309 711v1M309 754v1M309 762v1M309 785v1M309 819v1M309 828v3M309 838v7M309 851v8M309 864v1M309 869v143M310 829v1M310 837v3M310 843v1M310 852v1M310 857v1M310 870v13M310 886v1M310 890v6M310 899v18M310 920v93M311 838v1M311 876v3M311 903v11M311 922v10M311 935v82M312 922v3M312 928v1M312 938v1M312 943v78M313 923v1M313 947v1M313 951v4M313 958v64M314 952v1M314 958v63M315 958v61M316 959v3M316 966v53M317 960v2M317 967v52M318 960v2M318 970v50M319 960v4M319 972v1M319 976v46M320 961v4M320 977v46M321 963v1M321 977v46M322 978v45M323 979v44M324 979v45M325 979v45M326 978v46M327 977v47M328 966v1M328 978v1M328 982v41M329 965v3M329 982v41M330 966v1M330 982v40M331 966v1M331 982v40M332 966v1M332 975v1M332 982v40M333 965v3M333 974v3M333 980v41M334 965v4M334 974v47M335 947v1M335 963v6M335 974v47M336 946v3M336 962v59M337 947v5M337 963v59M338 950v3M338 964v58M339 950v2M339 964v59M340 932v1M340 950v1M340 964v59M341 931v3M341 949v2M341 956v4M341 964v59M342 931v3M342 948v3M342 955v67M343 885v3M343 891v2M343 901v2M343 914v3M343 921v13M343 940v1M343 949v2M343 954v66M344 770v1M344 774v1M344 787v10M344 800v1M344 816v7M344 826v3M344 842v4M344 849v6M344 860v3M344 866v3M344 873v1M344 877v2M344 884v26M344 913v32M344 949v7M344 959v61M345 716v9M345 729v3M345 736v1M345 741v1M345 745v3M345 751v2M345 756v1M345 760v1M345 764v1M345 769v7M345 780v1M345 784v18M345 810v1M345 815v17M345 835v2M345 841v15M345 859v87M345 949v7M345 959v60M346 675v1M346 685v1M346 691v1M346 695v2M346 713v53M346 769v34M346 809v147M346 959v49M347 660v2M347 673v7M347 684v14M347 701v1M347 706v1M347 712v69M347 784v218M348 635v1M348 647v4M348 659v4M348 667v1M348 672v9M348 684v25M348 712v69M348 784v218M349 634v6M349 646v6M349 658v11M349 672v16M349 691v90M349 784v171M349 958v29M349 990v12M350 631v10M350 645v42M350 691v263M350 961v24M350 991v7M350 1001v2M351 627v60M351 691v32M351 726v101M351 830v13M351 846v107M351 962v10M351 977v3M351 995v1M351 1001v3M352 626v61M352 691v31M352 726v33M352 762v64M352 830v12M352 846v73M352 922v31M352 962v10M352 977v3M352 1001v4M353 626v96M353 726v33M353 762v64M353 830v12M353 846v46M353 895v23M353 923v8M353 935v18M353 962v9M353 977v3M353 1000v6M354 626v96M354 725v34M354 762v64M354 830v12M354 845v47M354 898v20M354 923v7M354 935v19M354 961v7M354 978v2M354 1001v4M355 627v132M355 762v80M355 845v47M355 898v20M355 923v5M355 935v12M355 950v4M355 960v8M355 981v4M355 1003v1M356 628v1M356 632v161M356 796v37M356 836v57M356 898v21M356 922v6M356 934v13M356 951v5M356 959v9M356 974v1M356 981v5M356 1003v1M357 633v19M357 655v138M357 796v37M357 836v58M357 897v31M357 931v16M357 951v25M357 981v10M357 1003v1M358 634v18M358 655v138M358 796v16M358 815v18M358 836v57M358 897v51M358 951v41M358 1002v3M359 646v1M359 650v1M359 655v11M359 669v3M359 675v19M359 699v113M359 815v18M359 836v57M359 897v95M359 997v1M359 1003v2M360 656v3M360 662v3M360 670v1M360 678v8M360 691v3M360 700v93M360 796v16M360 815v78M360 896v103M360 1003v2M361 679v3M361 692v1M361 701v1M361 706v1M361 710v7M361 721v1M361 727v1M361 732v4M361 739v3M361 745v7M361 755v20M361 778v14M361 797v203M361 1003v3M362 713v3M362 740v1M362 750v1M362 756v2M362 761v13M362 778v6M362 787v4M362 800v3M362 806v8M362 819v32M362 855v150M363 762v1M363 779v2M363 801v1M363 807v6M363 820v3M363 826v25M363 856v11M363 871v134M364 829v21M364 857v2M364 862v4M364 872v133M365 844v3M365 863v1M365 884v1M365 888v4M365 896v1M365 902v37M365 942v64M366 845v1M366 906v1M366 920v1M366 935v3M366 943v63M367 948v3M367 959v51M368 949v1M368 961v2M368 967v47M369 970v50M370 974v47M371 976v1M371 986v36M372 989v34M373 994v29M374 996v27M375 997v28M376 997v29M377 997v29M378 998v28M379 999v27M380 999v27M381 1000v27M382 1000v28M383 1000v29M384 995v34M385 994v35M386 995v35M387 995v35M388 995v35M389 994v2M389 999v31M390 993v3M390 1004v26M391 994v1M391 1004v26M392 1004v26M393 1003v27M394 1001v29M395 1000v31M396 1001v31M397 1003v29M398 1003v3M398 1009v23M399 1003v3M399 1009v23M400 1004v1M400 1009v23M401 1008v24M402 1008v24M403 1008v24M404 1008v25M405 1008v25M406 1009v24M407 1010v23M408 1011v22M409 1012v20M410 1012v20M411 1012v20M412 1012v21M413 1011v22M414 1012v21M415 1014v20M416 1014v20M417 1015v19M418 1017v17M419 1017v17M420 1018v16M421 1018v16M422 1018v16M423 1016v18M424 1015v19M425 1016v18M426 1018v16M427 1018v16M428 1018v16M429 1019v15M430 1021v13M431 1022v12M432 1023v12M433 1023v12M434 1023v12M435 1023v12M436 1022v13M437 1022v13M438 1019v16M439 1018v17M440 1019v1M440 1023v12M441 1024v11M442 1024v11M443 1024v11M444 1023v12M445 1023v12M446 1023v12M447 1023v12M448 1022v13M449 1022v13M450 1023v12M451 1024v11M452 1025v10M453 1026v9M454 1026v9M455 1026v9M456 1026v9M457 1026v9M458 1026v9M459 1026v9M460 1026v9M461 1026v9M462 1027v8M463 1027v8M464 1027v8M465 1026v9M466 1026v9M467 1026v9M468 1026v9M469 1026v9M470 1025v10M471 1025v10M472 1025v10M473 1026v9M474 1027v8M475 1027v8M476 1027v8M477 1027v8M478 1027v8M479 1027v8M480 1027v8M481 1028v7M482 1028v7M483 1028v7M484 1027v8M485 1027v8M486 1027v8M487 1027v8M488 1027v8M489 1027v8M490 1027v8M491 1027v8M492 1027v8M493 1027v8M494 1026v9M495 1026v9M496 1026v9M497 1026v9M498 1026v9M499 1026v9M500 1027v8M501 1027v8M502 1027v8M503 1027v8M504 1027v8M505 1027v8M506 1027v8M507 1026v9M508 1026v9M509 1026v9M510 1026v9M511 1027v8M512 1027v8M513 1027v8M514 1027v8M515 1027v8M516 1027v8M517 1026v9M518 1026v9M519 1026v9M520 1026v9M521 1026v9M522 1026v9M523 1026v9M524 1026v9M525 1027v8M526 1027v8M527 1027v8M528 1028v7M529 1028v7M530 1028v7M531 1027v8M532 1027v8M533 1026v9M534 1027v8M535 1027v8M536 1027v8M537 1027v8M538 1027v8M539 1026v9M540 1026v9M541 1026v9M542 1026v9M543 1026v9M544 1026v9M545 1027v8M546 1027v8M547 1027v8M548 1026v9M549 1026v9M550 1026v9M551 1027v8M552 1027v8M553 1027v8M554 1027v8M555 1027v8M556 1027v8M557 1027v8M558 1027v8M559 1027v8M560 1027v8M561 1027v8M562 1027v8M563 1027v8M564 1026v9M565 1026v9M566 1027v8M567 1027v8M568 1027v8M569 1027v8M570 1028v7M571 1028v7M572 1028v7M573 1028v7M574 1028v7M575 1028v7M576 1027v8M577 1027v8M578 1027v8M579 1027v8M580 1027v8M581 1028v7M582 1028v7M583 1029v6M584 1029v6M585 1029v6M586 1028v7M587 1027v8M588 1027v8M589 1027v8M590 1027v8M591 1027v8M592 1027v8M593 1027v8M594 1026v9M595 1026v9M596 1026v9M597 1026v9M598 1027v8M599 1027v8M600 1027v8M601 1027v8M602 1027v8M603 1027v8M604 1027v8M605 1027v8M606 1027v8M607 1027v8M608 1027v8M609 1027v8M610 1027v8M611 1026v9M612 1026v9M613 1026v9M614 1027v8M615 1027v8M616 1027v8M617 1027v8M618 1027v8M619 1027v8M620 1027v8M621 1027v8M622 1027v8M623 1027v8M624 1027v8M625 1027v8M626 1027v8M627 1027v8M628 1028v7M629 1028v7M630 1028v7M631 1027v8M632 1027v8M633 1027v8M634 1027v8M635 1026v9M636 1026v9M637 1026v9M638 1026v9M639 1027v8M640 1027v8M641 1027v8M642 1027v8M643 1027v8M644 1027v8M645 1028v7M646 1028v7M647 1028v7M648 1028v7M649 1027v8M650 1027v8M651 1027v8M652 1026v9M653 1026v9M654 1026v9M655 1027v8M656 1027v8M657 1027v8M658 1027v8M659 1027v8M660 1027v8M661 1026v9M662 1026v9M663 1026v9M664 1026v9M665 1026v9M666 1026v9M667 1026v9M668 1027v8M669 1027v8M670 1027v8M671 1027v8M672 1027v8M673 1027v8M674 1027v8M675 1027v8M676 1026v9M677 1026v9M678 1027v8M679 1027v8M680 1027v8M681 1027v8M682 1027v8M683 1026v9M684 1026v9M685 1026v9M686 1027v8M687 1027v8M688 1027v8M689 1027v8M690 1027v8M691 1027v8M692 1026v9M693 1026v9M694 1026v9M695 1026v9M696 1026v9M697 1026v9M698 1026v9M699 1025v10M700 1024v11M701 1023v12M702 1022v13M703 1022v12M704 1022v12M705 1021v13M706 1022v12M707 1022v12M708 1022v12M709 1021v13M710 1021v13M711 1020v14M712 1020v14M713 1020v14M714 1020v14M715 1008v1M715 1014v20M716 998v4M716 1007v3M716 1013v21M717 997v36M718 997v12M718 1012v21M719 996v5M719 1004v3M719 1013v20M720 997v1M720 1005v1M720 1016v17M721 1019v15M722 1024v10M723 1024v10M724 1024v10M725 1024v10M726 1024v10M727 1024v11M728 1024v11M729 1024v11M730 1025v10M731 1025v10M732 1025v10M733 1025v10M734 1025v10M735 1024v11M736 1025v10M737 1025v10M738 1025v10M739 1025v10M740 1025v10M741 1025v10M742 1025v10M743 1025v10M744 1025v10M745 1025v10M746 1025v10M747 1025v10M748 1025v10M749 1025v10M750 1025v10M751 1025v10M752 1024v11M753 1023v11M754 1017v3M754 1023v11M755 1016v17M756 1016v17M757 1016v17M758 1016v17M759 1017v16M760 1017v16M761 1017v16M762 1003v1M762 1015v17M763 1002v3M763 1008v24M764 1002v29M765 989v1M765 999v32M766 988v3M766 995v36M767 989v1M767 994v36M768 989v1M768 995v35M769 989v1M769 997v33M770 989v1M770 997v33M771 988v3M771 997v33M772 988v3M772 997v33M773 969v1M773 988v42M774 956v1M774 968v3M774 987v42M775 955v3M775 968v3M775 975v2M775 982v46M776 955v3M776 968v60M777 941v1M777 955v3M777 963v64M778 891v1M778 895v1M778 899v1M778 904v5M778 916v3M778 940v5M778 949v1M778 954v69M779 890v30M779 928v1M779 935v87M780 890v32M780 927v94M781 890v12M781 905v1M781 912v3M781 920v3M781 928v93M782 891v1M782 895v1M782 900v1M782 921v1M782 930v13M782 946v75M783 931v1M783 939v4M783 946v76M784 939v4M784 946v77M785 939v84M786 939v85M787 939v84M788 935v13M788 951v72M789 934v6M789 943v4M789 952v70M790 935v1M790 943v4M790 952v70M791 943v4M791 952v69M792 943v6M792 952v67M793 942v77M794 898v1M794 941v78M795 897v3M795 916v1M795 928v1M795 938v80M796 897v3M796 915v3M796 925v7M796 937v81M797 897v2M797 913v5M797 922v95M798 897v2M798 909v108M799 896v3M799 908v109M800 840v1M800 875v1M800 889v1M800 895v6M800 905v112M801 817v1M801 839v3M801 874v3M801 888v3M801 894v122M802 805v1M802 816v3M802 839v2M802 873v4M802 885v130M803 793v1M803 804v3M803 817v2M803 837v4M803 872v5M803 884v131M804 792v3M804 805v2M804 817v2M804 836v5M804 866v1M804 871v9M804 884v131M805 641v9M805 654v7M805 664v4M805 675v4M805 692v1M805 701v1M805 705v4M805 733v1M805 747v3M805 764v1M805 792v3M805 805v2M805 817v3M805 836v5M805 850v2M805 862v153M806 629v3M806 636v34M806 673v10M806 689v5M806 700v10M806 715v1M806 719v1M806 727v1M806 732v3M806 739v1M806 746v5M806 758v1M806 763v6M806 777v1M806 782v1M806 787v8M806 805v2M806 811v1M806 816v5M806 836v6M806 848v8M806 861v33M806 897v84M806 984v38M807 628v66M807 699v24M807 726v3M807 732v3M807 738v15M807 757v3M807 763v7M807 776v19M807 802v20M807 835v2M807 840v3M807 847v10M807 861v33M807 897v83M807 984v39M808 628v66M808 698v30M808 732v3M808 738v16M808 757v38M808 801v16M808 820v1M808 834v3M808 841v2M808 847v10M808 861v33M808 897v19M808 921v22M808 948v32M808 984v15M808 1002v20M809 629v97M809 732v22M809 757v39M809 799v18M809 820v1M809 825v1M809 834v2M809 842v15M809 861v4M809 869v46M809 921v21M809 948v32M809 985v14M809 1002v20M810 630v79M810 712v14M810 731v60M810 794v7M810 805v12M810 820v1M810 824v3M810 833v3M810 842v23M810 869v41M810 921v21M810 948v33M810 987v12M810 1002v20M811 630v79M811 712v14M811 730v61M811 794v6M811 805v22M811 832v4M811 842v23M811 869v41M811 921v21M811 947v35M811 988v5M811 996v3M811 1002v20M812 630v79M812 712v58M812 773v18M812 794v6M812 805v17M812 825v12M812 842v53M812 898v3M812 908v2M812 922v1M812 926v16M812 946v18M812 967v15M812 991v1M812 998v25M813 630v140M813 773v26M813 803v18M813 826v12M813 842v6M813 851v22M813 876v18M813 908v3M813 926v9M813 939v3M813 946v4M813 953v11M813 967v14M813 998v12M813 1013v9M814 630v135M814 768v2M814 773v26M814 802v18M814 828v4M814 836v12M814 851v22M814 881v13M814 908v2M814 926v5M814 940v3M814 946v4M814 957v7M814 967v11M814 986v1M814 999v11M814 1013v8M815 630v96M815 730v32M815 768v30M815 803v17M815 836v12M815 851v16M815 871v2M815 882v1M815 886v8M815 907v2M815 924v7M815 940v10M815 958v8M815 969v9M815 985v3M815 1000v10M815 1013v2M815 1018v3M816 629v97M816 730v2M816 735v27M816 768v30M816 804v15M816 823v1M816 836v6M816 845v3M816 851v8M816 864v3M816 871v3M816 886v9M816 906v3M816 922v4M816 929v1M816 940v10M816 958v8M816 969v9M816 982v5M816 1000v4M816 1008v7M816 1018v3M817 629v97M817 730v2M817 735v27M817 769v29M817 805v13M817 822v3M817 834v8M817 845v4M817 852v7M817 865v2M817 871v4M817 887v9M817 907v1M817 917v9M817 929v1M817 939v11M817 958v7M817 969v9M817 981v3M817 1000v3M817 1011v3M817 1019v1M818 628v104M818 735v4M818 744v19M818 771v28M818 806v12M818 822v3M818 830v12M818 845v3M818 855v4M818 865v9M818 881v1M818 888v8M818 916v10M818 929v1M818 936v15M818 958v7M818 968v10M818 981v2M818 1000v3M818 1011v3M819 627v110M819 744v5M819 752v11M819 772v18M819 793v6M819 806v12M819 822v3M819 829v12M819 845v3M819 856v3M819 865v7M819 880v3M819 888v8M819 916v9M819 929v1M819 935v4M819 943v9M819 958v7M819 968v5M819 976v6M819 997v5M819 1011v3M820 627v110M820 744v5M820 752v11M820 773v17M820 793v7M820 806v12M820 822v16M820 846v2M820 857v1M820 865v4M820 880v4M820 888v3M820 894v1M820 913v2M820 920v1M820 928v3M820 935v4M820 943v30M820 979v3M820 996v3M820 1010v7M821 628v109M821 740v1M821 744v5M821 752v11M821 774v16M821 794v6M821 806v12M821 822v16M821 862v7M821 880v11M821 912v3M821 929v5M821 937v2M821 943v18M821 965v8M821 980v1M821 997v1M821 1009v9M822 629v134M822 774v17M822 795v4M822 806v24M822 835v3M822 861v8M822 880v10M822 912v3M822 931v3M822 937v19M822 959v1M822 966v7M822 1002v4M822 1009v9M823 630v134M823 774v17M823 795v3M823 803v11M823 817v11M823 835v3M823 841v2M823 862v7M823 877v6M823 886v2M823 912v3M823 919v1M823 932v2M823 937v17M823 966v6M823 1001v17M824 630v137M824 774v18M824 795v3M824 802v10M824 817v3M824 824v4M824 836v12M824 863v9M824 876v7M824 886v2M824 896v1M824 912v3M824 918v3M824 926v1M824 933v10M824 947v7M824 966v5M824 1000v18M825 631v137M825 772v6M825 782v16M825 803v8M825 817v3M825 826v2M825 831v1M825 836v12M825 863v10M825 876v7M825 886v2M825 895v4M825 913v7M825 925v3M825 933v6M825 949v4M825 967v4M825 996v1M825 1001v1M825 1005v12M826 632v136M826 771v5M826 782v17M826 804v7M826 817v3M826 826v7M826 836v6M826 846v1M826 863v10M826 876v12M826 894v9M826 908v1M826 914v6M826 926v2M826 933v6M826 969v2M826 995v3M826 1008v1M826 1012v4M827 632v136M827 771v5M827 782v17M827 805v5M827 826v7M827 837v3M827 851v1M827 862v8M827 873v6M827 882v5M827 891v13M827 907v3M827 915v5M827 926v4M827 933v6M827 969v3M827 995v3M827 1013v3M828 632v103M828 739v37M828 780v15M828 798v1M828 805v5M828 814v3M828 820v2M828 826v7M828 837v3M828 850v3M828 856v1M828 863v6M828 873v6M828 884v3M828 890v8M828 902v2M828 907v2M828 917v3M828 926v14M828 946v1M828 954v1M828 959v1M828 969v5M828 993v5M828 1004v1M828 1013v3M829 633v102M829 739v37M829 779v14M829 798v2M829 805v5M829 813v4M829 820v13M829 837v3M829 850v8M829 865v3M829 874v4M829 884v3M829 891v7M829 903v6M829 917v3M829 926v9M829 938v2M829 945v3M829 953v8M829 969v6M829 983v1M829 992v14M829 1013v3M830 633v102M830 739v37M830 779v14M830 798v6M830 807v25M830 837v3M830 850v8M830 865v3M830 875v3M830 884v3M830 893v5M830 903v6M830 917v5M830 927v1M830 932v3M830 938v3M830 945v10M830 958v3M830 968v7M830 981v4M830 992v2M830 997v8M830 1013v2M830 1019v1M831 633v160M831 798v6M831 807v13M831 824v7M831 837v3M831 850v9M831 865v3M831 875v3M831 884v3M831 894v4M831 903v6M831 917v6M831 933v2M831 938v3M831 945v7M831 958v6M831 967v8M831 979v9M831 992v2M831 1001v1M831 1012v3M831 1018v3M832 632v122M832 758v12M832 773v20M832 798v6M832 807v12M832 824v6M832 837v6M832 850v10M832 865v3M832 875v4M832 883v5M832 894v4M832 901v2M832 907v1M832 917v6M832 933v2M832 938v4M832 945v2M832 950v2M832 958v7M832 968v21M832 992v2M832 1013v2M832 1018v2M833 633v121M833 758v12M833 776v16M833 798v6M833 807v9M833 825v5M833 837v7M833 850v11M833 865v6M833 876v13M833 894v9M833 912v1M833 918v2M833 923v4M833 933v8M833 944v3M833 951v1M833 959v1M833 963v1M833 969v19M833 991v3M833 1005v3M833 1013v7M834 633v121M834 758v12M834 776v16M834 797v19M834 825v4M834 834v11M834 849v23M834 877v7M834 887v2M834 894v9M834 911v3M834 918v2M834 923v5M834 934v4M834 944v3M834 951v2M834 959v1M834 969v8M834 982v3M834 992v1M834 1004v5M834 1013v7M835 633v138M835 776v16M835 797v11M835 813v3M835 820v1M835 825v4M835 833v7M835 843v3M835 850v11M835 865v6M835 877v6M835 887v4M835 894v9M835 911v4M835 918v2M835 923v4M835 935v3M835 944v3M835 951v3M835 959v1M835 969v8M835 982v2M835 1005v15M836 633v137M836 775v17M836 796v11M836 813v9M836 826v3M836 832v8M836 843v2M836 850v8M836 865v6M836 877v6M836 887v17M836 911v14M836 935v2M836 942v11M836 959v1M836 968v8M836 982v2M836 1009v11M837 633v128M837 765v5M837 774v17M837 795v12M837 813v8M837 826v14M837 843v1M837 850v8M837 865v6M837 874v8M837 887v17M837 909v16M837 935v1M837 941v10M837 958v5M837 968v3M837 982v2M837 1009v12M838 633v112M838 749v12M838 765v5M838 774v5M838 782v7M838 796v11M838 813v7M838 826v18M838 850v8M838 864v16M838 887v2M838 893v32M838 934v2M838 941v10M838 957v7M838 967v4M838 981v3M838 991v2M838 999v1M838 1009v12M839 633v112M839 749v12M839 765v14M839 782v7M839 796v13M839 814v6M839 826v2M839 831v13M839 854v6M839 863v8M839 874v6M839 885v4M839 893v33M839 933v3M839 941v10M839 956v15M839 981v2M839 989v12M839 1006v15M840 633v112M840 749v12M840 765v14M840 782v7M840 796v14M840 815v5M840 823v5M840 831v13M840 848v2M840 855v15M840 877v3M840 884v5M840 894v32M840 930v21M840 954v20M840 980v3M840 988v13M840 1005v16M841 633v112M841 749v20M841 772v17M841 795v16M841 815v13M841 831v19M841 855v14M841 877v3M841 884v6M841 894v39M841 936v20M841 960v16M841 979v4M841 988v14M841 1005v18M842 633v112M842 748v21M842 772v10M842 786v3M842 792v20M842 815v19M842 837v14M842 855v14M842 877v14M842 894v39M842 936v20M842 960v25M842 988v36M843 633v101M843 737v8M843 748v8M843 759v10M843 772v10M843 787v47M843 837v8M843 848v3M843 855v14M843 875v58M843 936v20M843 960v64M844 633v100M844 738v18M844 759v5M844 767v1M844 772v9M844 788v1M844 792v16M844 811v23M844 837v8M844 848v23M844 874v29M844 906v27M844 936v82M844 1022v1M845 633v61M845 697v13M845 713v1M845 719v1M845 723v7M845 739v6M845 748v8M845 760v4M845 771v7M845 793v15M845 811v9M845 825v1M845 829v10M845 843v1M845 848v42M845 893v10M845 906v112M846 634v34M846 672v1M846 677v1M846 681v12M846 698v1M846 702v4M846 724v5M846 740v1M846 749v1M846 754v1M846 762v1M846 772v5M846 794v1M846 799v1M846 803v4M846 812v1M846 816v1M846 832v2M846 837v1M846 849v39M846 893v10M846 906v112M847 855v3M847 864v24M847 893v127M848 856v1M848 864v23M848 893v128M849 865v4M849 873v2M849 878v7M849 892v29M849 925v97M850 893v5M850 912v1M850 917v4M850 932v1M850 937v1M850 945v3M850 951v2M850 956v11M850 973v49M851 919v1M851 945v3M851 951v2M851 959v1M851 963v3M851 973v49M852 919v1M852 945v3M852 951v2M852 959v1M852 964v2M852 973v49M853 919v1M853 945v11M853 959v1M853 964v2M853 973v48M854 881v4M854 889v3M854 898v1M854 906v1M854 914v6M854 923v3M854 930v3M854 943v18M854 964v6M854 973v48M855 880v59M855 942v79M856 879v142M857 878v18M857 901v121M858 879v2M858 886v7M858 904v118M859 890v3M859 904v119M860 890v3M860 904v120M861 891v1M861 903v120M862 735v1M862 741v1M862 903v12M862 920v16M862 940v83M863 732v5M863 740v6M863 875v3M863 900v14M863 920v14M863 940v83M864 731v16M864 874v5M864 885v6M864 899v15M864 920v14M864 940v82M865 732v10M865 745v1M865 874v5M865 882v10M865 898v3M865 904v10M865 920v14M865 937v84M866 735v6M866 874v27M866 904v117M867 874v27M867 904v117M868 875v25M868 903v119M869 878v1M869 884v5M869 894v4M869 904v2M869 912v1M869 916v7M869 926v8M869 937v8M869 950v3M869 956v67M870 927v1M870 932v2M870 937v8M870 950v3M870 956v67M871 927v1M871 932v2M871 937v8M871 950v3M871 956v67M872 927v1M872 932v91M873 882v1M873 926v96M874 867v5M874 875v1M874 879v5M874 888v4M874 895v4M874 904v12M874 919v103M875 866v156M876 866v10M876 879v1M876 883v139M877 867v7M877 884v8M877 896v127M878 870v1M878 884v6M878 897v126M879 885v5M879 900v123M880 887v2M880 901v1M880 905v3M880 913v6M880 922v2M880 930v93M881 901v1M881 905v3M881 922v2M881 934v1M881 942v81M882 901v1M882 906v1M882 922v2M882 934v1M882 944v79M883 900v3M883 922v3M883 934v1M883 944v80M884 900v3M884 922v3M884 934v1M884 938v1M884 944v81M885 877v4M885 884v5M885 892v1M885 899v5M885 910v1M885 916v11M885 933v91M886 876v18M886 898v30M886 933v88M887 877v17M887 898v30M887 932v88M888 879v18M888 903v37M888 943v77M889 883v3M889 894v3M889 906v1M889 913v3M889 923v10M889 937v3M889 943v77M890 884v1M890 895v1M890 913v3M890 924v1M890 928v4M890 937v3M890 944v78M891 913v2M891 938v1M891 944v79M892 910v2M892 944v8M892 955v68M893 907v5M893 943v9M893 955v67M894 889v1M894 906v6M894 941v11M894 956v64M895 888v3M895 895v1M895 906v6M895 917v4M895 924v6M895 935v1M895 939v13M895 956v64M896 884v15M896 902v10M896 915v38M896 956v64M897 883v24M897 910v110M898 884v22M898 912v108M899 885v15M899 903v2M899 912v5M899 921v5M899 929v11M899 943v78M900 898v1M900 904v1M900 913v1M900 921v5M900 937v3M900 943v78M901 898v1M901 904v1M901 921v4M901 938v1M901 943v77M902 898v1M902 904v1M902 921v4M902 944v76M903 898v1M903 903v3M903 921v4M903 934v1M903 944v76M904 897v3M904 904v2M904 921v4M904 933v3M904 944v76M905 884v1M905 897v3M905 906v3M905 917v8M905 933v3M905 943v77M906 876v4M906 883v3M906 892v8M906 906v4M906 914v107M907 864v6M907 874v13M907 890v11M907 906v115M908 863v38M908 907v28M908 938v83M909 864v6M909 874v1M909 878v3M909 886v5M909 895v5M909 910v4M909 919v15M909 940v82M910 879v1M910 887v1M910 920v3M910 928v6M910 942v80M911 920v3M911 929v5M911 942v80M912 921v2M912 929v8M912 942v3M912 948v75M913 924v2M913 929v9M913 943v2M913 951v73M914 900v5M914 924v13M914 943v2M914 951v73M915 899v7M915 924v12M915 943v3M915 951v74M916 899v7M916 919v1M916 924v12M916 943v3M916 952v74M917 840v3M917 846v4M917 858v5M917 877v2M917 884v1M917 889v1M917 897v11M917 913v23M917 939v1M917 943v4M917 952v73M918 837v14M918 855v9M918 876v15M918 896v52M918 952v72M919 836v7M919 846v19M919 876v15M919 897v50M919 952v71M920 837v1M920 849v15M920 876v14M920 897v3M920 903v8M920 915v4M920 922v10M920 936v11M920 953v68M921 772v1M921 850v3M921 876v4M921 883v5M921 897v3M921 903v7M921 917v1M921 924v8M921 936v3M921 946v1M921 954v66M922 771v3M922 850v3M922 875v5M922 883v5M922 897v3M922 903v7M922 924v8M922 936v3M922 946v4M922 954v65M923 772v1M923 851v1M923 876v4M923 884v3M923 898v2M923 904v6M923 925v8M923 937v2M923 946v5M923 954v65M924 772v1M924 878v1M924 884v1M924 898v2M924 908v1M924 926v7M924 937v3M924 946v73M925 772v1M925 788v1M925 884v1M925 898v3M925 927v1M925 932v1M925 937v4M925 944v75M926 772v1M926 776v1M926 780v1M926 787v5M926 795v4M926 884v1M926 893v8M926 932v88M927 771v11M927 786v15M927 804v2M927 882v4M927 891v12M927 932v13M927 948v72M928 772v1M928 776v12M928 791v1M928 795v12M928 881v4M928 890v14M928 932v7M928 942v3M928 949v72M929 779v6M929 800v1M929 804v2M929 882v2M929 891v1M929 898v6M929 912v1M929 931v4M929 943v1M929 949v72M930 780v4M930 899v1M930 911v3M930 932v1M930 949v72M931 911v3M931 948v74M932 911v6M932 920v1M932 947v76M933 911v11M933 947v77M934 911v11M934 932v4M934 947v76M935 874v2M935 912v13M935 931v9M935 944v79M936 874v3M936 914v1M936 918v8M936 931v92M937 875v2M937 914v1M937 918v9M937 931v92M938 845v1M938 875v2M938 889v1M938 900v6M938 914v1M938 918v10M938 931v93M939 844v3M939 857v1M939 868v1M939 875v3M939 881v4M939 888v5M939 899v9M939 912v111M940 835v3M940 844v3M940 856v3M940 865v29M940 898v125M941 834v5M941 843v4M941 857v36M941 897v11M941 911v112M942 835v3M942 844v4M942 860v32M942 896v7M942 906v1M942 912v111M943 835v2M943 846v1M943 860v3M943 867v3M943 883v1M943 890v2M943 897v1M943 912v111M944 835v2M944 846v1M944 860v3M944 867v3M944 890v2M944 912v111M945 785v1M945 806v4M945 827v1M945 831v1M945 835v2M945 846v1M945 856v7M945 867v3M945 890v3M945 905v1M945 912v111M946 784v3M946 797v5M946 805v6M946 826v11M946 846v1M946 855v9M946 868v3M946 878v1M946 889v5M946 904v21M946 928v94M947 783v5M947 796v14M947 826v10M947 845v3M947 855v4M947 862v2M947 868v2M947 877v3M947 888v7M947 904v8M947 916v9M947 928v94M948 783v5M948 796v14M948 826v2M948 831v5M948 845v3M948 855v4M948 862v2M948 868v2M948 878v2M948 888v7M948 904v8M948 916v9M948 928v94M949 783v6M949 792v1M949 796v14M949 820v1M949 824v4M949 831v5M949 842v8M949 854v5M949 862v8M949 878v22M949 903v9M949 916v107M950 783v27M950 819v9M950 831v6M950 842v29M950 878v35M950 916v107M951 782v15M951 800v9M951 820v1M951 824v5M951 832v5M951 843v29M951 878v35M951 916v108M952 783v1M952 787v4M952 794v1M952 801v6M952 827v1M952 835v1M952 845v1M952 849v18M952 870v1M952 878v13M952 894v131M953 856v10M953 878v13M953 894v131M954 860v3M954 878v12M954 894v132M955 861v1M955 879v6M955 888v1M955 895v12M955 910v117M956 895v6M956 910v3M956 917v22M956 942v86M957 895v6M957 910v3M957 917v14M957 934v5M957 942v85M958 894v7M958 909v4M958 917v14M958 934v5M958 942v84M959 890v1M959 894v9M959 909v5M959 917v14M959 934v91M960 878v1M960 882v1M960 889v15M960 909v115M961 877v9M961 889v135M962 876v147M963 877v146M964 879v4M964 886v12M964 901v3M964 908v115M965 887v11M965 902v1M965 908v115M966 890v1M966 896v2M966 908v117M967 897v2M967 909v7M967 919v107M968 897v3M968 909v7M968 919v107M969 897v3M969 904v1M969 909v7M969 919v106M970 896v128M971 895v129M972 895v129M973 896v128M974 896v128M975 886v1M975 896v6M975 908v7M975 918v5M975 931v94M976 885v3M976 896v3M976 908v7M976 918v5M976 931v94M977 885v4M977 897v1M977 908v7M977 918v5M977 931v93M978 884v6M978 909v6M978 918v9M978 930v93M979 885v5M979 913v1M979 918v105M980 888v2M980 919v104M981 888v2M981 919v1M981 926v98M982 888v3M982 919v1M982 928v95M983 888v3M983 919v1M983 928v95M984 801v1M984 811v1M984 837v3M984 844v5M984 859v1M984 863v2M984 868v1M984 873v4M984 883v8M984 897v1M984 913v1M984 918v3M984 928v94M985 800v3M985 806v8M985 836v14M985 853v25M985 882v11M985 896v3M985 910v5M985 919v103M986 801v14M986 835v5M986 844v35M986 882v17M986 902v1M986 909v6M986 919v103M987 801v8M987 813v1M987 835v3M987 845v5M987 853v9M987 866v39M987 908v7M987 919v104M988 801v7M988 845v5M988 853v9M988 866v158M989 801v7M989 841v1M989 845v4M989 853v9M989 866v158M990 801v6M990 840v7M990 853v10M990 867v36M990 906v13M990 923v101M991 802v1M991 841v1M991 845v1M991 852v10M991 874v5M991 886v11M991 908v8M991 923v101M992 853v1M992 857v3M992 876v3M992 887v3M992 893v1M992 912v4M992 924v99M993 877v1M993 913v3M993 928v6M993 937v84M994 913v3M994 929v5M994 937v84M995 914v1M995 932v2M995 937v5M995 945v76M996 932v10M996 946v75M997 923v1M997 932v6M997 941v1M997 946v77M998 922v3M998 932v6M998 941v2M998 946v78M999 914v2M999 923v2M999 932v6M999 941v8M999 952v73M1000 913v4M1000 923v2M1000 929v14M1000 946v3M1000 952v74M1001 914v3M1001 923v18M1001 946v3M1001 952v74M1002 914v3M1002 923v18M1002 947v78M1003 915v3M1003 923v3M1003 930v11M1003 947v78M1004 916v3M1004 923v3M1004 930v11M1004 947v78M1005 906v6M1005 917v9M1005 930v94M1006 905v8M1006 917v106M1007 906v7M1007 917v106M1008 907v116M1009 914v3M1009 932v3M1009 939v6M1009 954v70M1010 915v1M1010 933v1M1010 942v3M1010 955v8M1010 966v59M1011 942v3M1011 958v3M1011 968v58M1012 943v1M1012 959v1M1012 969v57M1013 969v57M1014 969v3M1014 975v51M1015 938v1M1015 969v3M1015 976v1M1015 980v46M1016 937v3M1016 956v1M1016 969v3M1016 976v1M1016 980v46M1017 937v6M1017 951v7M1017 969v3M1017 976v1M1017 980v46M1018 927v4M1018 934v93M1019 926v101M1020 927v101M1021 930v4M1021 939v3M1021 945v82M1022 941v1M1022 965v62M1023 941v1M1023 966v60M1024 941v1M1024 966v59M1025 940v3M1025 951v3M1025 966v59M1026 941v1M1026 950v5M1026 961v2M1026 966v59M1027 950v5M1027 960v65M1028 950v5M1028 960v66M1029 950v6M1029 959v67M1030 933v6M1030 947v80M1031 895v1M1031 907v1M1031 930v97M1032 894v9M1032 906v3M1032 929v99M1033 895v17M1033 929v98M1034 899v4M1034 907v6M1034 928v99M1035 911v1M1035 929v8M1035 940v87M1036 929v8M1036 941v87M1037 929v8M1037 942v86M1038 928v10M1038 946v1M1038 950v78M1039 927v6M1039 936v1M1039 952v77M1040 928v1M1040 952v78M1041 943v1M1041 953v76M1042 941v4M1042 953v74M1043 841v1M1043 891v1M1043 930v1M1043 940v5M1043 949v1M1043 953v74M1044 840v3M1044 890v3M1044 896v1M1044 929v4M1044 938v88M1045 841v1M1045 890v2M1045 895v3M1045 929v97M1046 841v1M1046 890v2M1046 895v8M1046 928v98M1047 841v1M1047 865v1M1047 869v1M1047 879v1M1047 890v2M1047 895v16M1047 916v1M1047 924v102M1048 836v1M1048 840v2M1048 851v3M1048 862v9M1048 877v6M1048 887v25M1048 915v111M1049 828v3M1049 834v13M1049 850v5M1049 859v166M1050 827v27M1050 858v167M1051 828v3M1051 834v2M1051 839v1M1051 843v4M1051 851v1M1051 858v10M1051 871v21M1051 896v12M1051 913v3M1051 919v105M1052 859v7M1052 874v1M1052 884v1M1052 900v4M1052 914v1M1052 919v10M1052 933v91M1053 919v10M1053 934v90M1054 920v9M1054 937v1M1054 944v80M1055 924v5M1055 944v7M1055 956v1M1055 961v64M1056 927v3M1056 945v5M1056 961v65M1057 928v3M1057 948v1M1057 961v66M1058 929v1M1058 961v66M1059 960v5M1059 968v59M1060 961v4M1060 969v58M1061 962v3M1061 970v57M1062 963v2M1062 970v57M1063 911v1M1063 917v1M1063 922v1M1063 926v1M1063 963v3M1063 970v58M1064 910v21M1064 963v4M1064 970v58M1065 898v7M1065 908v25M1065 963v4M1065 970v58M1066 897v23M1066 925v9M1066 963v65M1067 898v11M1067 913v1M1067 918v1M1067 928v6M1067 939v1M1067 944v14M1067 962v65M1068 905v1M1068 928v99M1069 929v98M1070 933v6M1070 943v84M1071 946v1M1071 950v1M1071 958v3M1071 968v59M1072 958v3M1072 968v59M1073 958v3M1073 968v59M1074 957v71M1075 914v1M1075 957v70M1076 913v3M1076 957v70M1077 913v3M1077 925v1M1077 929v4M1077 937v9M1077 949v1M1077 954v73M1078 909v9M1078 922v105M1079 908v119M1080 909v4M1080 916v19M1080 939v17M1080 959v68M1081 919v14M1081 940v3M1081 952v3M1081 965v62M1082 920v1M1082 924v1M1082 952v3M1082 965v63M1083 953v1M1083 965v63M1084 964v2M1084 969v60M1085 963v3M1085 969v59M1086 938v4M1086 961v5M1086 969v58M1087 937v17M1087 957v70M1088 937v90M1089 937v90M1090 937v90M1091 937v91M1092 936v92M1093 936v92M1094 937v91M1095 938v1M1095 961v66M1096 961v66M1097 961v65M1098 960v66M1099 960v66M1100 961v66M1101 965v63M1102 966v62M1103 960v1M1103 967v62M1104 959v3M1104 967v62M1105 959v3M1105 967v62M1106 958v4M1106 967v62M1107 957v5M1107 967v62M1108 951v77M1109 950v77M1110 949v77M1111 949v77M1112 950v76M1113 952v74M1114 952v75M1115 952v74M1116 948v77M1117 947v9M1117 959v66M1118 948v4M1118 959v66M1119 959v67M1120 959v68M1121 958v70M1122 958v70M1123 957v71M1124 958v6M1124 967v62M1125 960v3M1125 967v62M1126 960v3M1126 967v62M1127 960v3M1127 968v61M1128 959v3M1128 973v56M1129 958v3M1129 973v56M1130 959v1M1130 973v56M1131 974v1M1131 978v52M1132 978v52M1133 978v52M1134 978v51M1135 976v53M1136 975v53M1137 976v52M1138 978v50M1139 978v50M1140 978v50M1141 977v52M1142 977v53M1143 978v51M1144 972v2M1144 978v51M1145 971v4M1145 978v51M1146 971v4M1146 978v51M1147 970v59M1148 969v60M1149 970v59M1150 973v1M1150 979v50M1151 980v48M1152 980v48M1153 980v48M1154 980v49M1155 981v48M1156 981v48M1157 972v1M1157 981v48M1158 971v57M1159 972v56M1160 976v52M1161 977v51M1162 961v1M1162 977v52M1163 960v3M1163 977v51M1164 960v2M1164 976v52M1165 960v2M1165 974v54M1166 960v2M1166 974v54M1167 959v3M1167 974v54M1168 958v4M1168 972v56M1169 920v1M1169 934v1M1169 938v5M1169 950v1M1169 957v5M1169 971v57M1170 917v37M1170 957v72M1171 916v112M1172 917v110M1173 919v1M1173 925v6M1173 934v10M1173 951v4M1173 960v10M1173 973v54M1174 940v3M1174 953v1M1174 960v3M1174 973v54M1175 940v3M1175 953v1M1175 960v3M1175 973v54M1176 940v3M1176 953v1M1176 960v3M1176 973v54M1177 941v1M1177 952v3M1177 960v3M1177 973v55M1178 953v1M1178 960v3M1178 970v58M1179 960v3M1179 969v59M1180 958v5M1180 967v61M1181 955v74M1182 952v77M1183 950v79M1184 949v80M1185 943v2M1185 948v3M1185 954v1M1185 958v71M1186 942v8M1186 958v71M1187 942v3M1187 948v1M1187 958v1M1187 962v68M1188 957v2M1188 964v65M1189 956v3M1189 965v62M1190 957v3M1190 965v62M1191 958v3M1191 965v62M1192 959v3M1192 965v62M1193 960v68M1194 961v66M1195 961v66M1196 961v66M1197 960v68M1198 951v5M1198 960v67M1199 948v79M1200 947v79M1201 919v1M1201 931v1M1201 948v2M1201 954v72M1202 918v3M1202 930v3M1202 939v1M1202 948v2M1202 954v72M1203 918v3M1203 930v3M1203 937v5M1203 948v2M1203 954v72M1204 907v1M1204 918v3M1204 930v3M1204 936v7M1204 948v78M1205 906v3M1205 917v4M1205 924v3M1205 930v13M1205 947v80M1206 902v1M1206 906v3M1206 916v110M1207 901v12M1207 916v110M1208 902v124M1209 903v124M1210 904v1M1210 909v5M1210 919v1M1210 926v1M1210 931v97M1211 909v5M1211 933v95M1212 888v1M1212 910v4M1212 933v95M1213 887v3M1213 911v4M1213 933v95M1214 888v2M1214 911v3M1214 932v96M1215 889v2M1215 912v1M1215 933v96M1216 889v3M1216 897v6M1216 906v1M1216 933v96M1217 890v18M1217 934v3M1217 941v88M1218 892v11M1218 906v4M1218 942v7M1218 952v77M1219 892v6M1219 901v1M1219 908v3M1219 945v1M1219 953v3M1219 959v70M1220 893v1M1220 909v1M1220 953v3M1220 959v69M1221 929v1M1221 953v3M1221 959v65M1222 928v3M1222 952v72M1223 913v1M1223 928v3M1223 938v1M1223 945v3M1223 951v73M1224 912v3M1224 928v5M1224 937v4M1224 944v80M1225 912v2M1225 926v8M1225 937v87M1226 912v2M1226 925v9M1226 940v84M1227 884v1M1227 911v3M1227 926v11M1227 943v82M1228 872v1M1228 883v3M1228 890v1M1228 903v1M1228 911v4M1228 927v3M1228 933v4M1228 944v81M1229 866v8M1229 879v7M1229 889v3M1229 902v3M1229 908v8M1229 927v3M1229 934v2M1229 944v81M1230 865v9M1230 878v14M1230 902v15M1230 927v3M1230 935v1M1230 944v82M1231 861v1M1231 865v27M1231 902v15M1231 927v3M1231 935v1M1231 939v1M1231 944v81M1232 860v34M1232 901v29M1232 935v6M1232 944v81M1233 856v28M1233 887v44M1233 934v91M1234 855v28M1234 888v138M1235 856v4M1235 864v4M1235 873v2M1235 878v1M1235 890v20M1235 914v6M1235 924v102M1236 864v3M1236 874v1M1236 890v2M1236 901v4M1236 908v2M1236 914v6M1236 924v104M1237 864v3M1237 874v1M1237 883v1M1237 890v2M1237 901v3M1237 908v2M1237 914v6M1237 924v105M1238 864v3M1238 870v1M1238 874v2M1238 880v12M1238 901v3M1238 908v121M1239 863v3M1239 869v23M1239 896v1M1239 901v3M1239 908v121M1240 862v3M1240 870v7M1240 880v1M1240 886v12M1240 901v128M1241 863v1M1241 872v5M1241 887v3M1241 893v4M1241 900v8M1241 911v5M1241 925v103M1242 874v3M1242 894v3M1242 901v6M1242 913v3M1242 927v101M1243 874v6M1243 895v2M1243 901v6M1243 914v1M1243 927v101M1244 874v7M1244 895v2M1244 901v6M1244 923v1M1244 927v101M1245 873v8M1245 895v12M1245 918v109M1246 873v8M1246 891v11M1246 905v3M1246 917v107M1247 874v6M1247 890v5M1247 899v3M1247 906v1M1247 918v106M1248 891v4M1248 900v1M1248 922v102M1249 891v4M1249 922v103M1250 891v5M1250 923v103M1251 891v4M1251 924v19M1251 946v81M1252 891v2M1252 925v7M1252 935v3M1252 946v80M1253 875v1M1253 885v1M1253 909v1M1253 916v1M1253 926v6M1253 935v2M1253 946v80M1254 872v5M1254 884v7M1254 898v1M1254 904v7M1254 914v4M1254 926v3M1254 935v2M1254 946v80M1255 871v5M1255 884v7M1255 897v3M1255 903v18M1255 926v3M1255 932v5M1255 946v80M1256 872v3M1256 884v45M1256 932v9M1256 946v80M1257 824v1M1257 840v1M1257 872v2M1257 884v142M1258 823v3M1258 830v1M1258 834v1M1258 839v4M1258 846v1M1258 872v2M1258 882v143M1259 820v28M1259 865v9M1259 881v12M1259 896v129M1260 819v7M1260 830v13M1260 846v1M1260 864v9M1260 882v5M1260 891v1M1260 897v3M1260 904v121M1261 820v1M1261 824v1M1261 831v1M1261 835v5M1261 865v5M1261 885v1M1261 897v3M1261 905v1M1261 910v5M1261 918v107M1262 897v3M1262 911v1M1262 919v14M1262 940v86M1263 898v1M1263 911v1M1263 919v2M1263 925v8M1263 940v87M1264 911v1M1264 919v2M1264 927v6M1264 940v86M1265 911v1M1265 918v3M1265 927v6M1265 940v85M1266 910v3M1266 918v3M1266 927v6M1266 940v85M1267 911v1M1267 916v2M1267 926v98M1268 915v3M1268 921v103M1269 915v3M1269 921v102M1270 866v1M1270 886v2M1270 894v1M1270 904v2M1270 914v4M1270 921v101M1271 865v7M1271 875v1M1271 879v32M1271 914v18M1271 935v87M1272 866v66M1272 935v87M1273 870v2M1273 875v9M1273 887v4M1273 894v11M1273 908v8M1273 920v12M1273 935v12M1273 950v73M1274 879v4M1274 903v1M1274 910v5M1274 921v1M1274 926v1M1274 930v1M1274 934v3M1274 942v5M1274 950v3M1274 963v60M1275 926v1M1275 935v1M1275 943v4M1275 950v3M1275 963v1M1275 968v56M1276 926v1M1276 943v3M1276 950v3M1276 963v1M1276 968v57M1277 925v3M1277 944v1M1277 951v1M1277 956v4M1277 963v1M1277 968v57M1278 926v1M1278 955v70M1279 956v70M1280 960v66M1281 960v66M1282 960v2M1282 965v61M1283 959v3M1283 965v61M1284 960v1M1284 965v6M1284 975v51M1285 966v3M1285 976v51M1286 966v3M1286 977v49M1287 966v3M1287 977v47M1288 965v5M1288 977v47M1289 949v1M1289 965v6M1289 974v50M1290 948v3M1290 965v59M1291 949v3M1291 965v60M1292 950v2M1292 962v63M1293 951v1M1293 956v1M1293 961v63M1294 951v7M1294 962v62M1295 951v7M1295 962v62M1296 951v7M1296 962v62M1297 951v73M1298 939v1M1298 945v1M1298 949v76M1299 938v3M1299 944v76M1299 1023v1M1300 938v82M1301 918v1M1301 938v82M1302 915v5M1302 934v1M1302 938v83M1303 897v13M1303 913v12M1303 928v93M1304 896v125M1305 823v1M1305 895v126M1306 818v7M1306 894v6M1306 904v3M1306 911v3M1306 918v103M1307 817v7M1307 895v1M1307 904v3M1307 911v3M1307 918v104M1308 818v4M1308 904v3M1308 911v3M1308 919v102M1309 818v4M1309 905v1M1309 912v1M1309 921v1M1309 926v1M1309 931v89M1310 818v4M1310 932v88M1311 817v6M1311 935v85M1312 816v6M1312 935v84M1313 817v1M1313 901v1M1313 935v84M1314 899v4M1314 918v2M1314 932v87M1315 897v6M1315 913v11M1315 928v90M1316 895v123M1317 894v124M1318 895v123M1319 903v1M1319 908v3M1319 918v5M1319 927v92M1320 903v1M1320 908v3M1320 919v4M1320 927v92M1321 903v1M1321 909v1M1321 919v4M1321 927v93M1322 902v3M1322 919v4M1322 926v4M1322 933v88M1323 903v1M1323 919v10M1323 933v87M1324 920v9M1324 933v86M1325 923v6M1325 934v84M1326 909v1M1326 923v6M1326 934v83M1327 791v1M1327 880v1M1327 908v5M1327 923v8M1327 934v82M1328 790v3M1328 873v3M1328 879v3M1328 907v7M1328 919v96M1329 785v10M1329 802v1M1329 872v9M1329 900v1M1329 906v8M1329 918v96M1330 784v6M1330 793v11M1330 873v7M1330 899v3M1330 907v7M1330 918v96M1331 785v4M1331 794v9M1331 876v4M1331 900v1M1331 909v5M1331 918v96M1332 798v4M1332 876v4M1332 900v1M1332 909v4M1332 917v6M1332 927v87M1333 800v2M1333 876v5M1333 900v1M1333 909v3M1333 918v4M1333 928v90M1334 800v2M1334 875v8M1334 897v5M1334 910v1M1334 920v2M1334 928v91M1335 800v3M1335 873v4M1335 880v7M1335 896v5M1335 920v2M1335 928v93M1336 801v1M1336 872v3M1336 882v6M1336 896v3M1336 920v3M1336 928v94M1337 873v1M1337 886v4M1337 896v3M1337 921v2M1337 926v95M1338 867v1M1338 886v5M1338 896v3M1338 921v98M1339 866v3M1339 886v5M1339 896v3M1339 916v1M1339 921v98M1340 867v1M1340 884v7M1340 894v12M1340 914v105M1341 867v1M1341 880v139M1342 867v1M1342 878v119M1342 1003v8M1342 1014v4M1343 855v3M1343 867v1M1343 873v117M1344 848v1M1344 854v15M1344 872v118M1345 847v3M1345 854v136M1346 843v148M1347 830v160M1348 817v2M1348 823v1M1348 827v159M1349 811v2M1349 816v170M1350 810v176M1351 810v5M1351 819v1M1351 823v166M1352 683v1M1352 688v2M1352 698v1M1352 778v1M1352 783v1M1352 810v5M1352 823v169M1353 682v9M1353 697v3M1353 706v1M1353 710v1M1353 714v3M1353 763v1M1353 768v1M1353 777v8M1353 795v1M1353 800v15M1353 823v170M1354 681v3M1354 688v11M1354 705v13M1354 761v9M1354 774v11M1354 794v22M1354 820v172M1355 681v3M1355 688v10M1355 706v15M1355 760v26M1355 793v185M1355 983v6M1356 682v1M1356 688v9M1356 709v12M1356 761v189M1356 953v25M1356 984v3M1357 689v3M1357 695v1M1357 710v1M1357 714v1M1357 719v1M1357 762v4M1357 769v6M1357 778v166M1357 947v3M1357 953v3M1357 961v17M1357 984v3M1358 763v1M1358 773v1M1358 780v1M1358 786v4M1358 794v150M1358 947v3M1358 953v3M1358 961v15M1358 979v2M1358 984v3M1359 795v149M1359 948v1M1359 953v3M1359 962v13M1359 979v3M1359 985v3M1360 795v3M1360 801v143M1360 953v2M1360 962v3M1360 972v2M1360 980v2M1360 986v1M1361 790v1M1361 795v3M1361 802v71M1361 877v68M1361 953v2M1361 962v3M1361 980v2M1362 789v8M1362 802v71M1362 877v69M1362 951v4M1362 959v6M1362 980v3M1363 790v5M1363 802v5M1363 810v63M1363 877v69M1363 950v21M1363 974v11M1364 793v2M1364 802v2M1364 812v123M1364 938v48M1365 793v2M1365 802v2M1365 812v2M1365 817v118M1365 938v47M1366 793v11M1366 807v1M1366 812v2M1366 817v118M1366 938v41M1367 793v21M1367 817v118M1367 938v33M1367 975v2M1368 792v178M1369 792v178M1370 791v113M1370 907v63M1370 973v2M1370 979v1M1371 790v3M1371 796v108M1371 907v81M1372 790v3M1372 796v108M1372 907v84M1373 774v1M1373 790v3M1373 796v196M1374 754v1M1374 759v1M1374 765v1M1374 773v3M1374 783v4M1374 790v196M1374 989v2M1375 753v8M1375 764v3M1375 772v4M1375 782v66M1375 851v133M1376 753v14M1376 770v7M1376 781v67M1376 851v106M1376 960v6M1376 970v13M1377 747v1M1377 751v97M1377 851v105M1377 961v1M1377 971v3M1377 977v3M1378 746v7M1378 756v4M1378 763v191M1378 972v1M1378 977v2M1379 747v1M1379 751v1M1379 763v190M1379 977v1M1380 764v1M1380 769v184M1380 960v1M1380 976v2M1381 769v184M1381 957v5M1381 965v1M1381 970v1M1381 975v3M1381 981v5M1382 770v4M1382 778v5M1382 787v3M1382 793v5M1382 802v170M1382 975v12M1383 772v1M1383 779v3M1383 787v2M1383 795v3M1383 803v169M1383 975v12M1384 772v1M1384 796v1M1384 803v3M1384 809v178M1385 772v1M1385 785v2M1385 796v1M1385 803v2M1385 809v180M1386 762v1M1386 767v1M1386 772v1M1386 784v3M1386 790v1M1386 796v1M1386 803v2M1386 809v42M1386 854v136M1387 761v20M1387 784v8M1387 795v2M1387 802v3M1387 808v43M1387 854v135M1388 761v37M1388 802v49M1388 854v127M1388 985v1M1389 733v1M1389 741v1M1389 752v1M1389 759v39M1389 802v177M1390 728v7M1390 738v5M1390 746v1M1390 751v227M1391 727v250M1392 728v37M1392 768v173M1392 944v9M1392 956v15M1393 728v3M1393 734v31M1393 768v149M1393 921v19M1393 946v7M1393 960v5M1393 969v1M1394 728v3M1394 735v30M1394 768v113M1394 885v30M1394 924v4M1394 935v1M1394 951v1M1394 961v3M1395 728v3M1395 735v146M1395 885v4M1395 892v22M1395 924v3M1396 727v5M1396 735v146M1396 885v4M1396 892v11M1396 906v1M1396 912v2M1396 924v3M1397 717v1M1397 721v1M1397 727v5M1397 735v147M1397 885v4M1397 892v11M1397 906v1M1397 912v2M1397 917v2M1397 924v3M1398 716v7M1398 727v1M1398 731v172M1398 906v1M1398 912v8M1398 925v1M1399 715v13M1399 731v163M1399 898v9M1399 913v6M1400 714v14M1400 731v154M1400 888v6M1400 899v9M1400 913v5M1401 714v13M1401 731v138M1401 872v12M1401 888v5M1401 899v8M1401 913v5M1402 714v11M1402 731v138M1402 873v11M1402 888v5M1402 900v7M1402 912v6M1402 921v1M1402 928v3M1403 709v16M1403 731v138M1403 873v11M1403 887v6M1403 903v4M1403 911v12M1403 927v5M1404 701v1M1404 709v16M1404 732v137M1404 873v21M1404 904v34M1404 942v4M1405 697v7M1405 707v17M1405 732v164M1405 904v14M1405 922v25M1406 696v18M1406 717v7M1406 732v169M1406 904v14M1406 922v3M1406 930v8M1406 942v4M1407 681v1M1407 696v18M1407 717v7M1407 727v1M1407 731v187M1407 922v2M1408 680v6M1408 691v2M1408 696v18M1408 717v200M1408 921v3M1409 648v4M1409 680v7M1409 690v24M1409 717v137M1409 858v12M1409 873v8M1409 884v33M1409 921v2M1410 643v10M1410 663v1M1410 676v11M1410 690v163M1410 858v12M1410 874v7M1410 885v32M1410 920v2M1411 642v14M1411 659v13M1411 675v12M1411 690v163M1411 858v12M1411 875v6M1411 885v19M1411 907v15M1412 643v210M1412 858v12M1412 875v7M1412 885v19M1412 907v10M1412 920v1M1413 648v3M1413 655v1M1413 659v1M1413 664v188M1413 858v13M1413 875v6M1413 884v6M1413 895v4M1413 902v1M1413 908v1M1413 913v1M1414 664v186M1414 856v14M1414 874v4M1414 885v4M1414 896v2M1415 664v1M1415 668v182M1415 855v4M1415 865v5M1415 873v5M1415 885v3M1416 663v2M1416 668v165M1416 836v14M1416 855v4M1416 865v5M1416 873v5M1416 885v3M1417 657v2M1417 662v3M1417 668v128M1417 799v34M1417 836v23M1417 865v5M1417 873v6M1417 885v2M1418 656v8M1418 667v129M1418 799v34M1418 836v23M1418 862v24M1419 656v8M1419 668v26M1419 697v99M1419 799v34M1419 836v50M1419 900v2M1419 910v1M1419 926v1M1420 657v7M1420 668v3M1420 674v1M1420 678v1M1420 687v7M1420 700v186M1420 898v7M1420 909v3M1420 925v3M1421 662v1M1421 669v1M1421 687v7M1421 701v132M1421 836v53M1421 892v14M1421 909v3M1421 924v4M1421 934v1M1422 687v8M1422 701v132M1422 836v76M1422 923v7M1422 933v3M1423 688v1M1423 693v1M1423 702v131M1423 836v75M1423 922v9M1423 934v3M1424 704v207M1424 916v1M1424 920v11M1424 934v4M1425 705v206M1425 914v17M1425 934v4M1426 705v233M1426 941v1M1427 705v238M1428 706v236M1429 707v235M1430 693v1M1430 707v217M1430 927v14M1431 674v1M1431 690v7M1431 707v211M1431 922v1M1431 927v12M1432 670v11M1432 689v9M1432 703v163M1432 869v37M1432 909v9M1432 927v4M1432 936v1M1433 669v17M1433 689v9M1433 701v165M1433 870v36M1433 909v4M1433 916v2M1433 926v3M1434 669v97M1434 769v43M1434 818v13M1434 834v32M1434 870v3M1434 876v7M1434 886v8M1434 898v8M1434 909v4M1434 916v3M1434 927v1M1435 663v3M1435 669v96M1435 769v43M1435 818v13M1435 834v32M1435 870v3M1435 876v5M1435 889v4M1435 898v2M1435 904v9M1435 917v2M1435 927v1M1435 935v1M1436 654v2M1436 659v106M1436 769v43M1436 818v6M1436 827v3M1436 834v3M1436 844v22M1436 870v3M1436 876v5M1436 890v3M1436 898v2M1436 904v8M1436 920v2M1436 927v1M1436 934v3M1437 653v112M1437 768v43M1437 818v6M1437 833v3M1437 844v12M1437 859v1M1437 864v3M1437 871v9M1437 891v1M1437 898v2M1437 904v4M1437 920v21M1438 654v156M1438 816v2M1438 823v1M1438 834v1M1438 844v8M1438 864v2M1438 871v9M1438 897v3M1438 903v5M1438 921v12M1438 937v5M1439 655v8M1439 666v1M1439 671v1M1439 677v132M1439 815v3M1439 823v2M1439 834v1M1439 844v8M1439 864v2M1439 871v2M1439 877v3M1439 898v2M1439 903v5M1439 924v4M1439 931v1M1439 937v4M1440 679v130M1440 815v3M1440 823v3M1440 834v1M1440 844v8M1440 864v2M1440 869v4M1440 877v5M1440 898v2M1440 903v4M1440 926v1M1440 937v4M1441 679v130M1441 812v7M1441 823v3M1441 829v1M1441 833v5M1441 843v10M1441 856v1M1441 863v10M1441 878v5M1441 898v9M1441 935v6M1442 679v160M1442 844v14M1442 862v3M1442 868v5M1442 878v7M1442 898v9M1442 934v6M1443 676v163M1443 844v14M1443 861v3M1443 868v6M1443 878v8M1443 898v1M1443 903v5M1443 935v1M1444 674v160M1444 837v1M1444 845v5M1444 853v4M1444 861v2M1444 869v5M1444 878v7M1444 897v2M1444 906v2M1445 673v30M1445 706v122M1445 831v3M1445 837v1M1445 845v4M1445 853v3M1445 861v1M1445 873v11M1445 896v3M1446 674v3M1446 681v22M1446 706v122M1446 831v3M1446 837v1M1446 845v4M1446 853v3M1446 860v2M1446 873v11M1446 896v4M1447 674v3M1447 681v22M1447 706v122M1447 831v8M1447 843v6M1447 853v3M1447 859v3M1447 873v11M1447 895v6M1448 674v3M1448 681v151M1448 835v27M1448 867v1M1448 871v13M1448 894v6M1449 673v159M1449 836v37M1449 878v6M1449 890v1M1449 895v5M1450 654v1M1450 660v3M1450 666v2M1450 672v160M1450 836v36M1450 878v8M1450 889v3M1450 895v5M1451 648v21M1451 672v161M1451 836v36M1451 878v14M1451 895v6M1452 647v21M1452 672v23M1452 700v133M1452 836v36M1452 877v23M1452 916v1M1453 648v9M1453 660v5M1453 671v6M1453 683v2M1453 688v6M1453 700v200M1453 915v3M1454 653v4M1454 661v4M1454 671v2M1454 688v6M1454 700v200M1454 906v1M1454 911v1M1454 916v2M1455 653v4M1455 661v4M1455 671v2M1455 688v6M1455 700v192M1455 904v9M1455 916v2M1456 653v5M1456 661v5M1456 670v3M1456 679v1M1456 686v10M1456 699v135M1456 838v53M1456 900v7M1456 911v2M1456 916v3M1457 651v183M1457 838v52M1457 900v5M1457 912v8M1458 650v136M1458 789v45M1458 838v52M1458 900v2M1458 912v7M1459 651v1M1459 655v12M1459 670v116M1459 789v83M1459 875v15M1459 912v4M1460 656v4M1460 663v3M1460 670v116M1460 789v72M1460 864v8M1460 876v15M1460 911v3M1461 657v1M1461 671v1M1461 678v39M1461 720v86M1461 809v17M1461 829v32M1461 864v8M1461 876v14M1461 912v1M1462 682v7M1462 693v11M1462 707v9M1462 720v15M1462 739v12M1462 754v19M1462 776v30M1462 810v11M1462 824v1M1462 829v8M1462 841v1M1462 845v9M1462 858v2M1462 864v7M1462 876v3M1462 883v7M1463 686v1M1463 697v6M1463 711v4M1463 721v1M1463 727v3M1463 749v1M1463 759v4M1463 782v4M1463 793v3M1463 804v1M1463 813v1M1463 830v2M1463 848v1M1463 865v1M1463 877v1M1463 888v1" stroke="#1f77b4" stroke-width="1" transform="translate(.5 0)" shape-rendering="crispEdges"/><path d="m116.5 638.5h0m0 19.5h0m0 7h0m0 17h0m0 43h0m0 6.5h0m0 19.5h0m0 4h0m0 21.5h0m0 11h0m0 31h0m0 7h0m0 26h0m0 33h0m0 3.5h0m0 6.5h0m0 17.5h0m0 31h0m0 6h0m.5-318.5h0m0 2h0m0 13h0m0 8.5h0m0 18.5h0m0 6.5h0m0 10h0m0 4h0m0 6.5h0m0 4h0m0 7h0m0 5h0m0 45.5h0m0 12.5h0m0 16h0m0 8.5h0m0 17.5h0m0 3.5h0m0 8.5h0m0 7.5h0m0 5h0m0 16.5h0m0 17.5h0m0 8h0m0 14.5h0m0 21h0m0 51.5h0m0 14.5h0m.5-344h0m0 10.5h0m0 58h0m0 20h0m0 20.5h0m0 15h0m0 7.5h0m0 5.5h0m0 11h0m0 14h0m0 6h0m0 3h0m0 39h0m0 13.5h0m0 11h0m0 25h0m0 23.5h0m0 7h0m0 43.5h0m.5-329h0m0 19.5h0m0 4.5h0m0 117h0m0 84h0m0 39h0m0 28h0m0 12.5h0m0 5h0m0 1.5h0m0 32h0m.5-183h0m0 57h0m0 17h0m0 10.5h0m0 41h0m.5-293.5h0m0 5.5h0m0 79.5h0m0 14.5h0m0 10.5h0m0 34.5h0m0 12h0m0 40.5h0m0 12h0m0 133h0m.5-347.5h0m0 53h0m0 19h0m.5-6.5h0m0 206h0m0 26.5h0m0 38.5h0m.5-336.5h0m0 1.5h0m0 8h0m0 3.5h0m.5 94h0m.5 5h0m0 196.5h0m0 19h0m1-65.5h0m0 32.5h0m0 38h0m.5-276h0m0 257h0m0 23.5h0m0 7h0m.5-173h0m.5 119h0m.5 12h0m0 60.5h0m0 5h0m.5-50h0m0 31h0m0 4h0m.5-89.5h0m0 22.5h0m.5-270.5h0m0 349h0m.5-3h0m.5-353.5h0m0 240h0m.5-33.5h0m0 76.5h0m0 11.5h0m0 42h0m0 3.5h0m.5-334.5h0m0 208.5h0m0 10.5h0m0 28.5h0m0 5h0m0 67.5h0m.5-204.5h0m0 238.5h0m.5-69.5h0m0 24h0m0 19h0m0 15.5h0m.5-168.5h0m0 183.5h0m.5-364.5h0m0 5h0m0 238.5h0m0 4h0m.5-246h0m0 216h0m0 2h0m0 107.5h0m0 20h0m.5-230h0m0 70h0m0 146.5h0m.5-332.5h0m0 9h0m0 4h0m0 197.5h0m0 23.5h0m0 86h0m.5-295.5h0m0 2.5h0m0 323.5h0m.5-334h0m0 2.5h0m0 270.5h0m0 10.5h0m0 42h0m.5-53h0m0 6.5h0m0 52.5h0m0 10h0m.5-135.5h0m0 3.5h0m0 55.5h0m0 52.5h0m.5-92.5h0m0 70.5h0m0 50.5h0m.5-109h0m.5-6.5h0m0 11.5h0m0 59.5h0m0 25h0m0 4h0m0 4.5h0m1-318.5h0m0 12h0m0 137h0m0 86.5h0m.5-228.5h0m0 278h0m0 6h0m0 23.5h0m.5-316.5h0m0 285h0m0 17.5h0m0 .5h0m1-20.5h0m.5-39.5h0m0 66.5h0m.5-72h0m0 33h0m.5-51.5h0m0 32h0m0 9.5h0m0 16h0m.5-270.5h0m0 301h0m.5-37h0m0 40.5h0m.5-96.5h0m0 74.5h0m.5-284.5h0m.5 233h0m0 16.5h0m.5-238.5h0m0 266.5h0m0 11.5h0m0 7.5h0m.5-28h0m.5-275h0m0 230h0m0 19.5h0m0 16h0m.5-277.5h0m0 11h0m0 13h0m0 264.5h0m0 5h0m.5-303.5h0m0 4.5h0m0 3.5h0m0 15.5h0m0 230h0m0 9.5h0m0 58h0m.5-308.5h0m0 3h0m0 227h0m0 30h0m.5-276h0m0 266h0m0 4h0m0 5h0m0 20h0m.5-171.5h0m0 100.5h0m0 59.5h0m.5-54h0m0 21h0m.5-250.5h0m0 245.5h0m.5 15.5h0m.5-262h0m0 295h0m.5-55h0m.5 36h0m.5-146.5h0m.5-130h0m0 258h0m2-1h0m0 18h0m.5-111.5h0m1-3h0m.5-160h0m.5 241.5h0m0 50h0m0 1h0m.5-162h0m.5 59.5h0m.5-6h0m0 93.5h0m.5-279.5h0m0 244.5h0m0 34h0m.5-28.5h0m0 25.5h0m0 17.5h0m.5-30h0m.5-95.5h0m.5 81.5h0m.5-88h0m1-162h0m0 275.5h0m0 7h0m.5-10.5h0m.5-272.5h0m0 189h0m.5 3h0m.5 53h0m.5 33.5h0m1.5-49.5h0m1 16h0m.5 13h0m0 26h0m.5-287h0m.5 227h0m0 15h0m.5 31h0m.5-7.5h0m0 2h0m.5-12.5h0m.5-255.5h0m.5 311.5h0m.5-75.5h0m.5-5h0m0 25.5h0m0 28.5h0m0 25h0m.5-37.5h0m0 51h0m.5-75.5h0m.5 4h0m0 10h0m0 4h0m0 9.5h0m0 23.5h0m0 11h0m0 11.5h0m0 11.5h0m.5-334.5h0m0 218.5h0m0 57.5h0m0 11.5h0m0 18.5h0m0 14h0m0 11h0m0 1.5h0m.5-99.5h0m0 60h0m0 65.5h0m.5-136h0m0 60.5h0m0 1h0m0 13h0m.5-59.5h0m0 53h0m0 31.5h0m.5-131.5h0m0 101h0m0 49h0m0 8h0m0 1h0m0 4h0m.5-293.5h0m0 114.5h0m.5-170h0m0 44h0m0 35.5h0m.5-43h0m0 24h0m0 55.5h0m0 53h0m0 5.5h0m0 33h0m0 33.5h0m0 8h0m0 49.5h0m0 53.5h0m.5-357h0m0 10h0m0 9h0m0 125h0m0 3.5h0m0 8h0m0 12.5h0m0 36h0m0 29h0m0 18h0m0 33.5h0m0 24h0m0 23h0m.5-331.5h0m0 11.5h0m0 10.5h0m0 6h0m0 50.5h0m0 23h0m0 37.5h0m0 57.5h0m0 19h0m0 6.5h0m0 17h0m0 3.5h0m0 34h0m0 20h0m0 17.5h0m0 5h0m0 18.5h0m.5-230.5h0m0 53.5h0m0 28.5h0m0 10h0m0 18h0m0 17.5h0m0 55h0m0 9.5h0m0 23.5h0m0 13h0m.5-319.5h0m0 192h0m0 19h0m0 37h0m0 7.5h0m0 42.5h0m.5-212.5h0m.5 178.5h0m0 76h0m.5-267h0m0 103h0m0 66h0m1-204h0m.5-16h0m.5 9.5h0m0 36.5h0m0 39h0m0 32.5h0m0 11.5h0m0 41.5h0m0 18h0m0 32.5h0m0 88.5h0m.5-326.5h0m0 6h0m0 32.5h0m0 5h0m0 11.5h0m0 42.5h0m0 13h0m0 45.5h0m0 25h0m0 33.5h0m0 3.5h0m0 7h0m0 20h0m0 6.5h0m0 20.5h0m0 34.5h0m0 25h0m.5-344.5h0m0 10h0m0 88h0m0 37.5h0m0 6.5h0m0 25.5h0m0 36.5h0m0 5h0m0 7h0m0 27h0m0 55.5h0m0 7.5h0m.5-157h0m0 87.5h0m0 32h0m0 7h0m0 5.5h0m0 44.5h0m0 2h0m0 10h0m.5-205.5h0m0 30.5h0m0 27.5h0m0 32.5h0m0 1h0m0 8.5h0m0 13.5h0m0 23.5h0m0 8.5h0m0 16.5h0m0 56h0m0 12h0m.5-360h0m0 6h0m0 304.5h0m0 22h0m.5-61h0m0 42h0m0 15.5h0m0 11h0m.5-344.5h0m0 .5h0m0 303.5h0m0 4.5h0m.5-62h0m0 69h0m0 41.5h0m0 8.5h0m.5-184h0m0 85h0m.5-3.5h0m0 48.5h0m0 18h0m0 12h0m0 9h0m0 3.5h0m.5-70h0m0 33.5h0m0 20.5h0m.5-86.5h0m0 65.5h0m.5-141.5h0m0 46.5h0m0 12.5h0m0 39.5h0m0 4.5h0m.5 21.5h0m.5-177h0m0 210h0m.5-94.5h0m0 67.5h0m.5-49.5h0m0 17.5h0m.5-276h0m0 120h0m0 62h0m0 104h0m0 8h0m0 20h0m.5-50h0m.5-45h0m0 50.5h0m0 10h0m0 8h0m1-288.5h0m0 298.5h0m0 8h0m0 16.5h0m.5-190.5h0m0 43h0m0 97.5h0m.5-276h0m0 313.5h0m.5-55h0m0 5.5h0m0 33.5h0m.5-299.5h0m0 296.5h0m.5-163.5h0m0 20h0m0 76h0m0 53.5h0m0 3.5h0m0 22h0m0 24.5h0m.5-204h0m0 159.5h0m0 33.5h0m0 21.5h0m.5-218.5h0m.5 24h0m.5 74h0m0 57.5h0m0 43h0m.5-313h0m0 152.5h0m0 4.5h0m0 4.5h0m0 6h0m0 12h0m0 2.5h0m0 113h0m.5-302.5h0m0 64.5h0m0 4h0m0 12h0m0 29h0m0 135.5h0m.5-189h0m0 28.5h0m0 6h0m0 3h0m0 10.5h0m0 52.5h0m0 21h0m0 14.5h0m0 6h0m0 23h0m0 18.5h0m0 21.5h0m.5-242.5h0m0 2.5h0m0 26.5h0m0 18.5h0m0 22.5h0m0 26.5h0m0 .5h0m0 4.5h0m0 26h0m0 20.5h0m0 15h0m0 13h0m0 6.5h0m0 26h0m0 3h0m0 92.5h0m.5-323h0m0 4h0m0 10h0m0 17.5h0m0 1.5h0m0 2.5h0m0 8.5h0m0 9h0m0 8h0m0 10.5h0m0 26.5h0m0 8h0m0 13.5h0m0 8.5h0m0 7h0m0 14h0m0 3.5h0m0 32h0m0 35h0m0 28h0m0 7.5h0m0 93h0m.5-347.5h0m0 11.5h0m0 15.5h0m0 13.5h0m0 8.5h0m0 28h0m0 20.5h0m0 10h0m0 28.5h0m0 5h0m0 41h0m0 22h0m0 5h0m0 16h0m0 28h0m0 31h0m0 24.5h0m0 53.5h0m0 9h0m0 5h0m0 5h0m0 3h0m.5-126h0m0 23.5h0m0 55h0m0 5h0m0 6.5h0m0 6.5h0m0 5h0m0 9h0m.5-156.5h0m0 52h0m0 70h0m0 32h0m0 19.5h0m.5-153.5h0m0 6.5h0m0 113.5h0m.5 38.5h0m.5-153.5h0m0 151h0m0 2.5h0m.5-174.5h0m0 86h0m1.5-32.5h0m1-4.5h0m.5 24.5h0m.5-37.5h0m0 31h0m.5-10.5h0m0 20h0m.5-12.5h0m0 6h0m1 107.5h0m.5-151.5h0m.5 4.5h0m0 30.5h0m.5 27h0m.5-25.5h0m.5 38.5h0m0 77.5h0m1-98.5h0m0 97h0m.5-103h0m0 19.5h0m0 83.5h0m1-130h0m0 37h0m0 12.5h0m.5-31h0m.5-11.5h0m.5 7h0m1 28.5h0m1 10h0m1 77h0m.5-83h0m.5-26.5h0m0 7h0m.5 23h0m.5-45h0m0 30.5h0m.5 10h0m0 84h0m.5-88.5h0m1.5 .5h0m0 11.5h0m2 77.5h0m2-126.5h0m0 19h0m0 31h0m1-53.5h0m0 37.5h0m1 6h0m0 85.5h0m.5-111h0m.5-7.5h0m0 39.5h0m.5-15h0m.5-20h0m0 33h0m0 80h0m1-138h0m.5-14.5h0m0 56h0m.5-24h0m0 18h0m.5-53h0m0 28.5h0m0 27h0m0 102.5h0m1.5-181.5h0m0 49h0m.5 8h0m.5-5h0m0 129.5h0m1-123h0m.5 15.5h0m.5-53.5h0m.5 47.5h0m.5-65.5h0m0 176h0m1-125.5h0m.5-1h0m.5-260.5h0m0 23h0m0 2.5h0m0 14h0m0 23h0m0 6.5h0m0 20h0m0 11.5h0m0 21.5h0m0 34.5h0m0 92h0m0 52h0m0 40h0m.5-345h0m0 19.5h0m0 4.5h0m0 18.5h0m0 6.5h0m0 12h0m0 20h0m0 6.5h0m0 45.5h0m0 5h0m0 13h0m0 57.5h0m0 18.5h0m0 4h0m0 8.5h0m0 122.5h0m0 24h0m.5-376.5h0m0 6.5h0m0 22h0m0 18.5h0m0 14h0m0 7.5h0m0 13.5h0m0 10h0m0 25h0m0 9h0m0 25.5h0m0 10.5h0m0 9h0m0 21.5h0m0 15.5h0m0 28.5h0m0 10.5h0m0 40h0m0 3.5h0m.5-288.5h0m0 42.5h0m0 59h0m0 14h0m0 29h0m0 28.5h0m0 6.5h0m0 24h0m0 47.5h0m.5-196.5h0m0 44.5h0m0 86h0m0 74h0m0 71.5h0m.5-225h0m0 20h0m0 27h0m0 9.5h0m0 14.5h0m0 37h0m0 22.5h0m.5-164.5h0m0 65h0m0 18h0m0 44.5h0m0 8.5h0m0 17h0m0 33h0m0 11h0m0 89.5h0m0 12.5h0m.5-260.5h0m0 140h0m0 25.5h0m0 51h0m0 39h0m.5-376.5h0m0 85h0m0 23.5h0m0 128.5h0m0 33.5h0m0 5h0m0 95h0m.5-198.5h0m0 70h0m0 49h0m0 84h0m.5-232.5h0m0 14h0m0 21h0m0 43h0m0 .5h0m0 57h0m0 40.5h0m.5-233.5h0m0 6.5h0m0 112h0m0 13h0m0 12.5h0m0 26.5h0m0 4h0m0 55h0m0 51h0m.5-275.5h0m0 51h0m0 31h0m0 82h0m0 30h0m0 25h0m0 36.5h0m0 14h0m.5-224h0m0 18.5h0m0 26h0m0 26.5h0m0 18.5h0m0 6h0m0 73h0m0 19.5h0m.5-224.5h0m0 31h0m0 19.5h0m0 38h0m0 64h0m0 14h0m0 84h0m.5-245h0m0 20h0m0 4h0m0 16.5h0m0 37.5h0m0 5.5h0m0 25h0m0 30h0m0 49.5h0m0 32.5h0m0 4.5h0m0 5h0m0 6.5h0m0 22.5h0m0 7.5h0m0 9.5h0m.5-303h0m0 26.5h0m0 13.5h0m0 12.5h0m0 26h0m0 37.5h0m0 85h0m0 8.5h0m0 38h0m0 30.5h0m.5-275.5h0m0 29.5h0m0 136h0m0 127.5h0m.5-173.5h0m0 84.5h0m.5-210.5h0m0 21.5h0m.5 17h0m0 62h0m.5-173h0m0 119h0m0 116.5h0m.5-60h0m1-178h0m0 278.5h0m0 46.5h0m1-245h0m0 30.5h0m0 38.5h0m0 79h0m.5-92.5h0m0 38h0m.5-175h0m0 91.5h0m0 10h0m0 158h0m.5-183h0m0 15.5h0m0 216.5h0m.5-228.5h0m0 2.5h0m0 197h0m.5-281.5h0m0 103.5h0m0 5.5h0m0 43h0m0 205h0m1.5-357h0m0 96.5h0m0 211.5h0m0 34.5h0m.5-234h0m0 2.5h0m0 57.5h0m0 35.5h0m.5-110.5h0m0 210h0m.5-225.5h0m0 30.5h0m0 125h0m0 11h0m0 120h0m.5-248.5h0m.5 164.5h0m0 86h0m.5-199h0m0 13h0m0 15.5h0m0 15.5h0m0 36.5h0m.5 14h0m.5 13h0m.5-273h0m0 224.5h0m.5-144h0m0 37.5h0m0 1h0m0 107.5h0m0 78h0m1-303h0m0 91.5h0m0 20.5h0m0 17.5h0m.5-33h0m0 17.5h0m0 40h0m0 107.5h0m.5-164.5h0m0 105h0m1-115h0m0 39h0m0 104.5h0m.5-148h0m0 66.5h0m0 163h0m.5-132h0m0 64h0m.5-60.5h0m0 1.5h0m0 49h0m0 124h0m.5-20h0m0 20.5h0m.5-192.5h0m0 18h0m0 55.5h0m.5 70h0m.5-179h0m.5-128h0m0 90.5h0m0 104.5h0m0 18.5h0m.5-15h0m.5-104.5h0m0 11h0m0 20h0m0 70h0m0 75h0m.5-184h0m0 127.5h0m0 85.5h0m.5-168.5h0m0 99h0m.5-86.5h0m1 7.5h0m0 13.5h0m0 106h0m.5-272.5h0m0 86.5h0m0 37.5h0m0 19.5h0m0 60.5h0m0 30h0m.5-105.5h0m0 74h0m.5-203h0m0 136.5h0m0 11.5h0m0 79h0m0 36.5h0m0 100.5h0m1-265h0m0 57.5h0m0 135h0m.5-205.5h0m0 21h0m0 16.5h0m.5 94.5h0m0 81h0m.5-140h0m.5-44.5h0m0 25h0m0 93.5h0m.5-150.5h0m0 8h0m0 12.5h0m0 67.5h0m0 148h0m.5-318.5h0m0 152.5h0m0 164.5h0m.5-215.5h0m0 32h0m0 26h0m0 43.5h0m0 17h0m.5-126h0m0 140.5h0m0 127h0m1-84.5h0m.5-276h0m0 103.5h0m0 5.5h0m0 73h0m0 26.5h0m0 39.5h0m0 69.5h0m0 6.5h0m0 3.5h0m0 4h0m0 41h0m.5-280h0m0 23.5h0m0 35.5h0m0 27.5h0m0 6h0m0 10h0m0 30.5h0m0 7.5h0m0 10h0m0 9.5h0m0 13.5h0m0 6.5h0m0 8.5h0m0 97h0m.5-299h0m0 43h0m0 2h0m0 8h0m0 11.5h0m0 23h0m0 1h0m0 22h0m0 5h0m0 30h0m0 12.5h0m0 24.5h0m0 16h0m0 34.5h0m0 10.5h0m0 15h0m0 42.5h0m0 5.5h0m.5-223.5h0m0 65h0m0 59h0m0 8h0m0 7h0m0 3.5h0m0 38.5h0m0 4.5h0m.5-221h0m0 12.5h0m0 34h0m0 6.5h0m0 27h0m0 6h0m0 32.5h0m0 114.5h0m0 6h0m.5-366h0m0 103.5h0m0 45h0m0 4h0m0 65.5h0m0 41h0m0 11.5h0m0 20.5h0m0 5.5h0m0 13h0m0 56h0m0 7h0m.5-275.5h0m0 20.5h0m0 43h0m0 11.5h0m0 57h0m0 28h0m0 6h0m0 13.5h0m0 72.5h0m0 1h0m0 6h0m.5-271.5h0m0 29h0m0 90h0m0 85.5h0m0 11h0m0 36h0m.5-229.5h0m0 102.5h0m0 108.5h0m0 30.5h0m.5-189.5h0m0 40.5h0m0 36.5h0m0 18h0m0 133h0m.5-287h0m.5-99.5h0m0 124.5h0m0 27.5h0m0 47.5h0m0 30h0m0 19h0m0 13h0m0 61h0m.5-244.5h0m0 40.5h0m0 193h0m0 42h0m0 6.5h0m0 7h0m0 9h0m.5-262.5h0m0 23h0m0 18.5h0m0 33h0m0 35.5h0m0 36h0m.5-84.5h0m0 20.5h0m0 28.5h0m.5-173h0m0 1.5h0m0 3h0m0 73h0m0 40h0m0 37h0m0 9h0m0 4h0m0 11h0m0 40h0m0 6h0m0 19h0m0 11h0m0 12.5h0m0 23h0m.5-333.5h0m0 68.5h0m0 71h0m0 31.5h0m0 71.5h0m0 12h0m0 20h0m0 4.5h0m0 5h0m.5-291h0m0 42h0m0 17.5h0m0 70.5h0m0 39h0m0 35h0m0 2h0m0 52.5h0m0 29.5h0m0 34h0m.5-322h0m0 5h0m0 17.5h0m0 6h0m0 36h0m0 16.5h0m0 17.5h0m0 4.5h0m0 3.5h0m0 39h0m0 13.5h0m0 2.5h0m0 14h0m0 8h0m0 6.5h0m0 24h0m0 25.5h0m0 29h0m0 32h0m0 68.5h0m.5-323h0m0 13.5h0m0 8h0m0 5h0m0 12h0m0 2h0m0 15.5h0m0 6h0m0 11h0m0 .5h0m0 19.5h0m0 4h0m0 30h0m0 19.5h0m0 22.5h0m0 19.5h0m0 35h0m0 4.5h0m.5-273.5h0m0 12h0m0 4.5h0m0 4h0m0 13.5h0m0 3.5h0m0 54h0m0 2h0m0 17h0m0 84h0m0 8.5h0m0 28h0m0 13h0m0 33.5h0m0 17.5h0m0 16h0m0 12.5h0m0 13.5h0m0 49.5h0m.5-58h0m0 3.5h0m0 40.5h0m.5-66.5h0m3.5 24h0m.5 55.5h0m1-57.5h0m0 59h0m1.5-53.5h0m0 3.5h0m0 47.5h0m0 1.5h0m1-92h0m0 19.5h0m0 66h0m0 2.5h0m.5-78h0m.5 11h0m.5-31.5h0m0 2.5h0m0 13h0m0 77.5h0m.5-65h0m0 9h0m0 5h0m0 46h0m.5-83h0m0 19h0m0 67.5h0m.5-101h0m.5-17.5h0m0 2.5h0m0 18h0m.5-5h0m.5-33h0m0 6h0m0 7.5h0m.5 12.5h0m0 1.5h0m.5-224.5h0m0 15.5h0m0 2.5h0m0 57.5h0m0 10h0m0 56.5h0m0 25h0m.5-127h0m0 2h0m0 7h0m0 23.5h0m0 32h0m0 26h0m0 2.5h0m0 15.5h0m0 6h0m0 14.5h0m0 11h0m0 5.5h0m0 4h0m0 4h0m.5-167.5h0m0 9h0m0 18h0m0 29h0m0 63h0m0 17h0m0 16.5h0m.5-157h0m0 8.5h0m0 33.5h0m0 4h0m0 2.5h0m0 27h0m0 1.5h0m0 26.5h0m0 26h0m0 24.5h0m0 154.5h0m.5-324h0m0 47h0m0 4.5h0m0 52h0m0 11.5h0m0 45h0m.5-128h0m0 5h0m0 30.5h0m0 29h0m0 91h0m.5-183.5h0m0 14.5h0m0 10h0m0 1.5h0m0 13h0m0 37.5h0m0 25h0m0 32h0m0 8h0m0 4h0m.5-158h0m0 41h0m0 51.5h0m0 10h0m0 16.5h0m0 14h0m0 19h0m0 7.5h0m0 12.5h0m0 3.5h0m0 160.5h0m.5-317h0m0 3h0m0 62h0m0 22h0m0 9.5h0m0 33.5h0m0 45h0m0 20h0m.5-54h0m0 13.5h0m0 14h0m0 24.5h0m0 8.5h0m0 2.5h0m0 28h0m.5-69h0m0 19h0m0 15.5h0m0 9.5h0m0 4.5h0m0 15.5h0m.5-40h0m0 132.5h0m.5-170.5h0m0 40h0m0 25.5h0m0 3.5h0m0 2.5h0m0 4h0m0 16.5h0m.5 5.5h0m0 75.5h0m.5-82h0m0 9.5h0m0 5h0m0 2.5h0m0 3.5h0m1-26.5h0m0 31.5h0m.5-7.5h0m0 5h0m0 64h0m0 4.5h0m.5-2.5h0m1 .5h0m.5-59.5h0m.5-26h0m1 35.5h0m.5-1.5h0m.5 4h0m.5 6h0m.5-4h0m.5-11.5h0m1 2.5h0m.5 57h0m.5-42h0m3.5 1.5h0m1 42h0m.5-69h0m0 17.5h0m.5-21.5h0m0 30h0m1-1h0m0 43.5h0m2.5-56h0m1 17h0m0 37h0m2.5-54h0m.5 9h0m.5-7.5h0m.5 12.5h0m1.5-32.5h0m.5 16.5h0m1 8.5h0m0 48.5h0m.5-79.5h0m.5 10.5h0m1 69.5h0m1-.5h0m.5-89h0m.5 18h0m0 9.5h0m0 60h0m.5-63h0m2-54h0m0 19h0m0 19h0m0 14h0m0 55h0m0 3.5h0m0 3.5h0m0 2h0m.5-152h0m0 17.5h0m0 3h0m0 6h0m0 3h0m0 9h0m0 9.5h0m0 2h0m0 6.5h0m0 4.5h0m0 80h0m.5-220.5h0m0 30h0m0 3h0m0 2.5h0m0 20h0m0 3.5h0m0 3.5h0m0 5.5h0m0 6h0m0 2h0m0 6h0m0 10h0m0 30.5h0m0 27h0m0 8.5h0m.5-199.5h0m0 24.5h0m0 4h0m0 2h0m0 17h0m0 3.5h0m0 3.5h0m0 26.5h0m0 2h0m0 2.5h0m0 6h0m0 36.5h0m.5-151h0m0 2.5h0m0 5h0m0 1.5h0m0 5h0m0 5h0m0 6.5h0m0 3.5h0m0 5h0m0 4.5h0m0 4h0m0 16h0m0 4h0m0 25.5h0m0 70h0m0 121.5h0m.5-311h0m0 5h0m0 0h0m0 21.5h0m0 52h0m0 142h0m.5-226.5h0m.5-11h0m0 2h0m0 30.5h0m0 7h0m0 52.5h0m0 222.5h0m.5-327.5h0m0 41h0m0 102.5h0m0 149.5h0m.5-293.5h0m0 1.5h0m0 17h0m0 8.5h0m0 270.5h0m0 33.5h0m0 6h0m.5-361.5h0m0 12h0m0 3h0m0 17h0m0 293.5h0m0 13.5h0m0 9h0m.5-1.5h0m.5-346.5h0m0 4h0m0 70.5h0m0 16h0m0 104.5h0m0 15h0m0 149.5h0m1-364.5h0m0 26h0m0 35.5h0m0 133.5h0m0 15.5h0m0 161h0m.5-220h0m0 135.5h0m0 5h0m0 9.5h0m.5-288.5h0m0 251.5h0m0 75h0m.5-343h0m0 59.5h0m0 71h0m.5 172h0m.5-209.5h0m0 225.5h0m0 16.5h0m0 16h0m0 23h0m0 3h0m.5-277.5h0m0 223.5h0m0 2h0m.5-112.5h0m0 7h0m.5-218h0m1 4h0m0 129.5h0m0 66.5h0m0 62h0m0 69.5h0m0 22h0m.5-348h0m0 4.5h0m0 283.5h0m0 11.5h0m0 50.5h0m.5-343h0m0 54.5h0m0 135.5h0m0 67.5h0m0 19h0m0 37h0m.5-309h0m0 4.5h0m0 186.5h0m0 55.5h0m0 82h0m0 16h0m0 12.5h0m.5-327.5h0m0 255.5h0m.5-275h0m0 2.5h0m0 12.5h0m0 17h0m0 42.5h0m0 249h0m.5-317.5h0m0 3h0m0 5.5h0m0 8h0m0 7h0m0 111h0m0 14h0m0 137.5h0m.5-266.5h0m0 11.5h0m0 7.5h0m0 6h0m0 15.5h0m0 94.5h0m0 75.5h0m0 106h0m.5-296.5h0m0 15h0m0 16h0m0 14h0m.5-36h0m0 2.5h0m0 14.5h0m0 8h0m0 4.5h0m0 12h0m0 22h0m0 13.5h0m0 3h0m0 7h0m0 72h0m.5-118.5h0m0 5.5h0m0 1h0m0 4.5h0m0 4.5h0m0 4h0m0 13.5h0m0 40.5h0m0 31.5h0m0 40.5h0m0 97h0m0 10.5h0m.5-241.5h0m0 16.5h0m0 22.5h0m0 6.5h0m0 5h0m.5-32h0m0 39.5h0m0 5.5h0m0 24h0m0 16.5h0m0 133.5h0m.5-189h0m0 19h0m0 1.5h0m0 2.5h0m0 4h0m0 2.5h0m0 8.5h0m0 33.5h0m.5-24.5h0m0 14h0m0 4.5h0m0 3.5h0m.5-16.5h0m0 21h0m0 7.5h0m0 10.5h0m0 11.5h0m0 13h0m0 4.5h0m.5-42.5h0m0 7h0m0 14h0m0 7h0m.5-10.5h0m0 14h0m0 14.5h0m0 9h0m0 .5h0m0 60.5h0m.5-159.5h0m0 92h0m0 17.5h0m1 4h0m.5 9h0m.5-18.5h0m0 13h0m1 8h0m.5 39h0m.5-35.5h0m0 6.5h0m0 3.5h0m0 29.5h0m1-36.5h0m.5 12.5h0m0 28h0m0 1.5h0m1.5-24.5h0m0 26.5h0m4.5 3h0m.5-25.5h0m.5 26h0m2-23.5h0m1.5-18h0m.5 42.5h0m1.5 1.5h0m1.5-28.5h0m.5-3h0m1 33h0m1.5-26.5h0m1-2h0m.5 28h0m1-34h0m3-7h0m.5 41h0m1.5-27h0m1 29h0m.5-20.5h0m2.5-5h0m.5 26h0m2.5-20.5h0m0 21h0m2-21h0m2 21h0m1-19h0m3 18h0m2.5 1.5h0m.5-19h0m3 2.5h0m.5 17h0m3-13.5h0m.5 13.5h0m3.5 1h0m.5-16.5h0m1.5 15.5h0m2-13h0m1.5 14h0m1-10h0m2 10h0m2.5 0h0m1.5-9h0m2.5 9h0m.5-13.5h0m3.5 5.5h0m0 8h0m2.5-8h0m1.5 8h0m2-9h0m0 9.5h0m1.5-9h0m1.5 2.5h0m.5 6.5h0m3-.5h0m1-5.5h0m3 6h0m1-5.5h0m4 5.5h0m2.5-5.5h0m1 5.5h0m3.5-6.5h0m.5 6.5h0m1.5-5.5h0m3 5.5h0m1-5h0m3 .5h0m1 4h0m1.5-3.5h0m1.5 3.5h0m.5-4h0m3-1h0m1 5.5h0m2.5-5h0m1 4.5h0m3 0h0m.5-5h0m1.5-.5h0m2 .5h0m.5 5.5h0m5-4.5h0m1 4.5h0m2-5.5h0m3 5.5h0m1.5-5h0m1 4.5h0m3 .5h0m2-5.5h0m1 5h0m1.5-5h0m1.5 5h0m1.5-5h0m2.5 5.5h0m.5-4.5h0m2 1h0m0 3h0m4.5-5h0m0 5h0m2.5-4h0m1 4.5h0m2.5-5.5h0m.5 5.5h0m2-6h0m1.5 5.5h0m.5-5h0m2.5 5h0m.5-4.5h0m2.5-.5h0m2.5 5h0m1-4.5h0m2 5h0m1.5-4.5h0m1.5 4.5h0m2.5-4.5h0m2 4.5h0m2.5-5.5h0m.5 5h0m2.5 0h0m.5-4.5h0m3 5h0m1.5-3.5h0m2 3.5h0m2-4.5h0m1.5-.5h0m0 5h0m2.5-3.5h0m1 3.5h0m2.5 0h0m2.5-3.5h0m2.5 3.5h0m.5-5h0m2.5 0h0m.5 5h0m1.5-5.5h0m3 0h0m0 5.5h0m1.5-4.5h0m1.5 4h0m1.5-4.5h0m1.5 5h0m1.5-5h0m1.5 5h0m2.5-5h0m.5 5h0m1.5-6h0m1.5 5.5h0m1-5h0m2 5h0m3 0h0m1.5-4.5h0m1 5h0m1-5.5h0m4 .5h0m0 5h0m3 0h0m.5-4h0m2.5-.5h0m2.5 4.5h0m1.5-6h0m1.5 5.5h0m.5-5h0m4 1h0m.5 4h0m2-4h0m2 1h0m1 3.5h0m3.5-5h0m.5 5h0m2.5-5.5h0m1 5.5h0m3-.5h0m.5-4h0m3.5 4.5h0m1-6h0m2 .5h0m.5 5.5h0m1-5.5h0m2 5.5h0m1.5-4.5h0m3 4h0m3 0h0m1-5.5h0m2 5.5h0m2-4h0m2.5 4h0m1.5-5h0m1.5 5h0m2-4.5h0m1.5 4.5h0m2.5 .5h0m1-6h0m1.5 5.5h0m.5-5h0m3 5h0m2.5-7.5h0m.5 7.5h0m1.5-9.5h0m2.5-.5h0m1 9.5h0m3.5 0h0m1.5-10.5h0m3 10h0m1.5-12h0m0 12.5h0m1-34.5h0m0 10h0m0 6h0m0 1.5h0m.5-14h0m1-1h0m0 13.5h0m.5-16.5h0m0 9h0m.5-1h0m.5 14h0m.5 2.5h0m1 10h0m2.5-6h0m.5 6.5h0m3-7h0m.5 7.5h0m1.5-7h0m0 7h0m3.5 .5h0m.5-7h0m2-.5h0m1 7.5h0m1.5-7h0m1.5 7h0m4-6.5h0m1 6h0m2.5-6.5h0m.5 6.5h0m3 .5h0m1.5-.5h0m1-7.5h0m.5-.5h0m1.5-5.5h0m1-2h0m1 13.5h0m1-13.5h0m.5-9h0m2 22.5h0m2.5-.5h0m.5-13.5h0m.5-13.5h0m0 8h0m.5-3h0m2 20.5h0m.5-39h0m0 10h0m.5-4.5h0m3 32.5h0m1.5-38h0m1.5-.5h0m0 38.5h0m.5-34.5h0m0 4h0m.5-28h0m1-12.5h0m.5 26h0m0 3h0m0 39h0m.5-49h0m0 50.5h0m1-48h0m.5 42.5h0m1-80h0m0 3.5h0m0 20h0m.5-73h0m0 3.5h0m0 4.5h0m0 9h0m0 10.5h0m0 35.5h0m.5-73h0m0 22.5h0m0 13h0m0 22h0m0 10h0m0 11h0m.5-85h0m0 30.5h0m0 6.5h0m0 16.5h0m0 7h0m0 10h0m.5-48h0m.5-13.5h0m0 7.5h0m0 3.5h0m0 5.5h0m0 31.5h0m0 1.5h0m0 3.5h0m.5-15.5h0m.5 9.5h0m1.5 91h0m1-115.5h0m1.5 116h0m.5-115h0m0 33.5h0m1-10h0m0 8.5h0m.5 4h0m0 3h0m.5-31h0m0 37h0m0 69.5h0m1-87h0m0 85h0m2-96.5h0m1 24.5h0m.5-4h0m1 73.5h0m1-128.5h0m0 1h0m.5 8h0m0 30h0m0 13.5h0m.5-43h0m0 17.5h0m0 22.5h0m0 77.5h0m1-147h0m0 56h0m0 7h0m.5 3.5h0m.5-13h0m.5-9h0m.5-4h0m.5-60h0m.5 166h0m.5-119h0m.5-56.5h0m0 35h0m0 26h0m0 5.5h0m.5-16.5h0m.5-73h0m.5 68.5h0m.5-12h0m.5-67.5h0m0 31.5h0m.5-44.5h0m0 220h0m.5-31h0m.5-115h0m0 12h0m0 18h0m.5-79h0m0 44h0m0 6.5h0m0 77.5h0m0 54h0m.5-334h0m0 26.5h0m0 16.5h0m0 121.5h0m0 87h0m0 62h0m.5-348.5h0m0 7.5h0m0 3h0m0 5h0m0 3h0m0 6.5h0m0 4h0m0 15h0m0 3.5h0m0 4h0m0 7h0m0 11h0m0 .5h0m0 4.5h0m0 28h0m0 14h0m0 2h0m0 14.5h0m0 19h0m0 38h0m0 30h0m0 30.5h0m0 140h0m.5-392h0m0 22h0m0 63.5h0m0 12.5h0m0 12h0m0 19h0m0 7.5h0m0 11h0m0 34h0m0 6h0m0 24.5h0m0 101h0m0 76h0m.5-349.5h0m0 50.5h0m0 3h0m0 24.5h0m0 5h0m0 0h0m0 17h0m0 11.5h0m0 7h0m0 15.5h0m0 33h0m0 12.5h0m0 7.5h0m0 10h0m0 45.5h0m0 73.5h0m.5-355h0m0 58h0m0 24.5h0m0 96h0m0 105h0m.5-279.5h0m0 259h0m.5-262.5h0m0 78h0m0 64.5h0m0 176h0m.5-250.5h0m0 101.5h0m0 196.5h0m.5-171.5h0m0 19h0m0 53.5h0m.5-101.5h0m0 29.5h0m0 77.5h0m0 86h0m0 15h0m0 7.5h0m.5-280.5h0m0 24h0m0 51.5h0m0 27h0m0 60.5h0m0 6h0m0 22.5h0m0 41h0m0 16.5h0m0 11.5h0m.5-171h0m0 116h0m0 4h0m0 80.5h0m.5-222h0m0 20.5h0m0 24h0m0 33.5h0m0 70.5h0m0 6h0m0 27.5h0m.5-146.5h0m0 98h0m0 7.5h0m0 17.5h0m.5-228.5h0m0 36h0m0 64h0m0 39h0m0 101h0m0 30h0m.5-272.5h0m0 76.5h0m0 28.5h0m0 4.5h0m0 73h0m.5-198h0m0 23h0m0 58h0m0 6h0m0 63h0m0 21.5h0m0 66h0m0 70h0m.5-245h0m0 45h0m0 127.5h0m.5-104h0m0 87.5h0m0 57.5h0m.5-45h0m0 35h0m0 27h0m0 4.5h0m0 4.5h0m0 7h0m.5-277.5h0m0 27.5h0m0 117h0m.5-256.5h0m0 174.5h0m0 47h0m0 14h0m0 41h0m0 17h0m0 0h0m0 16h0m0 25h0m0 18h0m.5-245h0m0 135.5h0m0 21h0m0 65.5h0m.5-198.5h0m0 62h0m0 23.5h0m0 24.5h0m0 46.5h0m0 4.5h0m0 53.5h0m0 37h0m.5-283h0m0 18.5h0m0 92.5h0m0 84h0m0 24h0m0 21h0m0 31.5h0m.5-167h0m0 33.5h0m0 52.5h0m.5-291.5h0m0 99h0m0 46h0m0 43h0m0 29.5h0m0 48.5h0m0 41h0m.5-307h0m0 106.5h0m0 10h0m0 85h0m0 3.5h0m0 24h0m0 24h0m0 7h0m0 40.5h0m0 33.5h0m.5-164.5h0m0 9h0m0 93.5h0m0 79.5h0m0 17.5h0m.5-203h0m0 3h0m0 85h0m0 18.5h0m0 65h0m0 49.5h0m.5-254h0m0 64.5h0m0 3h0m0 125.5h0m0 5h0m0 12h0m.5-182h0m0 97.5h0m0 2.5h0m0 23.5h0m0 58h0m0 39.5h0m.5-380.5h0m0 110h0m0 73h0m0 9h0m0 110h0m0 78h0m.5-161h0m0 12.5h0m0 77h0m0 4.5h0m0 4h0m.5-209.5h0m0 80.5h0m0 18h0m0 166.5h0m0 3h0m.5-202.5h0m0 21h0m0 18.5h0m0 99h0m0 7.5h0m0 39.5h0m0 .5h0m0 16.5h0m.5-228.5h0m0 13.5h0m0 35h0m0 51.5h0m0 36h0m0 5.5h0m0 33.5h0m0 14.5h0m0 35h0m.5-206.5h0m0 101.5h0m0 29h0m0 58.5h0m0 32h0m.5-383.5h0m0 132.5h0m0 1.5h0m0 52h0m0 20.5h0m0 7h0m0 24.5h0m0 106h0m.5-193.5h0m0 58h0m0 41h0m0 16h0m0 98h0m0 12h0m0 3.5h0m.5-240h0m0 26h0m0 39h0m0 49.5h0m0 29.5h0m0 72.5h0m.5-193.5h0m0 14h0m0 22.5h0m0 32h0m0 5.5h0m0 33.5h0m0 32h0m0 36h0m.5-231.5h0m.5 35.5h0m0 102.5h0m0 15h0m0 16.5h0m.5-116h0m0 14h0m0 68h0m0 44h0m0 11.5h0m0 8.5h0m.5-86.5h0m0 33.5h0m0 111.5h0m.5-228h0m0 11.5h0m0 57.5h0m0 19h0m0 70.5h0m0 19h0m0 8h0m0 5h0m0 14h0m0 19.5h0m.5-358.5h0m0 164.5h0m0 10h0m0 5.5h0m0 1h0m0 5.5h0m0 11h0m0 62.5h0m0 2h0m0 7.5h0m0 100h0m0 10h0m.5-259h0m0 69h0m0 109.5h0m0 50h0m.5-249h0m0 67.5h0m0 27h0m0 140h0m0 32.5h0m0 18h0m.5-246.5h0m0 26.5h0m0 19h0m0 20h0m0 28.5h0m0 55h0m0 17h0m0 11.5h0m0 31h0m0 32h0m.5-106h0m0 33h0m0 39.5h0m.5-346.5h0m0 158h0m0 10.5h0m0 13.5h0m0 9.5h0m0 33.5h0m0 18.5h0m0 41h0m0 56h0m0 13.5h0m.5-210h0m0 110h0m0 14h0m0 58.5h0m0 3h0m0 20h0m0 10h0m.5-150.5h0m0 36.5h0m0 4h0m0 51h0m0 11.5h0m.5-135h0m0 85.5h0m0 30.5h0m0 79.5h0m.5-371h0m0 216h0m0 15h0m0 4.5h0m0 42h0m0 12.5h0m0 83h0m.5-238.5h0m0 29.5h0m0 27.5h0m0 34h0m0 75.5h0m0 17h0m0 22h0m0 8.5h0m.5-177h0m0 37.5h0m0 128.5h0m.5-207h0m0 49h0m0 13h0m0 7.5h0m0 47h0m.5-125.5h0m0 34.5h0m0 29.5h0m0 69.5h0m0 13h0m0 16.5h0m0 50h0m0 41.5h0m.5-376.5h0m0 113h0m0 33h0m0 108h0m0 26h0m0 28h0m.5-109.5h0m0 78.5h0m0 48h0m.5-184h0m0 21h0m0 55h0m0 22.5h0m0 75h0m.5-189.5h0m0 68h0m0 135h0m0 20h0m0 37h0m.5-212.5h0m0 8h0m0 184h0m.5-156.5h0m0 13h0m0 9h0m0 30h0m0 12h0m0 17.5h0m.5-289.5h0m0 135h0m0 89h0m0 28h0m0 48.5h0m0 14.5h0m0 9h0m0 9h0m0 22h0m0 3.5h0m0 4.5h0m.5-119h0m0 7h0m0 121.5h0m.5-263h0m0 29h0m0 11h0m0 13h0m0 11h0m0 11h0m0 49h0m0 70.5h0m0 34.5h0m.5-124h0m0 83h0m0 48.5h0m0 20.5h0m.5-241.5h0m0 64h0m0 3.5h0m0 22h0m0 81.5h0m0 24h0m.5-205h0m0 31.5h0m0 242h0m.5-307.5h0m0 23.5h0m0 34.5h0m0 6.5h0m0 9h0m0 4.5h0m0 17h0m0 17h0m0 4h0m0 144.5h0m.5-280.5h0m0 37h0m0 83h0m0 16.5h0m0 50h0m0 101.5h0m0 39h0m.5-388.5h0m0 40.5h0m0 39.5h0m0 31h0m0 23h0m0 122.5h0m.5-180.5h0m0 9h0m0 42h0m0 64.5h0m0 18h0m0 32h0m.5-228h0m0 18h0m0 37h0m0 70h0m0 30.5h0m0 16h0m0 34.5h0m0 8.5h0m0 32h0m.5-259.5h0m0 1.5h0m0 6h0m0 9.5h0m0 5.5h0m0 5.5h0m0 5h0m0 4.5h0m0 10h0m0 23.5h0m0 19h0m0 3.5h0m0 12.5h0m0 9h0m0 5h0m0 21.5h0m0 23h0m0 6.5h0m0 1h0m0 30.5h0m0 12.5h0m0 9.5h0m0 11h0m0 17h0m.5-247h0m0 15h0m0 22.5h0m0 9h0m0 5h0m0 7h0m0 63.5h0m0 32h0m0 19h0m0 4h0m0 16h0m0 124.5h0m2-100.5h0m0 8.5h0m0 3h0m0 10h0m0 5.5h0m0 2.5h0m.5-12h0m0 6.5h0m0 25.5h0m0 21h0m0 15.5h0m0 29h0m0 48h0m.5-127h0m0 9.5h0m0 10h0m0 13h0m0 7.5h0m0 4.5h0m0 29h0m.5-69.5h0m0 21h0m0 33.5h0m0 4.5h0m.5-37h0m0 101.5h0m1-56h0m1-18h0m.5 73.5h0m1-67h0m1 2.5h0m0 4.5h0m.5-14.5h0m.5-162.5h0m0 58h0m0 65.5h0m0 8.5h0m0 3h0m0 55.5h0m.5-273.5h0m0 71.5h0m0 2h0m0 45.5h0m0 15h0m0 22.5h0m0 8h0m0 16.5h0m0 3.5h0m0 4.5h0m0 9.5h0m0 5h0m0 20h0m0 2h0m0 5h0m0 2h0m0 10.5h0m0 24h0m0 2.5h0m.5-293h0m0 19h0m0 39h0m0 6.5h0m0 12h0m0 12.5h0m0 12h0m0 16h0m0 14h0m0 9.5h0m0 63h0m0 21.5h0m0 6.5h0m0 54.5h0m.5-286h0m0 6h0m0 29.5h0m0 37.5h0m0 53.5h0m0 1.5h0m0 41.5h0m0 14.5h0m0 26.5h0m0 6h0m0 3h0m0 42.5h0m.5-253h0m0 12h0m0 20h0m0 31h0m0 8.5h0m0 3.5h0m0 27h0m0 15h0m0 29h0m0 49h0m0 5.5h0m.5-157h0m0 21h0m0 95h0m0 34h0m.5 141.5h0m1.5-81.5h0m.5-48h0m0 26h0m0 105.5h0m1-87.5h0m.5-31h0m.5 117h0m1-312.5h0m.5-7.5h0m0 34.5h0m0 6h0m0 16h0m0 20h0m0 34h0m0 8.5h0m0 45h0m0 35.5h0m0 11.5h0m.5-223h0m0 15h0m0 12.5h0m0 29.5h0m0 20.5h0m0 2.5h0m0 27h0m0 10h0m0 44h0m0 1.5h0m0 7.5h0m0 19h0m0 26.5h0m0 17.5h0m0 98.5h0m.5-288.5h0m0 3h0m0 5.5h0m0 127h0m0 8.5h0m0 24h0m.5-211.5h0m0 20h0m0 29h0m0 19.5h0m0 4h0m0 91h0m0 33.5h0m0 3.5h0m0 2h0m0 49.5h0m.5-245h0m0 26.5h0m.5-28.5h0m.5 186h0m0 2.5h0m0 17h0m0 39h0m.5-62h0m0 18.5h0m0 21.5h0m0 33h0m.5-70.5h0m0 6h0m0 12.5h0m0 7.5h0m0 8.5h0m0 6.5h0m0 18h0m0 15h0m.5-63.5h0m0 5.5h0m0 22.5h0m0 5.5h0m.5 21.5h0m1-16.5h0m0 94h0m.5-.5h0m2 .5h0m1-93.5h0m0 20h0m0 6.5h0m.5-22h0m1-50h0m0 12.5h0m0 9.5h0m0 2.5h0m0 15.5h0m.5-108h0m0 46h0m0 7h0m0 8.5h0m0 3h0m0 11.5h0m0 8.5h0m0 20.5h0m.5-157.5h0m0 15.5h0m0 51.5h0m0 2.5h0m0 39h0m0 42h0m0 3h0m.5-174.5h0m0 50.5h0m0 .5h0m0 32.5h0m0 43h0m0 18.5h0m0 5.5h0m.5-136h0m0 9h0m0 50.5h0m0 22h0m0 14h0m.5-102h0m0 9h0m0 3.5h0m0 13.5h0m0 12.5h0m0 31h0m0 5h0m0 17.5h0m0 3.5h0m0 26.5h0m0 26.5h0m0 124.5h0m1-121.5h0m0 26h0m.5-40.5h0m0 2h0m0 34h0m.5-8.5h0m0 4.5h0m0 13.5h0m0 9h0m1-6h0m0 86.5h0m1-114.5h0m.5 38h0m1.5-43h0m0 22h0m1 100h0m.5-88.5h0m0 85.5h0m.5-82h0m.5-35.5h0m0 13.5h0m0 24.5h0m.5-64h0m0 3.5h0m0 4h0m0 4.5h0m0 21.5h0m0 16h0m0 17.5h0m.5-52h0m0 .5h0m0 7.5h0m0 7.5h0m0 12.5h0m0 14h0m.5-54.5h0m0 9h0m0 15.5h0m0 7h0m0 7h0m1-11h0m.5-163h0m0 23h0m0 26h0m0 41h0m0 21h0m0 7.5h0m0 69h0m0 13.5h0m.5-198.5h0m0 102h0m0 18.5h0m0 5h0m0 13h0m0 10h0m0 29.5h0m.5-161.5h0m0 14h0m0 19h0m0 23.5h0m0 109.5h0m0 9h0m.5-182h0m0 11.5h0m0 6h0m0 25.5h0m0 115.5h0m0 105.5h0m2.5-109.5h0m0 34.5h0m0 76h0m.5-65h0m1-48.5h0m1-17.5h0m.5 5.5h0m0 40h0m.5-72h0m0 10h0m0 37h0m0 10h0m0 3.5h0m0 4.5h0m.5-58.5h0m0 47h0m0 22.5h0m.5-69.5h0m0 23h0m0 6h0m0 16.5h0m0 15.5h0m.5-47h0m0 2h0m0 2.5h0m0 14h0m0 2.5h0m0 11.5h0m0 24.5h0m0 11.5h0m.5-66.5h0m0 6h0m0 5h0m0 7h0m0 17.5h0m0 8.5h0m0 4.5h0m.5-21.5h0m.5-15h0m.5 15.5h0m.5 106h0m.5-95.5h0m0 15h0m1 5.5h0m1-22h0m.5 1h0m.5-18.5h0m0 29.5h0m.5-35.5h0m1 45.5h0m1-236h0m0 64h0m0 29h0m0 15.5h0m0 6.5h0m0 17.5h0m0 93h0m.5-243h0m0 5h0m0 24.5h0m0 7h0m0 56h0m0 26h0m0 2h0m0 9.5h0m0 1h0m0 10.5h0m0 8.5h0m0 42h0m0 1.5h0m0 23h0m0 .5h0m0 9.5h0m0 12h0m0 89.5h0m.5-321.5h0m0 14h0m0 92h0m0 17.5h0m0 17.5h0m0 5h0m0 4.5h0m0 31.5h0m0 13h0m0 3.5h0m.5-203.5h0m0 107h0m0 4.5h0m0 62h0m0 11h0m0 13.5h0m0 5h0m0 3.5h0m0 16.5h0m0 23h0m0 2h0m.5-232h0m0 40h0m0 22h0m0 21h0m0 1.5h0m0 17h0m0 59.5h0m0 5h0m0 36.5h0m0 3h0m0 19.5h0m.5-232.5h0m0 154h0m0 3.5h0m0 5.5h0m.5-86.5h0m0 14h0m0 40.5h0m0 47h0m0 8.5h0m0 33h0m0 7.5h0m.5 92.5h0m1.5-71.5h0m.5-27h0m.5 21.5h0m0 77.5h0m1-85h0m.5-10.5h0m1-21h0m0 40h0m1-44h0m0 51.5h0m.5 72.5h0m1.5-161.5h0m0 56.5h0m0 102.5h0m.5-181h0m0 1.5h0m0 4h0m0 3.5h0m0 34h0m0 5h0m0 8.5h0m0 17.5h0m0 2.5h0m0 17h0m0 12h0m.5-109.5h0m0 3h0m0 19h0m0 3h0m0 1.5h0m0 14.5h0m0 2.5h0m0 18.5h0m0 12h0m0 4.5h0m0 7h0m0 17h0m0 5h0m.5-89.5h0m0 5.5h0m0 10.5h0m0 .5h0m0 15.5h0m0 3h0m0 19.5h0m0 28.5h0m0 3.5h0m0 11.5h0m1-35h0m.5-170.5h0m.5-34.5h0m0 9h0m0 9.5h0m0 15h0m0 56.5h0m0 215.5h0m.5-292.5h0m0 9.5h0m0 1.5h0m0 139h0m0 11h0m.5-35h0m0 32h0m0 14h0m0 6.5h0m0 20.5h0m0 12.5h0m0 18.5h0m.5-237h0m0 2.5h0m0 51.5h0m0 8.5h0m0 36.5h0m0 9.5h0m0 50.5h0m0 30h0m0 40h0m.5-114.5h0m0 98.5h0m.5 85.5h0m.5-90h0m.5 12.5h0m0 10.5h0m.5-51h0m.5 45h0m.5-156h0m0 50h0m0 99.5h0m.5-161.5h0m0 35h0m0 72.5h0m.5-111h0m0 14.5h0m0 4.5h0m0 4h0m0 2h0m0 23h0m0 46h0m0 27h0m0 3h0m.5-116.5h0m0 23.5h0m0 23.5h0m0 3.5h0m0 19h0m0 3h0m0 80.5h0m0 1.5h0m0 4h0m0 10.5h0m0 69.5h0m.5-218.5h0m0 5h0m0 38.5h0m0 8h0m0 4.5h0m0 26h0m0 1.5h0m0 7.5h0m0 10.5h0m0 21h0m0 20h0m.5-162.5h0m0 89h0m0 30h0m.5-116h0m0 49.5h0m0 9h0m0 35h0m0 47h0m.5 8h0m.5-19.5h0m1-6h0m0 113.5h0m.5-107.5h0m.5 35.5h0m.5-31.5h0m0 105.5h0m.5-150h0m0 49h0m.5-36.5h0m.5 28h0m1 2h0m0 18h0m0 3h0m.5-60.5h0m.5 50h0m0 15h0m0 4h0m1-25h0m0 13h0m.5-5.5h0m1-20.5h0m0 116.5h0m.5-146h0m0 23.5h0m0 3h0m.5-127.5h0m0 5.5h0m0 64.5h0m0 43.5h0m.5-95h0m0 90.5h0m0 8h0m0 15.5h0m0 5h0m.5-140.5h0m0 40h0m0 3h0m0 42h0m0 11h0m0 12.5h0m.5-99.5h0m0 8.5h0m0 7h0m0 38.5h0m0 9h0m0 21h0m0 5h0m0 2h0m0 13.5h0m0 20.5h0m.5-128h0m0 12h0m0 27.5h0m0 19h0m0 0h0m0 9.5h0m0 14.5h0m0 17h0m0 23.5h0m.5-18h0m0 7h0m0 7.5h0m0 123h0m2.5-107h0m.5-45.5h0m.5-83h0m0 45.5h0m0 75h0m0 116h0m.5-215.5h0m0 21h0m0 7.5h0m0 24h0m.5-72h0m0 23h0m0 6.5h0m0 40.5h0m0 5.5h0m0 7h0m0 9h0m0 11.5h0m.5-105h0m0 16h0m0 30.5h0m0 9.5h0m0 6h0m.5-49.5h0m0 96h0m0 16h0m1.5 111.5h0m.5-206.5h0m0 89h0m0 14h0m0 11h0m.5-144.5h0m0 24h0m0 12.5h0m0 11.5h0m0 3h0m0 9.5h0m0 22h0m0 19.5h0m0 10.5h0m0 2.5h0m.5-116h0m0 7h0m0 3h0m0 3h0m0 7.5h0m0 21.5h0m0 18.5h0m0 1.5h0m0 4.5h0m0 0h0m0 30h0m0 2.5h0m0 8.5h0m0 21h0m.5-124.5h0m0 7.5h0m0 7h0m0 5h0m0 21.5h0m0 8h0m0 17h0m0 17.5h0m1-4.5h0m0 157h0m.5-167h0m1 6h0m.5 23h0m0 10.5h0m0 7h0m0 3.5h0m0 9h0m.5-35.5h0m0 1.5h0m0 7h0m.5 44.5h0m0 93.5h0m1 1h0m1.5-131.5h0m.5 23.5h0m0 105h0m.5-114h0m.5 28h0m.5-36h0m0 11h0m.5-22.5h0m0 40.5h0m.5-67h0m.5 14h0m0 4.5h0m0 9.5h0m0 130.5h0m.5-145h0m0 25.5h0m0 4h0m.5-71h0m0 54h0m.5-4.5h0m.5-89.5h0m0 83.5h0m0 3.5h0m.5-66.5h0m0 18h0m0 6h0m0 27h0m0 35h0m0 .5h0m.5-79.5h0m0 63.5h0m0 7.5h0m.5-107h0m0 8h0m0 24h0m0 18.5h0m0 11h0m0 13.5h0m0 4.5h0m.5-67h0m0 14.5h0m0 9h0m0 21.5h0m0 15.5h0m0 35.5h0m.5-41.5h0m0 36h0m.5 19h0m0 9.5h0m1 105.5h0m1-126h0m.5 126h0m2-123h0m0 3.5h0m0 13h0m.5-37h0m0 15.5h0m2 8h0m0 19.5h0m.5-22.5h0m0 26h0m.5-58.5h0m1-34h0m.5 22.5h0m0 165.5h0m.5-178h0m0 .5h0m0 41.5h0m0 10.5h0m0 125.5h0m.5-176.5h0m0 72.5h0m.5-53.5h0m0 44h0m.5-62.5h0m0 39h0m0 27h0m.5-62h0m0 37.5h0m.5 31h0m.5 5.5h0m0 5.5h0m.5-4h0m1.5 96h0m1-133h0m1 132h0m1-101.5h0m1-118h0m0 9.5h0m0 10.5h0m0 .5h0m0 16.5h0m0 5.5h0m0 14.5h0m0 4.5h0m0 9.5h0m0 10h0m0 2h0m0 28.5h0m.5-93.5h0m0 17.5h0m0 11h0m0 8h0m0 8h0m0 4h0m0 8h0m0 21h0m0 29.5h0m.5-119.5h0m0 6h0m0 36.5h0m0 3.5h0m0 24h0m0 45h0m.5-85.5h0m0 54.5h0m0 19h0m.5-8.5h0m1-134.5h0m0 2.5h0m0 25h0m0 54h0m0 56h0m.5-164h0m0 7h0m0 3.5h0m0 19h0m0 35h0m0 1h0m0 61h0m0 155.5h0m.5-291.5h0m0 14.5h0m0 83.5h0m0 40.5h0m0 14h0m0 23h0m0 10h0m0 6.5h0m.5-192.5h0m0 41h0m0 51.5h0m0 10h0m0 8.5h0m0 13.5h0m0 6.5h0m0 12.5h0m0 7h0m0 15h0m0 3.5h0m0 9h0m.5-106.5h0m0 26.5h0m0 16h0m.5-111h0m0 56.5h0m0 97.5h0m0 134.5h0m.5-234h0m0 71.5h0m0 29h0m0 4.5h0m0 42h0m.5-199.5h0m0 117.5h0m0 59h0m0 13h0m.5 95.5h0m.5-143.5h0m0 52h0m1-15h0m1 31.5h0m.5-5.5h0m.5-3.5h0m.5-38.5h0m.5 35.5h0m1-10.5h0m0 25h0m0 72h0m.5 2h0m.5-158h0m.5 78h0m1-65.5h0m0 19h0m0 3h0m0 7h0m0 9h0m.5-38h0m0 12.5h0m0 26.5h0m.5-18.5h0m0 32h0m0 95h0m.5-159h0m0 39h0m0 43h0m.5-77h0m0 6.5h0m0 2h0m0 37h0m0 8h0m0 1.5h0m.5-31h0m1-6h0m.5 11h0m0 18.5h0m1 104.5h0m.5-91.5h0m.5-24.5h0m0 15h0m0 22h0m.5-33.5h0m0 1.5h0m0 18h0m0 18h0m0 3h0m.5-42.5h0m0 .5h0m0 13h0m0 4.5h0m1 14h0m.5-24h0m0 47h0m.5-7.5h0m.5-21.5h0m.5 35h0m.5 54h0m.5-63.5h0m.5-16h0m1 81h0m.5-96h0m.5 48h0m2-6h0m0 11h0m1-42.5h0m0 17.5h0m0 67.5h0m1.5 2h0m.5-98h0m0 14.5h0m0 9.5h0m0 21.5h0m0 3h0m.5-48h0m0 6h0m0 2.5h0m0 9h0m0 14h0m0 4h0m0 2h0m.5-26.5h0m0 6.5h0m0 2.5h0m0 4h0m0 8.5h0m.5-30h0m0 2.5h0m0 22.5h0m0 7.5h0m0 62.5h0m1.5-.5h0m.5-58.5h0m1 57.5h0m1.5-83h0m1.5 10.5h0m.5 2h0m.5-56h0m0 63.5h0m.5-.5h0m.5 3.5h0m.5-84h0m0 144h0m.5-69.5h0m.5-40h0m1.5 22h0m.5-2.5h0m0 3.5h0m0 9.5h0m.5-52h0m0 12h0m0 13.5h0m.5-21h0m0 30.5h0m0 96.5h0m.5-163h0m0 19.5h0m0 4h0m0 14h0m0 .5h0m0 5.5h0m0 8.5h0m0 14.5h0m.5-77.5h0m0 2h0m0 .5h0m0 8.5h0m0 7.5h0m0 7h0m0 33h0m0 18.5h0m.5 10.5h0m.5-63h0m1 148.5h0m.5-83h0m1-61.5h0m0 65h0m0 4h0m.5-77.5h0m.5 59h0m.5 5h0m.5-9h0m1-18h0m0 43.5h0m0 74.5h0m2-85h0m.5-1h0m0 83.5h0m1.5-184h0m0 50h0m0 39h0m.5 8h0m0 6h0m0 5h0m.5-53.5h0m0 36.5h0m2.5-53.5h0m0 23h0m0 5.5h0m0 9h0m.5-51h0m0 25.5h0m0 19h0m0 114.5h0m.5-155h0m0 57.5h0m.5-75h0m0 1.5h0m0 9h0m0 31h0m0 18.5h0m0 10.5h0m.5-86h0m0 3.5h0m0 4h0m0 15.5h0m0 20h0m0 3.5h0m0 3h0m0 4h0m0 29h0m.5-90.5h0m0 7h0m0 11.5h0m0 24.5h0m0 1.5h0m0 3h0m0 21h0m0 18h0m0 108.5h0m.5-193h0m0 9.5h0m0 11.5h0m0 8h0m0 6h0m0 .5h0m0 8h0m0 27h0m0 7h0m0 25.5h0m.5-71.5h0m0 22h0m0 19.5h0m.5 11h0m1 6h0m0 20h0m.5-13h0m0 10h0m.5-12.5h0m0 31.5h0m1-29.5h0m0 18.5h0m0 4.5h0m0 74h0m.5-115.5h0m.5 40h0m.5-70h0m.5 51h0m1 95.5h0m1.5-63.5h0m0 8.5h0m.5 55h0m1.5-78h0m0 7.5h0m0 8.5h0m.5-23.5h0m.5 8h0m0 23.5h0m.5 55h0m1-85.5h0m.5-23.5h0m0 48h0m.5-53h0m0 11h0m0 3h0m.5-38.5h0m0 31h0m0 6.5h0m0 5h0m0 96h0m.5-140.5h0m0 13.5h0m0 34h0m.5-31.5h0m0 2.5h0m0 4.5h0m0 5.5h0m0 4h0m.5-12.5h0m0 58h0m.5 4.5h0m1-39h0m0 4.5h0m0 6h0m0 18h0m.5-26.5h0m0 5h0m0 7.5h0m0 .5h0m0 3.5h0m0 5h0m0 13.5h0m.5-8.5h0m0 6h0m0 61.5h0m.5-87h0m0 12.5h0m0 3h0m.5-7h0m1.5-24h0m2.5 104h0m.5-68h0m0 10.5h0m.5-5h0m1 61h0m.5-110h0m1 11h0m0 24h0m.5-19.5h0m0 7h0m0 7.5h0m0 10h0m0 1h0m.5-34h0m0 19.5h0m0 17.5h0m.5-67.5h0m0 18.5h0m0 2h0m0 4.5h0m0 18h0m0 5.5h0m0 7.5h0m0 1.5h0m0 15h0m.5-34.5h0m.5 3h0m0 10h0m.5-18h0m.5-4.5h0m.5 33.5h0m.5 72.5h0m1.5 1h0m1.5-62.5h0m2-2.5h0m.5-23.5h0m0 2.5h0m0 4h0m0 8h0m0 14.5h0m.5-19.5h0m0 9.5h0m3 69h0m1.5-89h0m0 5.5h0m0 83.5h0m.5-88h0m0 18.5h0m.5-19h0m0 8.5h0m0 4h0m0 3h0m0 8h0m2.5 64h0m3-64h0m1-26h0m0 90h0m.5-59.5h0m.5-76h0m1.5 26h0m0 10h0m1 43h0m0 58.5h0m.5-112.5h0m0 45.5h0m3-2h0m0 68.5h0m1.5-76h0m0 3h0m0 12h0m0 59h0m1.5-99h0m0 3.5h0m0 7h0m0 13.5h0m.5 1h0m.5-29h0m.5 7h0m0 10.5h0m0 5.5h0m2.5 79.5h0m.5 .5h0m1-105.5h0m.5 21.5h0m.5-21h0m0 35.5h0m.5-28.5h0m0 24.5h0m.5-2.5h0m.5-19.5h0m.5 95h0m.5-103h0m1.5 38.5h0m.5 66h0m1-78h0m.5 16h0m.5-5.5h0m1-18h0m0 4h0m0 2h0m0 81h0m.5-146.5h0m1 87.5h0m.5 2.5h0m.5-30.5h0m0 20.5h0m.5 66h0m1.5-68h0m1.5 15h0m1 54h0m2 0h0m1.5 0h0m1.5-51.5h0m1-27h0m.5-18.5h0m2 95.5h0m.5-63.5h0m0 6h0m2-28.5h0m0 38h0m0 49.5h0m2-.5h0m.5-55.5h0m.5 1.5h0m3-3h0m0 6.5h0m1-12.5h0m0 9h0m.5 53.5h0m1-71h0m0 24.5h0m.5-27.5h0m.5-42h0m0 51h0m2-23h0m.5-40.5h0m0 1.5h0m0 4h0m0 12.5h0m0 8.5h0m.5 3.5h0m0 1h0m0 4h0m0 16.5h0m0 15.5h0m0 16h0m.5-78h0m0 11.5h0m0 1.5h0m0 2h0m0 31h0m0 13h0m.5-56.5h0m0 .5h0m0 29.5h0m0 3h0m0 7h0m0 17h0m0 65h0m2-.5h0m.5-55.5h0m.5 4.5h0m2.5-29h0m1 80h0m1-66h0m0 10h0m1 55.5h0m1.5-50.5h0m2-16.5h0m0 66.5h0m1-53.5h0m.5-14.5h0m1-24h0m0 4h0m0 89h0m.5-109.5h0m0 1h0m0 2h0m0 3h0m0 19h0m0 4.5h0m0 2.5h0m0 17.5h0m.5-41h0m0 3.5h0m0 7h0m0 8.5h0m0 8h0m0 4h0m0 7.5h0m.5-45h0m0 15.5h0m0 8h0m0 10h0m0 16h0m0 4.5h0m.5-47h0m0 3h0m0 8.5h0m0 13h0m0 14.5h0m0 3h0m3.5-7.5h0m1-20h0m0 84.5h0m1-92h0m0 20h0m.5 8h0m0 12h0m1.5-3h0m1-39h0m0 35.5h0m.5-9h0m.5 69h0m1-72.5h0m.5-.5h0m.5 0h0m0 72.5h0m.5-104.5h0m0 28.5h0m0 7.5h0m1 2h0m1-16.5h0m0 5h0m.5 15.5h0m.5 64h0m1-104h0m0 102.5h0m1.5-70h0m.5-16.5h0m2 19.5h0m1 66h0m1.5-80.5h0m0 17.5h0m3-1.5h0m0 65h0m1-75.5h0m0 3.5h0m.5 71h0m1-75.5h0m.5-1h0m0 10h0m1.5-39.5h0m0 12.5h0m1.5 7.5h0m1-1.5h0m0 3h0m.5-33.5h0m0 41h0m0 3h0m0 74h0m.5-149h0m0 6.5h0m0 3h0m0 44h0m.5-60h0m0 8h0m0 4.5h0m0 35.5h0m0 2.5h0m0 6h0m.5-24h0m0 22.5h0m.5-48.5h0m.5 9.5h0m0 7.5h0m0 10h0m0 20.5h0m.5-11h0m0 3.5h0m.5-9.5h0m0 10.5h0m0 1.5h0m0 12.5h0m.5-26.5h0m0 22h0m1.5-16.5h0m0 115.5h0m1-194h0m1 57h0m.5 24h0m1 0h0m0 21h0m.5 94h0m1-86.5h0m.5-5h0m.5-62.5h0m0 17h0m0 6.5h0m0 37h0m0 18h0m0 5h0m.5-85.5h0m0 29h0m0 1.5h0m0 46h0m.5-67h0m0 16.5h0m0 4h0m0 4h0m.5-40.5h0m0 7h0m0 73h0m.5-80.5h0m0 29h0m0 0h0m0 15.5h0m0 9h0m.5 109.5h0m.5-2.5h0m2-96.5h0m.5 24h0m0 6.5h0m1.5-41h0m.5 19.5h0m0 7.5h0m0 2h0m.5-33.5h0m0 18.5h0m.5 7.5h0m0 82h0m.5-161.5h0m.5 66.5h0m.5 17.5h0m.5-32h0m0 17h0m.5 5h0m0 .5h0m.5-50h0m1-13h0m0 19h0m0 12h0m0 12h0m1-48h0m0 12.5h0m0 2h0m0 27h0m0 116h0m.5-152.5h0m0 73h0m.5-57h0m0 40.5h0m.5 11.5h0m.5-23h0m.5-55h0m.5 20h0m0 6h0m0 6h0m0 7.5h0m0 10.5h0m0 9h0m0 14.5h0m.5-39h0m0 10.5h0m0 18h0m.5-65h0m0 4h0m0 10.5h0m0 4h0m0 20h0m0 32h0m.5-74h0m0 11h0m0 157h0m.5-187h0m2 64.5h0m.5 125h0m.5-162h0m0 19h0m0 25.5h0m.5-19h0m.5-20h0m0 5h0m0 4.5h0m0 6.5h0m0 35h0m.5-31.5h0m0 21.5h0m.5-48.5h0m0 9.5h0m0 24.5h0m0 30h0m0 100.5h0m.5-120.5h0m.5-32h0m0 19.5h0m0 7h0m1 13h0m2-9h0m0 120h0m0 .5h0m.5-146h0m0 6h0m.5 10.5h0m0 4.5h0m.5-39.5h0m0 4h0m0 58h0m.5-60h0m0 2h0m0 41h0m.5-32.5h0m0 6h0m0 12.5h0m0 25.5h0m0 4h0m.5-38h0m0 7h0m0 10h0m2 22.5h0m.5 10h0m.5-39h0m0 48.5h0m0 81.5h0m.5-99.5h0m.5 100.5h0m.5-133h0m0 45.5h0m.5-7.5h0m1-82.5h0m0 100h0m1.5-73h0m0 10.5h0m0 20.5h0m0 3.5h0m0 6.5h0m.5-44h0m0 18h0m0 9h0m0 5.5h0m0 10.5h0m0 12.5h0m0 7.5h0m0 89.5h0m.5-105h0m0 13.5h0m.5-47h0m.5 6.5h0m.5 40h0m0 8h0m0 84h0m.5-99.5h0m.5-23.5h0m0 43.5h0m.5-120.5h0m0 16h0m0 6h0m0 14h0m.5-35.5h0m0 5.5h0m0 4h0m0 8h0m0 30.5h0m0 19h0m0 5h0m.5-44.5h0m0 13h0m0 17.5h0m0 31.5h0m0 3.5h0m0 20h0m.5-113.5h0m0 26.5h0m0 18.5h0m0 36h0m0 5.5h0m0 24h0m.5-114.5h0m0 11h0m0 4h0m0 3.5h0m0 47h0m0 36.5h0m.5-11h0m1 14h0m.5-27h0m1-42.5h0m0 75.5h0m0 93.5h0m1-83.5h0m1-22h0m.5-8.5h0m0 112.5h0m2-107.5h0m0 22.5h0m0 83.5h0m.5-95.5h0m0 8h0m.5-12h0m0 11h0m.5-10.5h0m.5-67.5h0m1.5 1h0m0 10.5h0m0 19h0m0 9h0m0 2h0m0 3.5h0m0 4.5h0m0 3.5h0m0 13h0m0 40.5h0m.5-91.5h0m0 5h0m0 7h0m0 6.5h0m0 21h0m0 41h0m0 4.5h0m.5-84h0m0 8.5h0m0 14.5h0m0 8.5h0m0 .5h0m0 7.5h0m0 9.5h0m0 4h0m0 6.5h0m0 27.5h0m0 7h0m.5-86.5h0m0 4h0m0 32h0m0 7h0m0 20h0m0 79h0m1-86h0m1 10.5h0m1-1h0m0 7h0m.5-25h0m1 97h0m.5-67.5h0m0 4h0m0 4h0m1.5-24.5h0m0 84.5h0m.5-91.5h0m2 13.5h0m.5 20.5h0m0 4.5h0m0 53.5h0m1-64h0m0 16h0m1 48h0m0 1h0m1-171.5h0m0 18.5h0m0 40.5h0m.5-23h0m0 21h0m0 42.5h0m.5-102h0m0 11.5h0m0 12.5h0m0 10.5h0m0 16h0m0 18.5h0m.5-48h0m0 18.5h0m0 32.5h0m1.5 43h0m.5 2.5h0m1-19.5h0m0 25h0m1-1.5h0m0 51h0m.5-126.5h0m0 53.5h0m.5-15.5h0m.5-58h0m0 84.5h0m1.5-115.5h0m0 30.5h0m0 51.5h0m0 1h0m0 1h0m0 26h0m.5-110.5h0m0 20h0m0 19h0m.5-24.5h0m0 27.5h0m0 64.5h0m.5-117h0m0 21h0m0 47h0m0 21h0m1 98h0m.5-.5h0m1-61.5h0m0 63h0m.5-74h0m.5-3.5h0m.5-76.5h0m0 70h0m1 5h0m0 3h0m.5-8h0m1-21.5h0m0 101h0m1-84h0m.5-32h0m0 29.5h0m.5-34h0m0 9.5h0m0 7h0m0 7h0m0 2h0m.5-24h0m0 9.5h0m0 3.5h0m0 15h0m1-123h0m0 91h0m.5-89.5h0m0 34h0m0 14h0m0 7.5h0m.5-43h0m0 .5h0m0 4h0m0 57h0m.5 6h0m0 133.5h0m.5-213.5h0m0 33h0m0 51.5h0m0 22h0m0 7h0m0 6.5h0m0 93h0m.5-97.5h0m.5-16h0m0 26h0m2-147h0m0 8.5h0m.5-16h0m.5 27h0m0 13.5h0m0 3.5h0m0 21.5h0m0 12h0m0 163.5h0m.5-175.5h0m0 28.5h0m.5-79.5h0m0 86h0m1-1.5h0m0 141.5h0m1-116h0m0 34h0m.5-36h0m0 32.5h0m.5-13.5h0m.5-4.5h0m0 8.5h0m.5-28h0m0 34h0m.5-31.5h0m0 13h0m0 4h0m0 12h0m.5-24.5h0m0 4.5h0m.5-3.5h0m0 15h0m.5-74h0m.5 173.5h0m1-108.5h0m0 12.5h0m1-48.5h0m.5 30.5h0m0 115.5h0m.5-142.5h0m0 51.5h0m0 91.5h0m1-99h0m0 5.5h0m1.5 9h0m0 81h0m1.5-205h0m.5 98.5h0m.5 19h0m.5-47.5h0m0 31h0m0 12h0m0 89h0m1-254h0m0 16h0m0 17h0m0 15.5h0m0 39h0m0 27.5h0m0 60h0m.5-171.5h0m0 47.5h0m0 30.5h0m0 23h0m0 56h0m.5-124.5h0m0 48.5h0m0 32h0m0 32h0m.5-134.5h0m0 4.5h0m0 8.5h0m0 2.5h0m0 30.5h0m0 7h0m0 52h0m0 22.5h0m0 11.5h0m.5-113.5h0m0 4h0m0 30.5h0m.5 90h0m.5-4.5h0m.5 9.5h0m1-73h0m0 56h0m.5-10.5h0m0 113h0m1-194.5h0m0 1.5h0m0 27.5h0m0 7.5h0m0 21.5h0m0 3.5h0m0 2h0m0 135.5h0m.5-257.5h0m0 47h0m0 9.5h0m0 25.5h0m0 54.5h0m.5-148h0m0 20.5h0m0 32.5h0m0 21.5h0m0 50h0m0 146.5h0m.5-254.5h0m0 17h0m0 62.5h0m0 11h0m0 30.5h0m0 35h0m.5-82.5h0m0 13.5h0m1 36.5h0m.5 8.5h0m0 28.5h0m1-58.5h0m0 56.5h0m1.5-8h0m0 80h0m0 2h0m0 10h0m0 7h0m.5-130.5h0m0 10h0m0 5.5h0m0 5.5h0m0 9h0m0 4.5h0m0 74.5h0m0 11.5h0m0 5.5h0m0 7h0m1-109h0m0 3.5h0m.5-31.5h0m.5-2.5h0m.5-23h0m0 12h0m0 6h0m.5-15h0m1-9h0m0 12h0m.5 4.5h0m.5 5h0m.5 119.5h0m.5-146.5h0m1-6h0m.5-6.5h0m.5-4h0m.5-9.5h0m0 2h0m0 4.5h0m0 1h0m.5-13.5h0m2 177.5h0m1 2h0m.5-308h0m0 5h0m0 1.5h0m0 8.5h0m0 16.5h0m0 2h0m0 7.5h0m0 20h0m0 12h0m0 23h0m0 4.5h0m0 31h0m.5-108h0m0 4h0m0 53h0m0 5h0m0 32h0m0 5h0m0 172h0m0 6h0m0 3.5h0m.5-304.5h0m0 14.5h0m0 99h0m0 162.5h0m.5-276h0m0 34h0m0 20h0m0 15h0m0 10.5h0m0 13.5h0m.5-86h0m0 5h0m0 25h0m0 16h0m0 3h0m0 8h0m0 74.5h0m0 155.5h0m.5-299.5h0m0 15h0m0 4h0m0 14.5h0m0 18.5h0m0 36h0m0 4.5h0m0 15h0m.5-70h0m0 13.5h0m0 36h0m0 14.5h0m0 15h0m.5-20h0m0 7h0m0 7h0m0 2h0m.5 165.5h0m0 15h0m.5-22h0m0 18h0m0 19.5h0m.5-23h0m.5-166.5h0m0 5.5h0m0 140.5h0m0 12.5h0m0 18.5h0m0 7.5h0m0 6.5h0m1-114.5h0m1.5-185h0m0 2h0m0 42h0m0 65h0m0 10.5h0m.5-88h0m0 92h0m.5-105.5h0m0 66h0m0 18.5h0m0 25.5h0m0 128.5h0m.5-240.5h0m0 69h0m0 21h0m0 10h0m0 131h0m0 26h0m.5-248h0m0 23h0m0 5h0m0 4h0m0 206.5h0m0 30.5h0m.5-14h0m0 3h0m0 4h0m0 4.5h0m0 5h0m.5-106.5h0m0 73.5h0m0 27.5h0m1.5-8h0m0 5h0m.5-168h0m0 131.5h0m.5-140h0m.5 13.5h0m0 4.5h0m.5-23h0m0 11.5h0m.5 129h0m2-26.5h0m.5 65.5h0m0 5.5h0m.5-187.5h0m.5 196h0m.5-4.5h0m0 3h0m.5 4.5h0m.5-22.5h0m.5-193.5h0m.5 19.5h0m0 188h0m.5-267h0m0 50.5h0m0 7.5h0m0 11h0m0 2.5h0m0 174.5h0m.5-252.5h0m0 29h0m0 17h0m0 0h0m0 5.5h0m0 197h0m0 8h0m.5-231.5h0m0 4h0m0 109h0m0 115.5h0m.5-245h0m0 1.5h0m0 2.5h0m0 40h0m0 218h0m.5-262.5h0m0 6.5h0m0 36.5h0m0 194h0m0 19h0m.5-263.5h0m0 38.5h0m0 4h0m0 5.5h0m0 13.5h0m0 6h0m0 5h0m0 70h0m.5-113h0m0 28h0m.5-1.5h0m1 20.5h0m0 14h0m1-6.5h0m.5-22.5h0m0 190h0m0 16h0m.5 5h0m.5-209h0m0 7h0m0 24h0m0 161.5h0m0 5h0m0 15h0m0 .5h0m.5-203.5h0m0 7h0m0 8h0m0 9h0m1 150h0m3-170.5h0m0 24h0m0 178.5h0m.5-216h0m0 19h0m0 195h0m.5-223h0m0 5h0m0 35.5h0m0 177h0m.5-203h0m0 11h0m0 8.5h0m.5-17h0m0 23.5h0m0 174.5h0m1-263h0m0 135.5h0m0 122.5h0m.5-259.5h0m0 20.5h0m0 7.5h0m0 235h0m.5-268.5h0m0 44.5h0m0 4.5h0m0 7.5h0m.5-78.5h0m0 43h0m0 9h0m0 8.5h0m0 198h0m0 11.5h0m.5-263h0m0 38.5h0m0 190.5h0m.5-241.5h0m0 267h0m0 22h0m.5-254h0m0 33h0m0 132h0m0 36.5h0m0 10h0m0 5h0m0 7.5h0m0 23.5h0m.5-27.5h0m0 16h0m.5 9.5h0m.5-50h0m.5-25h0m0 3h0m0 18h0m.5-139h0m.5-37.5h0m0 6h0m.5-8h0m1 197h0m.5-44h0m.5-160h0m0 171h0m0 21.5h0m0 4h0m.5-201h0m0 167.5h0m0 15h0m0 3.5h0m0 16h0m.5-29h0m.5-196h0m0 212.5h0m.5-214.5h0m0 3.5h0m0 12h0m0 19h0m0 6h0m0 140.5h0m0 20h0m.5-177h0m0 184.5h0m1.5-33.5h0m1-134h0m0 171h0m0 8.5h0m.5-24.5h0m0 33.5h0m0 6h0m0 .5h0m0 2.5h0m.5-220h0m0 12.5h0m0 194h0m.5-204.5h0m0 180h0m0 15.5h0m0 22h0m0 7h0m0 8.5h0m.5-243.5h0m0 15.5h0m0 215.5h0m0 10h0m.5-245.5h0m0 10h0m0 164h0m0 63h0m.5-230.5h0m0 191h0m.5 3.5h0m0 25h0m.5-23h0m0 16.5h0m.5-43.5h0m0 49h0m.5-194.5h0m0 130.5h0m0 10.5h0m0 12h0m.5-199.5h0m0 44.5h0m0 127.5h0m0 30.5h0m.5-198.5h0m0 7.5h0m.5-44h0m0 42h0m0 5.5h0m0 17h0m0 16.5h0m.5-78.5h0m.5 11.5h0m0 13.5h0m0 230.5h0m0 14h0m.5-277h0m0 248.5h0m.5-247.5h0m0 14.5h0m0 221h0m0 27.5h0m0 5h0m0 3.5h0m.5-65h0m.5-203h0m0 2.5h0m0 4h0m0 11h0m0 2.5h0m0 3.5h0m0 205h0m0 11.5h0m0 14h0m.5-32.5h0m0 15.5h0m0 11.5h0m0 0h0m.5-34.5h0m1.5-5.5h0m0 17.5h0m.5-17.5h0m0 29.5h0m.5-20.5h0m.5-66.5h0m0 38h0m1-179h0m0 4.5h0m0 215.5h0m.5-209.5h0m0 28h0m0 156.5h0m.5-181.5h0m0 7h0m0 4.5h0m0 4h0m.5-30h0m0 16.5h0m0 188h0m0 20.5h0m.5-213.5h0m0 23.5h0m0 178.5h0m0 29h0m.5-237h0m0 169.5h0m0 94.5h0m.5-16.5h0m.5-113.5h0m0 88.5h0m.5 7.5h0m0 5.5h0m0 6h0m.5-16.5h0m0 22.5h0m0 24h0m.5-246h0m0 5.5h0m0 8h0m0 136h0m0 85.5h0m.5 6h0m.5 6.5h0m1-19h0m1 3.5h0m.5-4.5h0m0 30.5h0m.5-14h0m.5-234.5h0m0 8.5h0m0 234.5h0m.5 6h0m1-7h0m1.5-6.5h0m.5-11h0m.5-53h0m0 39.5h0m0 21.5h0m0 5.5h0m.5-243h0m0 122.5h0m0 113h0m.5-238h0m0 6.5h0m0 11h0m0 166.5h0m0 42h0m.5-246.5h0m0 4h0m0 253h0m.5-246.5h0m0 131.5h0m0 52.5h0m0 18.5h0m0 3h0m0 7.5h0m.5-192h0m0 1.5h0m0 214.5h0m.5-232.5h0m0 5h0m0 75h0m0 74.5h0m.5 60h0m0 12h0m.5-82h0m0 32.5h0m.5-198h0m0 163.5h0m0 44.5h0m0 7h0m0 13h0m0 16h0m.5-88.5h0m0 34.5h0m0 5.5h0m.5-196.5h0m0 147.5h0m0 24h0m0 30.5h0m0 70.5h0m.5-281h0m0 21h0m0 94h0m0 76h0m0 31h0m0 45.5h0m0 6h0m.5-272h0m0 4h0m0 7.5h0m0 237h0m.5-249h0m0 7h0m0 9.5h0m0 93h0m0 44h0m0 63.5h0m0 26.5h0m0 32.5h0m0 9h0m.5-282h0m0 7.5h0m0 240.5h0m0 18.5h0m.5-108.5h0m0 100h0m.5 10h0m.5-48h0m.5-198.5h0m0 145h0m0 74h0m0 13.5h0m1-100h0m0 32h0m0 12.5h0m0 7.5h0m0 4.5h0m0 12h0m0 58.5h0m.5-4h0m.5-117h0m0 11h0m0 3.5h0m0 4.5h0m0 0h0m0 8.5h0m0 6.5h0m0 9.5h0m0 7.5h0m0 34.5h0m.5-54.5h0m0 7h0m0 14h0m0 1.5h0m0 12h0m0 32.5h0m.5-9.5h0m.5-231h0m.5 27h0m0 175.5h0m0 51.5h0m.5-255.5h0m0 2h0m0 221h0m.5-216h0m.5 151.5h0m0 86h0m.5-64.5h0m0 20.5h0m0 .5h0m0 7h0m.5 17h0m.5-56h0m0 16h0m0 1h0m0 49h0m.5-82h0m0 9h0m0 2.5h0m0 56.5h0m.5-189h0m.5 144h0m0 21h0m0 57.5h0m.5-61.5h0m0 40h0m.5-229.5h0m0 212h0m0 51.5h0m.5-268h0m0 27h0m0 163h0m0 16h0m.5-224.5h0m0 176h0m.5-180.5h0m0 6.5h0m0 3.5h0m0 .5h0m0 4h0m0 1.5h0m0 1.5h0m0 16.5h0m0 9.5h0m0 191.5h0m0 14h0m0 38.5h0m0 5h0m.5-294h0m0 27.5h0m.5 222h0m.5-226h0m0 199h0m0 22.5h0m.5-18h0m0 40.5h0m.5-81.5h0m.5 55.5h0m.5 16.5h0m0 23h0m0 8.5h0m.5-26.5h0m.5-7.5h0m.5-209.5h0m0 223h0m.5-260.5h0m0 4.5h0m0 3.5h0m0 4.5h0m0 232h0m0 24h0m.5-246.5h0m0 7h0m0 13.5h0m.5-33.5h0m0 17.5h0m0 192h0m0 40h0m.5-264.5h0m0 12h0m0 11.5h0m.5 159h0m.5-176h0m0 14h0m0 4.5h0m0 4h0m.5 11h0m0 146h0m0 52h0m0 9h0m.5-204.5h0m0 48h0m0 12.5h0m0 17.5h0m0 4.5h0m0 25.5h0m0 35h0m0 76h0m0 28.5h0m.5-259h0m0 5.5h0m0 19.5h0m0 7.5h0m0 19.5h0m0 4.5h0m0 27h0m0 12h0m0 11.5h0m0 9.5h0m0 12h0m0 6h0m0 2.5h0m0 22h0m0 4.5h0m0 8h0m0 6h0m0 23.5h0m.5-171.5h0m0 9.5h0m0 6.5h0m0 18.5h0m0 13.5h0m0 31h0m0 5h0m0 8.5h0m0 20.5h0m0 24h0m0 17h0m0 5h0m.5-184.5h0m0 12h0m0 4.5h0m0 11.5h0m0 14.5h0m0 20h0m0 14h0m0 20h0m0 2.5h0m0 28.5h0m0 16.5h0m0 47h0m0 11h0" stroke="#1f77b4" stroke-width="5.2" stroke-linecap="round"/><path d="M116.5 747.9L117.4 696.3L118.4 780.1L119.3 824.3L120.2 868.8L121.2 903.6L122.1 865.5L123.0 805.2L124.0 843.4L124.9 812.9L125.8 772.2L126.8 747.9L127.7 702.9L128.7 675.3L129.6 795.7L130.5 832.2L131.5 900.0L132.4 859.9L133.3 833.9L134.3 872.1L135.2 873.1L136.1 877.3L137.1 881.6L138.0 825.8L138.9 805.2L139.9 757.5L140.8 780.5L141.7 816.5L142.7 862.5L143.6 815.5L144.5 767.0L145.5 696.3L146.4 712.7L147.3 740.3L148.3 757.5L149.2 787.7L150.2 807.1L151.1 767.5L152.0 728.8L153.0 749.7L153.9 780.4L154.8 761.3L155.8 735.5L156.7 744.2L157.6 762.2L158.6 744.9L159.5 717.3L160.4 698.2L161.4 726.9L162.3 745.2L163.2 773.7L164.2 744.1L165.1 688.7L166.0 712.7L167.0 745.1L167.9 778.3L168.8 793.7L169.8 716.1L170.7 686.8L171.6 722.1L172.6 747.9L173.5 806.0L174.5 862.5L175.4 901.7L176.3 941.2L177.3 924.4L178.2 880.9L179.1 843.4L180.1 854.7L181.0 868.9L181.9 871.1L182.9 800.1L183.8 742.7L184.7 686.8L185.7 779.7L186.6 883.5L187.5 824.0L188.5 747.9L189.4 714.4L190.3 674.4L191.3 714.6L192.2 744.1L193.1 720.6L194.1 690.6L195.0 662.1L196.0 628.5L196.9 628.8L197.8 632.6L198.8 630.4L199.7 843.4L200.6 976.5L201.6 986.5L202.5 990.1L203.4 989.1L204.4 989.9L205.3 993.5L206.2 993.6L207.2 986.7L208.1 983.6L209.0 992.2L210.0 997.5L210.9 988.4L211.8 985.1L212.8 997.3L213.7 1002.9L214.6 996.6L215.6 992.3L216.5 994.1L217.4 990.3L218.4 984.7L219.3 988.0L220.3 995.6L221.2 1001.2L222.1 1002.9L223.1 996.4L224.0 994.0L224.9 991.0L225.9 981.9L226.8 975.2L227.7 973.6L228.7 978.9L229.6 984.7L230.5 985.1L231.5 982.9L232.4 977.8L233.3 966.8L234.3 962.1L235.2 969.0L236.1 968.4L237.1 958.5L238.0 958.0L238.9 959.7L239.9 950.8L240.8 940.7L241.8 872.5L242.7 747.9L243.6 712.5L244.6 652.4L245.5 655.1L246.4 669.6L247.4 676.2L248.3 681.1L249.2 704.0L250.2 674.1L251.1 650.3L252.0 633.3L253.0 681.5L253.9 695.4L254.8 681.1L255.8 684.9L256.7 696.9L257.6 706.8L258.6 633.3L259.5 647.3L260.4 659.5L261.4 662.0L262.3 680.8L263.3 685.8L264.2 672.9L265.1 662.0L266.1 657.8L267.0 652.4L267.9 637.7L268.9 623.8L269.8 662.0L270.7 654.1L271.7 647.6L272.6 645.6L273.5 638.1L274.5 651.2L275.4 671.5L276.3 668.3L277.3 662.0L278.2 691.7L279.1 719.2L280.1 690.5L281.0 671.5L281.9 738.4L282.9 728.1L283.8 719.2L284.8 698.5L285.7 662.0L286.6 714.1L287.6 843.4L288.5 873.4L289.4 924.1L290.4 961.9L291.3 979.1L292.2 990.3L293.2 980.8L294.1 974.8L295.0 982.5L296.0 989.8L296.9 983.1L297.8 975.2L298.8 959.3L299.7 936.0L300.6 921.6L301.6 905.8L302.5 888.3L303.4 882.1L304.4 872.1L305.3 851.6L306.2 833.9L307.2 866.1L308.1 897.6L309.1 942.6L310.0 980.5L310.9 983.5L311.9 989.6L312.8 998.1L313.7 1000.4L314.7 1000.5L315.6 1002.4L316.5 1004.4L317.5 1003.8L318.4 1003.7L319.3 1006.4L320.3 1007.3L321.2 1004.6L322.1 1003.6L323.1 1005.2L324.0 1004.8L324.9 1003.1L325.9 1001.5L326.8 1000.0L327.7 998.3L328.7 998.3L329.6 999.0L330.6 998.6L331.5 997.8L332.4 997.6L333.4 998.1L334.3 998.4L335.2 994.6L336.2 989.7L337.1 991.6L338.0 995.4L339.0 991.6L339.9 985.7L340.8 986.4L341.8 992.4L342.7 995.7L343.6 999.7L344.6 978.9L345.5 937.8L346.4 830.7L347.4 767.0L348.3 728.1L349.2 700.2L350.2 729.3L351.1 747.9L352.1 704.9L353.0 666.7L353.9 628.5L354.9 680.3L355.8 747.9L356.7 763.8L357.7 795.7L358.6 791.1L359.5 778.8L360.5 776.6L361.4 856.9L362.3 905.3L363.3 940.3L364.2 969.1L365.1 975.4L366.1 981.7L367.0 985.6L367.9 989.7L368.9 993.6L369.8 997.5L370.7 1000.5L371.7 1002.5L372.6 1004.8L373.5 1008.6L374.5 1012.9L375.4 1014.6L376.4 1014.1L377.3 1014.5L378.2 1014.9L379.2 1014.0L380.1 1013.8L381.0 1015.0L382.0 1014.8L382.9 1013.3L383.8 1013.7L384.8 1015.1L385.7 1015.5L386.6 1015.6L387.6 1016.0L388.5 1016.5L389.4 1017.3L390.4 1017.5L391.3 1016.6L392.2 1016.6L393.2 1018.1L394.1 1019.2L395.0 1019.2L396.0 1019.3L396.9 1019.3L397.9 1019.3L398.8 1020.0L399.7 1021.1L400.7 1020.9L401.6 1019.7L402.5 1019.8L403.5 1020.8L404.4 1021.1L405.3 1020.7L406.3 1021.4L407.2 1022.7L408.1 1023.1L409.1 1022.8L410.0 1022.7L410.9 1022.5L411.9 1022.5L412.8 1022.8L413.7 1023.3L414.7 1023.5L415.6 1023.6L416.5 1024.0L417.5 1024.4L418.4 1024.6L419.4 1024.7L420.3 1025.0L421.2 1025.5L422.2 1025.6L423.1 1025.8L424.0 1026.0L425.0 1025.9L425.9 1026.2L426.8 1026.9L427.8 1027.3L428.7 1027.0L429.6 1026.9L430.6 1027.4L431.5 1027.7L432.4 1028.0L433.4 1028.5L434.3 1028.6L435.2 1028.5L436.2 1028.8L437.1 1029.2L438.0 1029.1L439.0 1028.9L439.9 1029.2L440.8 1029.6L441.8 1029.7L442.7 1029.5L443.7 1029.7L444.6 1029.9L445.5 1029.8L446.5 1029.8L447.4 1030.1L448.3 1030.4L449.3 1030.5L450.2 1030.7L451.1 1030.6L452.1 1030.4L453.0 1030.4L453.9 1030.6L454.9 1030.6L455.8 1030.5L456.7 1030.6L457.7 1030.5L458.6 1030.5L459.5 1030.6L460.5 1030.7L461.4 1030.5L462.3 1030.4L463.3 1030.4L464.2 1030.5L465.2 1030.7L466.1 1030.9L467.0 1030.8L468.0 1030.6L468.9 1030.6L469.8 1030.9L470.8 1030.9L471.7 1030.7L472.6 1030.8L473.6 1030.9L474.5 1030.8L475.4 1030.7L476.4 1030.8L477.3 1030.7L478.2 1030.7L479.2 1030.8L480.1 1030.9L481.0 1031.0L482.0 1031.0L482.9 1031.0L483.8 1030.9L484.8 1030.9L485.7 1031.0L486.6 1030.9L487.6 1030.9L488.5 1031.0L489.5 1031.1L490.4 1031.1L491.3 1030.9L492.3 1030.9L493.2 1031.1L494.1 1031.1L495.1 1031.0L496.0 1031.2L496.9 1031.3L497.9 1031.0L498.8 1030.9L499.7 1031.2L500.7 1031.2L501.6 1030.9L502.5 1030.9L503.5 1031.2L504.4 1031.1L505.3 1030.9L506.3 1031.0L507.2 1031.2L508.1 1031.1L509.1 1031.0L510.0 1031.0L511.0 1031.0L511.9 1031.1L512.8 1031.1L513.8 1031.0L514.7 1031.0L515.6 1031.2L516.6 1031.2L517.5 1031.1L518.4 1031.0L519.4 1031.1L520.3 1031.1L521.2 1031.2L522.2 1031.2L523.1 1031.1L524.0 1031.1L525.0 1031.2L525.9 1031.1L526.8 1031.0L527.8 1031.2L528.7 1031.1L529.6 1031.0L530.6 1031.0L531.5 1030.9L532.5 1030.8L533.4 1030.9L534.3 1031.3L535.3 1031.3L536.2 1031.1L537.1 1031.1L538.1 1031.2L539.0 1031.1L539.9 1031.2L540.9 1031.3L541.8 1031.1L542.7 1031.0L543.7 1031.1L544.6 1031.1L545.5 1031.0L546.5 1031.1L547.4 1031.2L548.3 1031.2L549.3 1031.2L550.2 1031.3L551.1 1031.2L552.1 1031.1L553.0 1031.2L554.0 1031.3L554.9 1031.2L555.8 1031.1L556.8 1031.1L557.7 1031.1L558.6 1031.1L559.6 1031.3L560.5 1031.3L561.4 1031.1L562.4 1031.2L563.3 1031.4L564.2 1031.3L565.2 1031.1L566.1 1031.1L567.0 1031.3L568.0 1031.2L568.9 1031.0L569.8 1031.0L570.8 1031.2L571.7 1031.3L572.6 1031.2L573.6 1031.2L574.5 1031.3L575.4 1031.4L576.4 1031.3L577.3 1031.2L578.3 1031.3L579.2 1031.3L580.1 1031.3L581.1 1031.3L582.0 1031.3L582.9 1031.2L583.9 1031.1L584.8 1031.1L585.7 1031.2L586.7 1031.2L587.6 1031.2L588.5 1031.3L589.5 1031.5L590.4 1031.4L591.3 1031.2L592.3 1031.3L593.2 1031.3L594.1 1031.3L595.1 1031.4L596.0 1031.4L596.9 1031.3L597.9 1031.3L598.8 1031.3L599.8 1031.2L600.7 1031.3L601.6 1031.4L602.6 1031.3L603.5 1031.2L604.4 1031.3L605.4 1031.4L606.3 1031.2L607.2 1031.3L608.2 1031.3L609.1 1031.3L610.0 1031.2L611.0 1031.3L611.9 1031.3L612.8 1031.2L613.8 1031.3L614.7 1031.3L615.6 1031.2L616.6 1031.0L617.5 1031.1L618.4 1031.4L619.4 1031.4L620.3 1031.2L621.2 1031.1L622.2 1031.2L623.1 1031.3L624.1 1031.3L625.0 1031.3L625.9 1031.2L626.9 1031.1L627.8 1031.1L628.7 1031.2L629.7 1031.2L630.6 1031.1L631.5 1031.1L632.5 1031.3L633.4 1031.2L634.3 1031.2L635.3 1031.2L636.2 1031.2L637.1 1031.2L638.1 1031.2L639.0 1031.2L639.9 1031.2L640.9 1031.1L641.8 1031.2L642.7 1031.3L643.7 1031.3L644.6 1031.3L645.6 1031.2L646.5 1031.1L647.4 1031.2L648.4 1031.3L649.3 1031.1L650.2 1031.0L651.2 1031.1L652.1 1031.2L653.0 1031.2L654.0 1031.2L654.9 1031.1L655.8 1031.1L656.8 1031.1L657.7 1030.9L658.6 1030.9L659.6 1031.0L660.5 1031.1L661.4 1031.1L662.4 1031.2L663.3 1031.2L664.2 1031.1L665.2 1031.0L666.1 1031.1L667.1 1031.3L668.0 1031.3L668.9 1031.2L669.9 1031.2L670.8 1031.2L671.7 1031.1L672.7 1031.0L673.6 1031.0L674.5 1031.0L675.5 1031.1L676.4 1031.1L677.3 1031.1L678.3 1031.0L679.2 1031.2L680.1 1031.3L681.1 1031.2L682.0 1030.9L682.9 1031.0L683.9 1031.2L684.8 1031.1L685.7 1031.0L686.7 1031.1L687.6 1031.2L688.5 1031.0L689.5 1031.0L690.4 1031.1L691.4 1031.1L692.3 1031.1L693.2 1031.2L694.2 1031.2L695.1 1031.0L696.0 1031.1L697.0 1031.2L697.9 1031.0L698.8 1030.8L699.8 1031.0L700.7 1031.1L701.6 1030.7L702.6 1030.3L703.5 1030.3L704.4 1030.3L705.4 1030.1L706.3 1029.9L707.2 1029.7L708.2 1029.3L709.1 1028.9L710.0 1028.9L711.0 1028.8L711.9 1028.3L712.9 1028.5L713.8 1029.0L714.7 1029.3L715.7 1029.2L716.6 1025.6L717.5 1020.8L718.5 1021.1L719.4 1025.4L720.3 1028.3L721.3 1028.6L722.2 1029.1L723.1 1029.2L724.1 1029.2L725.0 1029.5L725.9 1029.7L726.9 1029.9L727.8 1030.2L728.7 1030.3L729.7 1030.4L730.6 1030.6L731.5 1030.7L732.5 1030.6L733.4 1030.5L734.4 1030.7L735.3 1030.9L736.2 1030.7L737.2 1030.5L738.1 1030.5L739.0 1030.5L740.0 1030.3L740.9 1030.6L741.8 1030.8L742.8 1030.6L743.7 1030.3L744.6 1030.5L745.6 1030.8L746.5 1030.4L747.4 1030.1L748.4 1030.3L749.3 1030.7L750.2 1030.6L751.2 1030.6L752.1 1030.6L753.0 1028.6L754.0 1026.2L754.9 1024.7L755.9 1023.5L756.8 1024.7L757.7 1026.6L758.7 1025.7L759.6 1022.5L760.5 1019.6L761.5 1018.8L762.4 1019.1L763.3 1020.7L764.3 1022.9L765.2 1024.1L766.1 1023.7L767.1 1019.1L768.0 1016.5L768.9 1015.0L769.9 1010.9L770.8 1007.5L771.7 1006.5L772.7 1003.3L773.6 998.5L774.5 994.9L775.5 989.1L776.4 978.4L777.3 969.9L778.3 963.3L779.2 947.4L780.2 930.1L781.1 944.9L782.0 974.3L783.0 1004.0L783.9 998.2L784.8 988.2L785.8 988.8L786.7 996.0L787.6 991.3L788.6 979.3L789.5 967.3L790.4 969.6L791.4 985.7L792.3 967.6L793.2 951.0L794.2 958.7L795.1 973.1L796.0 982.5L797.0 965.1L797.9 950.7L798.8 941.7L799.8 951.5L800.7 963.6L801.7 972.0L802.6 963.2L803.5 948.6L804.5 962.8L805.4 949.1L806.3 867.2L807.3 803.5L808.2 747.9L809.1 716.7L810.1 690.6L811.0 761.0L811.9 795.7L812.9 747.9L813.8 739.8L814.7 731.5L815.7 719.2L816.6 704.2L817.5 678.0L818.5 649.3L819.4 628.5L820.3 661.1L821.3 684.5L822.2 700.2L823.1 786.1L824.1 768.6L825.0 747.9L826.0 808.0L826.9 843.4L827.8 795.7L828.8 760.4L829.7 719.2L830.6 656.9L831.6 605.6L832.5 758.8L833.4 843.4L834.4 782.0L835.3 747.9L836.2 626.6L837.2 717.5L838.1 843.4L839.0 932.3L840.0 876.6L840.9 671.5L841.8 746.2L842.8 843.4L843.7 886.1L844.6 941.8L845.6 838.6L846.5 865.2L847.5 902.4L848.4 938.1L849.3 963.3L850.3 951.5L851.2 934.9L852.1 941.4L853.1 961.5L854.0 928.5L854.9 851.0L855.9 886.0L856.8 950.0L857.7 1033.0L858.7 1008.9L859.6 967.2L860.5 966.3L861.5 954.6L862.4 929.6L863.3 925.2L864.3 878.7L865.2 924.9L866.1 952.4L867.1 984.7L868.0 985.4L869.0 963.5L869.9 963.9L870.8 964.2L871.8 959.5L872.7 954.6L873.6 947.8L874.6 919.7L875.5 883.1L876.4 865.4L877.4 931.1L878.3 959.8L879.2 959.2L880.2 952.7L881.1 963.8L882.0 964.7L883.0 954.2L883.9 964.0L884.8 979.2L885.8 982.6L886.7 985.1L887.6 973.4L888.6 961.5L889.5 934.7L890.5 937.6L891.4 962.7L892.3 984.8L893.3 983.4L894.2 981.4L895.1 984.5L896.1 985.4L897.0 974.7L897.9 966.2L898.9 977.5L899.8 985.3L900.7 983.0L901.7 980.3L902.6 984.9L903.5 989.0L904.5 992.1L905.4 993.3L906.3 942.2L907.3 886.7L908.2 853.9L909.1 957.9L910.1 1014.2L911.0 1004.1L911.9 995.0L912.9 988.5L913.8 978.9L914.8 969.3L915.7 961.0L916.6 939.7L917.6 937.3L918.5 955.6L919.4 981.2L920.4 969.1L921.3 934.3L922.2 919.9L923.2 930.0L924.1 935.0L925.0 951.4L926.0 970.2L926.9 937.2L927.8 863.5L928.8 877.1L929.7 913.6L930.6 948.4L931.6 971.5L932.5 977.0L933.4 974.9L934.4 975.0L935.3 973.5L936.3 966.5L937.2 949.6L938.1 924.5L939.1 900.3L940.0 884.0L940.9 864.4L941.9 895.6L942.8 921.5L943.7 968.9L944.7 983.6L945.6 948.9L946.5 914.9L947.5 883.5L948.4 906.7L949.3 929.9L950.3 965.4L951.2 973.7L952.1 974.2L953.1 981.7L954.0 987.8L954.9 977.8L955.9 962.2L956.8 964.3L957.8 971.4L958.7 964.2L959.6 955.7L960.6 948.9L961.5 925.1L962.4 892.3L963.4 886.0L964.3 880.6L965.2 922.6L966.2 966.0L967.1 1001.0L968.0 994.6L969.0 980.5L969.9 972.4L970.8 973.5L971.8 962.2L972.7 948.0L973.6 953.1L974.6 959.7L975.5 946.4L976.4 951.1L977.4 969.9L978.3 980.3L979.2 982.7L980.2 978.3L981.1 970.6L982.1 947.6L983.0 929.2L983.9 931.0L984.9 930.0L985.8 930.6L986.7 976.8L987.7 986.2L988.6 944.1L989.5 888.3L990.5 851.0L991.4 873.1L992.3 892.1L993.3 918.6L994.2 955.2L995.1 979.5L996.1 986.4L997.0 984.7L997.9 983.8L998.9 983.5L999.8 977.3L1000.7 963.8L1001.7 976.2L1002.6 993.8L1003.6 998.4L1004.5 992.5L1005.4 986.1L1006.4 988.1L1007.3 997.3L1008.2 1001.8L1009.2 1002.7L1010.1 998.8L1011.0 992.0L1012.0 978.3L1012.9 969.3L1013.8 982.2L1014.8 993.1L1015.7 1000.9L1016.6 1004.1L1017.6 1002.4L1018.5 991.0L1019.4 983.1L1020.4 992.3L1021.3 1001.8L1022.2 999.2L1023.2 994.5L1024.1 999.3L1025.0 1001.8L1026.0 995.6L1026.9 992.6L1027.9 996.0L1028.8 987.5L1029.7 964.3L1030.7 954.7L1031.6 961.8L1032.5 971.1L1033.5 973.9L1034.4 982.8L1035.3 987.0L1036.3 979.9L1037.2 968.7L1038.1 974.1L1039.1 988.6L1040.0 997.8L1040.9 988.6L1041.9 980.8L1042.8 980.2L1043.7 973.6L1044.7 958.4L1045.6 951.9L1046.5 955.7L1047.5 953.0L1048.4 941.1L1049.4 938.8L1050.3 958.0L1051.2 980.4L1052.2 995.2L1053.1 1003.6L1054.0 1006.1L1055.0 997.1L1055.9 989.1L1056.8 995.8L1057.8 1003.0L1058.7 1000.7L1059.6 999.9L1060.6 1006.2L1061.5 1007.6L1062.4 1007.6L1063.4 999.4L1064.3 997.0L1065.2 974.6L1066.2 965.0L1067.1 980.8L1068.0 995.6L1069.0 1000.7L1069.9 998.9L1070.9 994.9L1071.8 991.3L1072.7 994.9L1073.7 996.5L1074.6 994.7L1075.5 997.4L1076.5 999.0L1077.4 993.2L1078.3 985.7L1079.3 982.8L1080.2 986.4L1081.1 996.6L1082.1 1000.7L1083.0 999.0L1083.9 1001.1L1084.9 1001.5L1085.8 998.9L1086.7 1001.4L1087.7 1006.6L1088.6 1004.8L1089.5 999.0L1090.5 997.5L1091.4 1000.8L1092.3 1001.8L1093.3 996.1L1094.2 992.8L1095.2 996.6L1096.1 998.3L1097.0 995.3L1098.0 998.9L1098.9 1003.8L1099.8 1002.5L1100.8 995.9L1101.7 991.5L1102.6 985.1L1103.6 979.8L1104.5 982.2L1105.4 981.2L1106.4 980.3L1107.3 988.6L1108.2 993.9L1109.2 991.6L1110.1 977.3L1111.0 974.9L1112.0 988.5L1112.9 995.4L1113.8 996.6L1114.8 992.7L1115.7 994.0L1116.7 988.6L1117.6 988.8L1118.5 995.5L1119.5 1002.0L1120.4 1005.8L1121.3 1006.1L1122.3 1001.0L1123.2 994.5L1124.1 994.0L1125.1 991.5L1126.0 989.1L1126.9 999.1L1127.9 1006.5L1128.8 1001.0L1129.7 999.1L1130.7 1004.4L1131.6 1003.5L1132.5 999.5L1133.5 1003.0L1134.4 1006.5L1135.3 1005.7L1136.3 1005.9L1137.2 1005.6L1138.2 1004.9L1139.1 1008.4L1140.0 1008.5L1141.0 1004.0L1141.9 998.9L1142.8 1001.4L1143.8 1008.3L1144.7 1012.2L1145.6 1009.6L1146.6 1005.9L1147.5 1003.2L1148.4 1002.6L1149.4 1002.1L1150.3 1002.9L1151.2 1004.2L1152.2 1007.1L1153.1 997.3L1154.0 977.0L1155.0 975.2L1155.9 994.4L1156.8 1009.0L1157.8 1009.5L1158.7 1009.2L1159.7 1007.5L1160.6 1006.4L1161.5 1006.7L1162.5 1004.8L1163.4 1002.7L1164.3 1003.2L1165.3 1004.2L1166.2 1006.9L1167.1 1010.7L1168.1 1007.9L1169.0 1003.0L1169.9 1001.2L1170.9 1001.5L1171.8 994.6L1172.7 986.0L1173.7 994.3L1174.6 1003.4L1175.5 1004.2L1176.5 1001.6L1177.4 996.8L1178.3 988.8L1179.3 984.1L1180.2 985.3L1181.1 984.7L1182.1 982.1L1183.0 994.7L1184.0 1002.1L1184.9 996.1L1185.8 991.7L1186.8 997.3L1187.7 1000.8L1188.6 1000.8L1189.6 1003.5L1190.5 1004.4L1191.4 990.6L1192.4 983.0L1193.3 981.3L1194.2 982.7L1195.2 986.2L1196.1 998.3L1197.0 1005.4L1198.0 999.0L1198.9 990.3L1199.8 989.5L1200.8 995.5L1201.7 999.0L1202.6 1006.4L1203.6 1003.4L1204.5 994.2L1205.5 990.8L1206.4 996.2L1207.3 1001.4L1208.3 1001.6L1209.2 998.7L1210.1 998.6L1211.1 996.5L1212.0 991.3L1212.9 987.3L1213.9 988.8L1214.8 989.8L1215.7 984.6L1216.7 977.1L1217.6 976.4L1218.5 986.7L1219.5 995.8L1220.4 995.8L1221.3 992.3L1222.3 986.8L1223.2 988.0L1224.1 981.5L1225.1 973.8L1226.0 975.7L1227.0 985.8L1227.9 985.5L1228.8 974.4L1229.8 963.1L1230.7 956.3L1231.6 957.1L1232.6 965.6L1233.5 967.3L1234.4 969.6L1235.4 969.3L1236.3 974.2L1237.2 972.7L1238.2 958.4L1239.1 949.6L1240.0 961.7L1241.0 978.6L1241.9 988.0L1242.8 993.7L1243.8 980.7L1244.7 967.0L1245.6 940.0L1246.6 958.1L1247.5 982.0L1248.4 992.6L1249.4 993.7L1250.3 995.3L1251.3 995.6L1252.2 990.3L1253.1 983.9L1254.1 978.5L1255.0 972.7L1255.9 985.0L1256.9 992.0L1257.8 970.4L1258.7 948.8L1259.7 942.4L1260.6 961.2L1261.5 975.4L1262.5 981.3L1263.4 971.3L1264.3 959.2L1265.3 969.1L1266.2 985.3L1267.1 995.6L1268.1 987.4L1269.0 973.5L1269.9 960.9L1270.9 956.6L1271.8 961.9L1272.8 978.9L1273.7 995.7L1274.6 997.3L1275.6 993.9L1276.5 991.4L1277.4 990.7L1278.4 987.1L1279.3 987.2L1280.2 989.5L1281.2 989.7L1282.1 991.2L1283.0 991.6L1284.0 988.4L1284.9 984.4L1285.8 976.0L1286.8 962.8L1287.7 965.6L1288.6 974.8L1289.6 982.0L1290.5 978.6L1291.4 973.0L1292.4 964.3L1293.3 961.9L1294.2 971.4L1295.2 977.3L1296.1 978.5L1297.1 981.9L1298.0 988.9L1298.9 980.7L1299.9 973.2L1300.8 957.0L1301.7 934.7L1302.7 939.5L1303.6 952.2L1304.5 956.4L1305.5 962.3L1306.4 967.8L1307.3 967.9L1308.3 958.4L1309.2 956.7L1310.1 961.1L1311.1 951.5L1312.0 946.5L1312.9 961.7L1313.9 969.1L1314.8 960.9L1315.7 955.8L1316.7 954.7L1317.6 958.8L1318.6 971.3L1319.5 968.3L1320.4 952.3L1321.4 950.3L1322.3 960.5L1323.2 961.3L1324.2 960.8L1325.1 973.1L1326.0 984.0L1327.0 962.2L1327.9 927.2L1328.8 919.6L1329.8 922.8L1330.7 943.5L1331.6 966.7L1332.6 961.7L1333.5 944.1L1334.4 927.6L1335.4 931.3L1336.3 949.4L1337.2 965.1L1338.2 969.9L1339.1 972.1L1340.1 975.5L1341.0 951.0L1341.9 922.5L1342.9 889.7L1343.8 882.6L1344.7 887.7L1345.7 889.7L1346.6 869.2L1347.5 894.0L1348.5 908.6L1349.4 917.4L1350.3 906.8L1351.3 922.2L1352.2 933.3L1353.1 919.4L1354.1 852.7L1355.0 768.9L1355.9 818.6L1356.9 834.0L1357.8 843.4L1358.7 851.0L1359.7 863.5L1360.6 864.1L1361.5 867.9L1362.5 869.2L1363.4 885.0L1364.4 890.1L1365.3 901.7L1366.2 918.4L1367.2 903.6L1368.1 871.7L1369.0 865.4L1370.0 862.6L1370.9 879.1L1371.8 877.8L1372.8 861.3L1373.7 867.4L1374.6 878.3L1375.6 852.0L1376.5 853.8L1377.4 883.0L1378.4 903.1L1379.3 898.4L1380.2 904.3L1381.2 913.2L1382.1 905.4L1383.0 885.4L1384.0 894.5L1384.9 898.3L1385.9 881.3L1386.8 876.3L1387.7 879.4L1388.7 866.3L1389.6 859.5L1390.5 877.5L1391.5 895.2L1392.4 887.5L1393.3 875.5L1394.3 864.8L1395.2 853.8L1396.1 840.6L1397.1 828.1L1398.0 845.1L1398.9 865.8L1399.9 885.4L1400.8 847.6L1401.7 851.3L1402.7 826.2L1403.6 846.2L1404.5 830.9L1405.5 824.3L1406.4 836.5L1407.4 853.0L1408.3 831.7L1409.2 804.0L1410.2 729.8L1411.1 719.0L1412.0 774.7L1413.0 817.2L1413.9 828.2L1414.8 838.6L1415.8 837.1L1416.7 824.3L1417.6 818.2L1418.6 834.8L1419.5 823.1L1420.4 768.0L1421.4 785.9L1422.3 824.5L1423.2 843.9L1424.2 859.5L1425.1 879.2L1426.0 894.5L1427.0 867.3L1427.9 854.3L1428.8 844.3L1429.8 810.9L1430.7 775.0L1431.7 752.3L1432.6 747.9L1433.5 764.4L1434.5 734.3L1435.4 712.5L1436.3 711.6L1437.3 738.8L1438.2 715.6L1439.1 700.9L1440.1 713.5L1441.0 732.7L1441.9 744.9L1442.9 759.8L1443.8 779.0L1444.7 794.8L1445.7 803.3L1446.6 770.8L1447.5 747.9L1448.5 739.2L1449.4 738.2L1450.3 730.1L1451.3 702.1L1452.2 714.3L1453.2 738.4L1454.1 762.0L1455.0 752.2L1456.0 776.6L1456.9 797.5L1457.8 826.3L1458.8 803.3L1459.7 771.2L1460.6 769.7L1461.6 768.0L1462.5 781.2" stroke="#ff7f0e" stroke-width="2.1" stroke-linejoin="round"/></g>
<rect x="116.5" y="585.5" width="1346.0" height="469.0" fill="none" stroke="#000" stroke-width="1.1"/>
<path d="M116.50 1054.5v5M284.75 1054.5v5M453.00 1054.5v5M621.25 1054.5v5M789.50 1054.5v5M957.75 1054.5v5M1126.00 1054.5v5M1294.25 1054.5v5M116.5 652.40h-5M116.5 747.90h-5M116.5 843.40h-5M116.5 938.90h-5M116.5 1034.40h-5" stroke="#000" stroke-width="1.1" fill="none"/>
<text x="104.60" y="660.00" font-size="21.20" text-anchor="end" stroke="#000" stroke-width=".28" stroke-linejoin="round" textLength="38.6" lengthAdjust="spacingAndGlyphs">0.4</text>
<text x="104.60" y="755.50" font-size="21.20" text-anchor="end" stroke="#000" stroke-width=".28" stroke-linejoin="round" textLength="38.6" lengthAdjust="spacingAndGlyphs">0.3</text>
<text x="104.60" y="851.00" font-size="21.20" text-anchor="end" stroke="#000" stroke-width=".28" stroke-linejoin="round" textLength="38.6" lengthAdjust="spacingAndGlyphs">0.2</text>
<text x="104.60" y="946.50" font-size="21.20" text-anchor="end" stroke="#000" stroke-width=".28" stroke-linejoin="round" textLength="38.6" lengthAdjust="spacingAndGlyphs">0.1</text>
<text x="104.60" y="1042.00" font-size="21.20" text-anchor="end" stroke="#000" stroke-width=".28" stroke-linejoin="round" textLength="38.6" lengthAdjust="spacingAndGlyphs">0.0</text>
<text x="113.10" y="1077.00" font-size="21.20" text-anchor="end" stroke="#000" stroke-width=".28" stroke-linejoin="round" textLength="112.5" lengthAdjust="spacingAndGlyphs" transform="rotate(-30 113.10 1077.00)">08-06 00</text>
<text x="281.35" y="1077.00" font-size="21.20" text-anchor="end" stroke="#000" stroke-width=".28" stroke-linejoin="round" textLength="112.5" lengthAdjust="spacingAndGlyphs" transform="rotate(-30 281.35 1077.00)">08-06 03</text>
<text x="449.60" y="1077.00" font-size="21.20" text-anchor="end" stroke="#000" stroke-width=".28" stroke-linejoin="round" textLength="112.5" lengthAdjust="spacingAndGlyphs" transform="rotate(-30 449.60 1077.00)">08-06 06</text>
<text x="617.85" y="1077.00" font-size="21.20" text-anchor="end" stroke="#000" stroke-width=".28" stroke-linejoin="round" textLength="112.5" lengthAdjust="spacingAndGlyphs" transform="rotate(-30 617.85 1077.00)">08-06 09</text>
<text x="786.10" y="1077.00" font-size="21.20" text-anchor="end" stroke="#000" stroke-width=".28" stroke-linejoin="round" textLength="112.5" lengthAdjust="spacingAndGlyphs" transform="rotate(-30 786.10 1077.00)">08-06 12</text>
<text x="954.35" y="1077.00" font-size="21.20" text-anchor="end" stroke="#000" stroke-width=".28" stroke-linejoin="round" textLength="112.5" lengthAdjust="spacingAndGlyphs" transform="rotate(-30 954.35 1077.00)">08-06 15</text>
<text x="1122.60" y="1077.00" font-size="21.20" text-anchor="end" stroke="#000" stroke-width=".28" stroke-linejoin="round" textLength="112.5" lengthAdjust="spacingAndGlyphs" transform="rotate(-30 1122.60 1077.00)">08-06 18</text>
<text x="1290.85" y="1077.00" font-size="21.20" text-anchor="end" stroke="#000" stroke-width=".28" stroke-linejoin="round" textLength="112.5" lengthAdjust="spacingAndGlyphs" transform="rotate(-30 1290.85 1077.00)">08-06 21</text>
<text x="60.60" y="293.70" font-size="22.60" text-anchor="middle" stroke="#000" stroke-width=".28" stroke-linejoin="round" textLength="225.5" lengthAdjust="spacingAndGlyphs" transform="rotate(-90 60.60 293.70)">Doppler Shift [Hz]</text>
<text x="55.50" y="819.40" font-size="22.60" text-anchor="middle" stroke="#000" stroke-width=".28" stroke-linejoin="round" textLength="209.0" lengthAdjust="spacingAndGlyphs" transform="rotate(-90 55.50 819.40)">Peak Voltage [V]</text>
<text x="789.20" y="1157.20" font-size="22.60" text-anchor="middle" stroke="#000" stroke-width=".28" stroke-linejoin="round" textLength="49.0" lengthAdjust="spacingAndGlyphs">UTC</text>
<text x="783.80" y="29.20" font-size="27.00" text-anchor="middle" stroke="#000" stroke-width=".28" stroke-linejoin="round" textLength="280.5" lengthAdjust="spacingAndGlyphs">5.0 MHz N0000001</text>
<text x="116.30" y="28.60" font-size="24.60" text-anchor="start" stroke="#000" stroke-width=".28" stroke-linejoin="round" textLength="40.8" lengthAdjust="spacingAndGlyphs">(a)</text>
<text x="116.60" y="576.40" font-size="24.60" text-anchor="start" stroke="#000" stroke-width=".28" stroke-linejoin="round" textLength="41.3" lengthAdjust="spacingAndGlyphs">(b)</text>
<text x="117.10" y="53.40" font-size="21.20" text-anchor="start" stroke="#000" stroke-width=".28" stroke-linejoin="round" textLength="62.0" lengthAdjust="spacingAndGlyphs">+5e6</text>
<rect x="1047.6" y="68.7" width="405.9" height="80.6" rx="3.5" ry="3.5" fill="#fff" fill-opacity="0.8" stroke="#ccc" stroke-width="1.2"/>
<circle cx="1073.5" cy="83.5" r="2.75" fill="#1f77b4"/>
<path d="M1052.9 121.6H1092" stroke="#ff7f0e" stroke-width="2.1" fill="none"/>
<text x="1105.60" y="88.90" font-size="18.20" text-anchor="start" stroke="#000" stroke-width=".28" stroke-linejoin="round" textLength="99.0" lengthAdjust="spacingAndGlyphs">Raw Data</text>
<text x="1105.60" y="116.00" font-size="18.20" text-anchor="start" stroke="#000" stroke-width=".28" stroke-linejoin="round" textLength="269.5" lengthAdjust="spacingAndGlyphs">Butterworth Filtered Data</text>
<text x="1106.00" y="136.90" font-size="18.20" text-anchor="start" stroke="#000" stroke-width=".28" stroke-linejoin="round" textLength="339.0" lengthAdjust="spacingAndGlyphs">(N=6, Tc=3.3333 min, Type: low)</text>
<rect x="1047.6" y="594.7" width="405.9" height="80.6" rx="3.5" ry="3.5" fill="#fff" fill-opacity="0.8" stroke="#ccc" stroke-width="1.2"/>
<circle cx="1073.5" cy="609.5" r="2.75" fill="#1f77b4"/>
<path d="M1052.9 647.6H1092" stroke="#ff7f0e" stroke-width="2.1" fill="none"/>
<text x="1105.60" y="614.90" font-size="18.20" text-anchor="start" stroke="#000" stroke-width=".28" stroke-linejoin="round" textLength="99.0" lengthAdjust="spacingAndGlyphs">Raw Data</text>
<text x="1105.60" y="642.00" font-size="18.20" text-anchor="start" stroke="#000" stroke-width=".28" stroke-linejoin="round" textLength="269.5" lengthAdjust="spacingAndGlyphs">Butterworth Filtered Data</text>
<text x="1106.00" y="662.90" font-size="18.20" text-anchor="start" stroke="#000" stroke-width=".28" stroke-linejoin="round" textLength="339.0" lengthAdjust="spacingAndGlyphs">(N=6, Tc=3.3333 min, Type: low)</text>
</svg>
</body></html>
